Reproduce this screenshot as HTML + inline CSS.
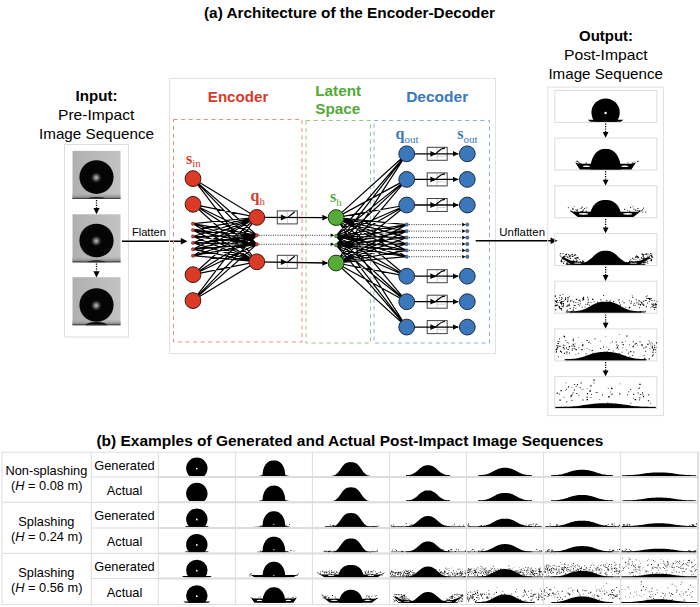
<!DOCTYPE html>
<html><head><meta charset="utf-8"><style>
html,body{margin:0;padding:0;background:#fff;}
svg{display:block;}
</style></head><body>
<svg width="700" height="607" viewBox="0 0 700 607">
<defs>
<linearGradient id="gbg" x1="0" y1="0" x2="1" y2="0"><stop offset="0" stop-color="#afafaf"/><stop offset="1" stop-color="#c3c3c3"/></linearGradient>
<radialGradient id="hl" cx="0.5" cy="0.5" r="0.5"><stop offset="0" stop-color="#c8c8c8"/><stop offset="0.35" stop-color="#707070"/><stop offset="0.7" stop-color="#202020"/><stop offset="1" stop-color="#050505" stop-opacity="0"/></radialGradient>
<linearGradient id="gfloor" x1="0" y1="0" x2="0" y2="1"><stop offset="0" stop-color="#b0b0b0" stop-opacity="0"/><stop offset="0.55" stop-color="#a0a0a0"/><stop offset="1" stop-color="#6a6a6a"/></linearGradient>
</defs>
<rect width="700" height="607" fill="#fff"/>
<text x="204" y="18.2" font-family='"Liberation Sans", sans-serif' font-size="14.6" font-weight="bold" fill="#000" text-anchor="start" textLength="291" lengthAdjust="spacingAndGlyphs">(a) Architecture of the Encoder-Decoder</text>
<text x="75.6" y="101" font-family='"Liberation Sans", sans-serif' font-size="14.6" font-weight="bold" fill="#000" text-anchor="start" textLength="42" lengthAdjust="spacingAndGlyphs">Input:</text>
<text x="58" y="119.6" font-family='"Liberation Sans", sans-serif' font-size="14.6" font-weight="normal" fill="#000" text-anchor="start" textLength="76.4" lengthAdjust="spacingAndGlyphs">Pre-Impact</text>
<text x="39" y="138.6" font-family='"Liberation Sans", sans-serif' font-size="14.6" font-weight="normal" fill="#000" text-anchor="start" textLength="115" lengthAdjust="spacingAndGlyphs">Image Sequence</text>
<rect x="64.5" y="144.5" width="64" height="192.5" fill="none" stroke="#dedede" stroke-width="1"/>
<rect x="72.5" y="150.9" width="48" height="48" fill="url(#gbg)"/>
<rect x="72.5" y="192.9" width="48" height="6" fill="url(#gfloor)"/>
<path d="M87.0,198.9 A9.5,2.0 0 0 1 106.0,198.9 Z" fill="#1e1e1e"/>
<rect x="72.5" y="198.1" width="48" height="0.8" fill="#3a3a3a"/>
<ellipse cx="96.5" cy="177.1" rx="17.1" ry="16.8" fill="#050505"/>
<circle cx="96.2" cy="177.6" r="6" fill="url(#hl)"/>
<rect x="72.5" y="214.3" width="48" height="48" fill="url(#gbg)"/>
<rect x="72.5" y="256.3" width="48" height="6" fill="url(#gfloor)"/>
<path d="M87.0,262.3 A9.5,2.0 0 0 1 106.0,262.3 Z" fill="#1e1e1e"/>
<rect x="72.5" y="261.5" width="48" height="0.8" fill="#3a3a3a"/>
<ellipse cx="96.5" cy="240.5" rx="17.1" ry="16.8" fill="#050505"/>
<circle cx="96.2" cy="241.0" r="6" fill="url(#hl)"/>
<rect x="72.5" y="277.2" width="48" height="48" fill="url(#gbg)"/>
<rect x="72.5" y="319.2" width="48" height="6" fill="url(#gfloor)"/>
<path d="M85.5,325.2 A11,3.2 0 0 1 107.5,325.2 Z" fill="#0a0a0a"/>
<rect x="72.5" y="324.4" width="48" height="0.8" fill="#3a3a3a"/>
<ellipse cx="96.5" cy="305.0" rx="17.1" ry="16.8" fill="#050505"/>
<circle cx="96.2" cy="305.5" r="6" fill="url(#hl)"/>
<line x1="96.5" y1="200.0" x2="96.5" y2="208.10000000000002" stroke="#000" stroke-width="1.3" stroke-dasharray="1.2 1.2"/>
<path d="M93.4,208.10000000000002 L99.6,208.10000000000002 L96.5,214.3 Z" fill="#000"/>
<line x1="96.5" y1="263.5" x2="96.5" y2="271.2" stroke="#000" stroke-width="1.3" stroke-dasharray="1.2 1.2"/>
<path d="M93.4,271.2 L99.6,271.2 L96.5,277.4 Z" fill="#000"/>
<text x="131.9" y="235.8" font-family='"Liberation Sans", sans-serif' font-size="11.2" font-weight="normal" fill="#000" text-anchor="start" textLength="34" lengthAdjust="spacingAndGlyphs">Flatten</text>
<line x1="122" y1="241.2" x2="182.5" y2="241.2" stroke="#000" stroke-width="1.5"/>
<path d="M180.8,238 L187.5,241.2 L180.8,244.4 Z" fill="#000"/>
<rect x="169.5" y="78.5" width="326" height="275" fill="none" stroke="#e2e2e2" stroke-width="1"/>
<text x="207.8" y="101.8" font-family='"Liberation Sans", sans-serif' font-size="15" font-weight="bold" fill="#d83a27" text-anchor="start" textLength="60.5" lengthAdjust="spacingAndGlyphs">Encoder</text>
<text x="315.2" y="95.8" font-family='"Liberation Sans", sans-serif' font-size="15" font-weight="bold" fill="#53aa39" text-anchor="start" textLength="46" lengthAdjust="spacingAndGlyphs">Latent</text>
<text x="315.2" y="114" font-family='"Liberation Sans", sans-serif' font-size="15" font-weight="bold" fill="#53aa39" text-anchor="start" textLength="45.2" lengthAdjust="spacingAndGlyphs">Space</text>
<text x="406.2" y="102" font-family='"Liberation Sans", sans-serif' font-size="15" font-weight="bold" fill="#3a78be" text-anchor="start" textLength="62" lengthAdjust="spacingAndGlyphs">Decoder</text>
<rect x="173.5" y="119.5" width="128.5" height="222.5" fill="none" stroke="#ec8c7e" stroke-width="1" stroke-dasharray="4 3.6"/>
<rect x="306" y="120.5" width="64.5" height="222.5" fill="none" stroke="#93ca80" stroke-width="1" stroke-dasharray="4 3.6"/>
<rect x="374" y="120.5" width="115.5" height="222.5" fill="none" stroke="#8ab0dc" stroke-width="1" stroke-dasharray="4 3.6"/>
<path d="M193.0,178.6L256.8,217.4M193.0,178.6L256.8,261.8M193.0,178.6L256.8,235.3M193.0,178.6L256.8,244.3M193.0,204.3L256.8,217.4M193.0,204.3L256.8,261.8M193.0,204.3L256.8,235.3M193.0,204.3L256.8,244.3M193.0,274.7L256.8,217.4M193.0,274.7L256.8,261.8M193.0,274.7L256.8,235.3M193.0,274.7L256.8,244.3M193.0,300.6L256.8,217.4M193.0,300.6L256.8,261.8M193.0,300.6L256.8,235.3M193.0,300.6L256.8,244.3M193.0,223.7L256.8,217.4M193.0,223.7L256.8,261.8M193.0,223.7L256.8,235.3M193.0,223.7L256.8,244.3M193.0,230.1L256.8,217.4M193.0,230.1L256.8,261.8M193.0,230.1L256.8,235.3M193.0,230.1L256.8,244.3M193.0,236.5L256.8,217.4M193.0,236.5L256.8,261.8M193.0,236.5L256.8,235.3M193.0,236.5L256.8,244.3M193.0,242.9L256.8,217.4M193.0,242.9L256.8,261.8M193.0,242.9L256.8,235.3M193.0,242.9L256.8,244.3M193.0,249.3L256.8,217.4M193.0,249.3L256.8,261.8M193.0,249.3L256.8,235.3M193.0,249.3L256.8,244.3M193.0,255.7L256.8,217.4M193.0,255.7L256.8,261.8M193.0,255.7L256.8,235.3M193.0,255.7L256.8,244.3M336.1,217.6L406.7,153.8M336.1,217.6L406.7,179.4M336.1,217.6L406.7,205.0M336.1,217.6L406.7,276.2M336.1,217.6L406.7,301.7M336.1,217.6L406.7,327.1M336.1,217.6L406.7,224.6M336.1,217.6L406.7,231.1M336.1,217.6L406.7,237.6M336.1,217.6L406.7,244.0M336.1,217.6L406.7,250.4M336.1,217.6L406.7,256.7M336.1,263.0L406.7,153.8M336.1,263.0L406.7,179.4M336.1,263.0L406.7,205.0M336.1,263.0L406.7,276.2M336.1,263.0L406.7,301.7M336.1,263.0L406.7,327.1M336.1,263.0L406.7,224.6M336.1,263.0L406.7,231.1M336.1,263.0L406.7,237.6M336.1,263.0L406.7,244.0M336.1,263.0L406.7,250.4M336.1,263.0L406.7,256.7M336.1,236.0L406.7,153.8M336.1,236.0L406.7,179.4M336.1,236.0L406.7,205.0M336.1,236.0L406.7,276.2M336.1,236.0L406.7,301.7M336.1,236.0L406.7,327.1M336.1,236.0L406.7,224.6M336.1,236.0L406.7,231.1M336.1,236.0L406.7,237.6M336.1,236.0L406.7,244.0M336.1,236.0L406.7,250.4M336.1,236.0L406.7,256.7M336.1,245.2L406.7,153.8M336.1,245.2L406.7,179.4M336.1,245.2L406.7,205.0M336.1,245.2L406.7,276.2M336.1,245.2L406.7,301.7M336.1,245.2L406.7,327.1M336.1,245.2L406.7,224.6M336.1,245.2L406.7,231.1M336.1,245.2L406.7,237.6M336.1,245.2L406.7,244.0M336.1,245.2L406.7,250.4M336.1,245.2L406.7,256.7" stroke="#000" stroke-width="1.2" fill="none"/>
<rect x="277.3" y="210.9" width="20" height="13" fill="#fff" stroke="#444" stroke-width="1"/>
<line x1="287.3" y1="211.4" x2="287.3" y2="223.4" stroke="#bbb" stroke-width="0.8"/>
<line x1="256.8" y1="217.4" x2="327.1" y2="217.6" stroke="#000" stroke-width="1.3"/>
<path d="M280.9,214.6 L287.2,217.6 L280.9,220.6 Z" fill="#000"/>
<line x1="287.8" y1="217.6" x2="294.7" y2="211.8" stroke="#000" stroke-width="1.2"/>
<path d="M322.3,214.79999999999998 L328.3,217.6 L322.3,220.4 Z" fill="#000"/>
<rect x="277.3" y="255.3" width="20" height="13" fill="#fff" stroke="#444" stroke-width="1"/>
<line x1="287.3" y1="255.8" x2="287.3" y2="267.8" stroke="#bbb" stroke-width="0.8"/>
<line x1="256.8" y1="261.8" x2="327.1" y2="263.0" stroke="#000" stroke-width="1.3"/>
<path d="M280.9,259.0 L287.2,262.0 L280.9,265.0 Z" fill="#000"/>
<line x1="287.8" y1="262.0" x2="294.7" y2="256.2" stroke="#000" stroke-width="1.2"/>
<path d="M322.3,260.2 L328.3,263.0 L322.3,265.8 Z" fill="#000"/>
<line x1="256.8" y1="235.3" x2="331" y2="235.3" stroke="#222" stroke-width="0.9" stroke-dasharray="1 1.3"/>
<path d="M330.7,233.5 L334.3,235.3 L330.7,237.10000000000002 Z" fill="#000"/>
<line x1="256.8" y1="244.3" x2="331" y2="244.3" stroke="#222" stroke-width="0.9" stroke-dasharray="1 1.3"/>
<path d="M330.7,242.5 L334.3,244.3 L330.7,246.10000000000002 Z" fill="#000"/>
<rect x="427.2" y="147.3" width="20" height="13" fill="#fff" stroke="#444" stroke-width="1"/>
<line x1="437.2" y1="147.8" x2="437.2" y2="159.8" stroke="#bbb" stroke-width="0.8"/>
<line x1="437.2" y1="156.3" x2="446.7" y2="156.3" stroke="#ccc" stroke-width="0.8"/>
<line x1="406.7" y1="153.8" x2="458.3" y2="153.8" stroke="#000" stroke-width="1.3"/>
<path d="M430.4,150.9 L436.2,153.8 L430.4,156.70000000000002 Z" fill="#000"/>
<path d="M433,154.60000000000002 C437.5,154.60000000000002 438.5,148.20000000000002 445,148.20000000000002" stroke="#000" stroke-width="1.2" fill="none"/>
<path d="M453.0,151.10000000000002 L458.5,153.8 L453.0,156.5 Z" fill="#000"/>
<rect x="427.2" y="172.9" width="20" height="13" fill="#fff" stroke="#444" stroke-width="1"/>
<line x1="437.2" y1="173.4" x2="437.2" y2="185.4" stroke="#bbb" stroke-width="0.8"/>
<line x1="437.2" y1="181.9" x2="446.7" y2="181.9" stroke="#ccc" stroke-width="0.8"/>
<line x1="406.7" y1="179.4" x2="458.3" y2="179.4" stroke="#000" stroke-width="1.3"/>
<path d="M430.4,176.5 L436.2,179.4 L430.4,182.3 Z" fill="#000"/>
<path d="M433,180.20000000000002 C437.5,180.20000000000002 438.5,173.8 445,173.8" stroke="#000" stroke-width="1.2" fill="none"/>
<path d="M453.0,176.70000000000002 L458.5,179.4 L453.0,182.1 Z" fill="#000"/>
<rect x="427.2" y="198.5" width="20" height="13" fill="#fff" stroke="#444" stroke-width="1"/>
<line x1="437.2" y1="199.0" x2="437.2" y2="211.0" stroke="#bbb" stroke-width="0.8"/>
<line x1="437.2" y1="207.5" x2="446.7" y2="207.5" stroke="#ccc" stroke-width="0.8"/>
<line x1="406.7" y1="205.0" x2="458.3" y2="205.0" stroke="#000" stroke-width="1.3"/>
<path d="M430.4,202.1 L436.2,205.0 L430.4,207.9 Z" fill="#000"/>
<path d="M433,205.8 C437.5,205.8 438.5,199.4 445,199.4" stroke="#000" stroke-width="1.2" fill="none"/>
<path d="M453.0,202.3 L458.5,205.0 L453.0,207.7 Z" fill="#000"/>
<rect x="427.2" y="269.7" width="20" height="13" fill="#fff" stroke="#444" stroke-width="1"/>
<line x1="437.2" y1="270.2" x2="437.2" y2="282.2" stroke="#bbb" stroke-width="0.8"/>
<line x1="437.2" y1="278.7" x2="446.7" y2="278.7" stroke="#ccc" stroke-width="0.8"/>
<line x1="406.7" y1="276.2" x2="458.3" y2="276.2" stroke="#000" stroke-width="1.3"/>
<path d="M430.4,273.3 L436.2,276.2 L430.4,279.09999999999997 Z" fill="#000"/>
<path d="M433,277.0 C437.5,277.0 438.5,270.59999999999997 445,270.59999999999997" stroke="#000" stroke-width="1.2" fill="none"/>
<path d="M453.0,273.5 L458.5,276.2 L453.0,278.9 Z" fill="#000"/>
<rect x="427.2" y="295.2" width="20" height="13" fill="#fff" stroke="#444" stroke-width="1"/>
<line x1="437.2" y1="295.7" x2="437.2" y2="307.7" stroke="#bbb" stroke-width="0.8"/>
<line x1="437.2" y1="304.2" x2="446.7" y2="304.2" stroke="#ccc" stroke-width="0.8"/>
<line x1="406.7" y1="301.7" x2="458.3" y2="301.7" stroke="#000" stroke-width="1.3"/>
<path d="M430.4,298.8 L436.2,301.7 L430.4,304.59999999999997 Z" fill="#000"/>
<path d="M433,302.5 C437.5,302.5 438.5,296.09999999999997 445,296.09999999999997" stroke="#000" stroke-width="1.2" fill="none"/>
<path d="M453.0,299.0 L458.5,301.7 L453.0,304.4 Z" fill="#000"/>
<rect x="427.2" y="320.6" width="20" height="13" fill="#fff" stroke="#444" stroke-width="1"/>
<line x1="437.2" y1="321.1" x2="437.2" y2="333.1" stroke="#bbb" stroke-width="0.8"/>
<line x1="437.2" y1="329.6" x2="446.7" y2="329.6" stroke="#ccc" stroke-width="0.8"/>
<line x1="406.7" y1="327.1" x2="458.3" y2="327.1" stroke="#000" stroke-width="1.3"/>
<path d="M430.4,324.20000000000005 L436.2,327.1 L430.4,330.0 Z" fill="#000"/>
<path d="M433,327.90000000000003 C437.5,327.90000000000003 438.5,321.5 445,321.5" stroke="#000" stroke-width="1.2" fill="none"/>
<path d="M453.0,324.40000000000003 L458.5,327.1 L453.0,329.8 Z" fill="#000"/>
<line x1="406.7" y1="224.6" x2="462" y2="224.6" stroke="#222" stroke-width="0.9" stroke-dasharray="1 1.3"/>
<path d="M462.20000000000005,222.79999999999998 L465.6,224.6 L462.20000000000005,226.4 Z" fill="#000"/>
<line x1="406.7" y1="231.1" x2="462" y2="231.1" stroke="#222" stroke-width="0.9" stroke-dasharray="1 1.3"/>
<path d="M462.20000000000005,229.29999999999998 L465.6,231.1 L462.20000000000005,232.9 Z" fill="#000"/>
<line x1="406.7" y1="237.6" x2="462" y2="237.6" stroke="#222" stroke-width="0.9" stroke-dasharray="1 1.3"/>
<path d="M462.20000000000005,235.79999999999998 L465.6,237.6 L462.20000000000005,239.4 Z" fill="#000"/>
<line x1="406.7" y1="244.0" x2="462" y2="244.0" stroke="#222" stroke-width="0.9" stroke-dasharray="1 1.3"/>
<path d="M462.20000000000005,242.2 L465.6,244.0 L462.20000000000005,245.8 Z" fill="#000"/>
<line x1="406.7" y1="250.4" x2="462" y2="250.4" stroke="#222" stroke-width="0.9" stroke-dasharray="1 1.3"/>
<path d="M462.20000000000005,248.6 L465.6,250.4 L462.20000000000005,252.20000000000002 Z" fill="#000"/>
<line x1="406.7" y1="256.7" x2="462" y2="256.7" stroke="#222" stroke-width="0.9" stroke-dasharray="1 1.3"/>
<path d="M462.20000000000005,254.89999999999998 L465.6,256.7 L462.20000000000005,258.5 Z" fill="#000"/>
<circle cx="193.0" cy="178.6" r="7.9" fill="#db3b26" stroke="#3d1c12" stroke-width="1"/>
<circle cx="193.0" cy="204.3" r="7.9" fill="#db3b26" stroke="#3d1c12" stroke-width="1"/>
<circle cx="193.0" cy="274.7" r="7.9" fill="#db3b26" stroke="#3d1c12" stroke-width="1"/>
<circle cx="193.0" cy="300.6" r="7.9" fill="#db3b26" stroke="#3d1c12" stroke-width="1"/>
<circle cx="193.0" cy="223.7" r="1.7" fill="#db3b26" stroke="#222" stroke-width="0.4"/>
<circle cx="193.0" cy="230.1" r="1.7" fill="#db3b26" stroke="#222" stroke-width="0.4"/>
<circle cx="193.0" cy="236.5" r="1.7" fill="#db3b26" stroke="#222" stroke-width="0.4"/>
<circle cx="193.0" cy="242.9" r="1.7" fill="#db3b26" stroke="#222" stroke-width="0.4"/>
<circle cx="193.0" cy="249.3" r="1.7" fill="#db3b26" stroke="#222" stroke-width="0.4"/>
<circle cx="193.0" cy="255.7" r="1.7" fill="#db3b26" stroke="#222" stroke-width="0.4"/>
<circle cx="256.8" cy="217.4" r="7.9" fill="#db3b26" stroke="#3d1c12" stroke-width="1"/>
<circle cx="256.8" cy="261.8" r="7.9" fill="#db3b26" stroke="#3d1c12" stroke-width="1"/>
<circle cx="256.8" cy="235.3" r="1.7" fill="#db3b26" stroke="#222" stroke-width="0.4"/>
<circle cx="256.8" cy="244.3" r="1.7" fill="#db3b26" stroke="#222" stroke-width="0.4"/>
<circle cx="336.1" cy="217.6" r="7.9" fill="#55ab37" stroke="#203b16" stroke-width="1"/>
<circle cx="336.1" cy="263.0" r="7.9" fill="#55ab37" stroke="#203b16" stroke-width="1"/>
<circle cx="336.1" cy="236.0" r="1.7" fill="#55ab37" stroke="#222" stroke-width="0.4"/>
<circle cx="336.1" cy="245.2" r="1.7" fill="#55ab37" stroke="#222" stroke-width="0.4"/>
<circle cx="406.7" cy="153.8" r="7.9" fill="#3a77bb" stroke="#1c2c44" stroke-width="1"/>
<circle cx="406.7" cy="179.4" r="7.9" fill="#3a77bb" stroke="#1c2c44" stroke-width="1"/>
<circle cx="406.7" cy="205.0" r="7.9" fill="#3a77bb" stroke="#1c2c44" stroke-width="1"/>
<circle cx="406.7" cy="276.2" r="7.9" fill="#3a77bb" stroke="#1c2c44" stroke-width="1"/>
<circle cx="406.7" cy="301.7" r="7.9" fill="#3a77bb" stroke="#1c2c44" stroke-width="1"/>
<circle cx="406.7" cy="327.1" r="7.9" fill="#3a77bb" stroke="#1c2c44" stroke-width="1"/>
<circle cx="406.7" cy="224.6" r="1.7" fill="#3a77bb" stroke="#222" stroke-width="0.4"/>
<circle cx="406.7" cy="231.1" r="1.7" fill="#3a77bb" stroke="#222" stroke-width="0.4"/>
<circle cx="406.7" cy="237.6" r="1.7" fill="#3a77bb" stroke="#222" stroke-width="0.4"/>
<circle cx="406.7" cy="244.0" r="1.7" fill="#3a77bb" stroke="#222" stroke-width="0.4"/>
<circle cx="406.7" cy="250.4" r="1.7" fill="#3a77bb" stroke="#222" stroke-width="0.4"/>
<circle cx="406.7" cy="256.7" r="1.7" fill="#3a77bb" stroke="#222" stroke-width="0.4"/>
<circle cx="467.3" cy="153.8" r="7.9" fill="#3a77bb" stroke="#1c2c44" stroke-width="1"/>
<circle cx="467.3" cy="179.4" r="7.9" fill="#3a77bb" stroke="#1c2c44" stroke-width="1"/>
<circle cx="467.3" cy="205.0" r="7.9" fill="#3a77bb" stroke="#1c2c44" stroke-width="1"/>
<circle cx="467.3" cy="276.2" r="7.9" fill="#3a77bb" stroke="#1c2c44" stroke-width="1"/>
<circle cx="467.3" cy="301.7" r="7.9" fill="#3a77bb" stroke="#1c2c44" stroke-width="1"/>
<circle cx="467.3" cy="327.1" r="7.9" fill="#3a77bb" stroke="#1c2c44" stroke-width="1"/>
<circle cx="467.3" cy="224.6" r="1.7" fill="#3a77bb" stroke="#222" stroke-width="0.4"/>
<circle cx="467.3" cy="231.1" r="1.7" fill="#3a77bb" stroke="#222" stroke-width="0.4"/>
<circle cx="467.3" cy="237.6" r="1.7" fill="#3a77bb" stroke="#222" stroke-width="0.4"/>
<circle cx="467.3" cy="244.0" r="1.7" fill="#3a77bb" stroke="#222" stroke-width="0.4"/>
<circle cx="467.3" cy="250.4" r="1.7" fill="#3a77bb" stroke="#222" stroke-width="0.4"/>
<circle cx="467.3" cy="256.7" r="1.7" fill="#3a77bb" stroke="#222" stroke-width="0.4"/>
<text x="186" y="163.6" font-family='"Liberation Serif", serif' font-weight="bold" font-size="16" fill="#d83a27">s<tspan font-size="11" font-weight="normal" dy="3.8">in</tspan></text>
<text x="250.5" y="200.7" font-family='"Liberation Serif", serif' font-weight="bold" font-size="16" fill="#d83a27">q<tspan font-size="11" font-weight="normal" dy="3.8">h</tspan></text>
<text x="330" y="202.4" font-family='"Liberation Serif", serif' font-weight="bold" font-size="16" fill="#53aa39">s<tspan font-size="11" font-weight="normal" dy="3.8">h</tspan></text>
<text x="395.6" y="139.4" font-family='"Liberation Serif", serif' font-weight="bold" font-size="16" fill="#3a78be">q<tspan font-size="11" font-weight="normal" dy="3.8">out</tspan></text>
<text x="457.2" y="139.4" font-family='"Liberation Serif", serif' font-weight="bold" font-size="16" fill="#3a78be">s<tspan font-size="11" font-weight="normal" dy="3.8">out</tspan></text>
<text x="499.3" y="235.7" font-family='"Liberation Sans", sans-serif' font-size="11.2" font-weight="normal" fill="#000" text-anchor="start" textLength="45.7" lengthAdjust="spacingAndGlyphs">Unflatten</text>
<line x1="475.7" y1="240.7" x2="552" y2="240.7" stroke="#000" stroke-width="1.5"/>
<path d="M550.6,237.5 L557.6,240.7 L550.6,243.9 Z" fill="#000"/>
<text x="579" y="41" font-family='"Liberation Sans", sans-serif' font-size="14.6" font-weight="bold" fill="#000" text-anchor="start" textLength="54" lengthAdjust="spacingAndGlyphs">Output:</text>
<text x="564" y="59.6" font-family='"Liberation Sans", sans-serif' font-size="14.6" font-weight="normal" fill="#000" text-anchor="start" textLength="83.6" lengthAdjust="spacingAndGlyphs">Post-Impact</text>
<text x="548.4" y="78.6" font-family='"Liberation Sans", sans-serif' font-size="14.6" font-weight="normal" fill="#000" text-anchor="start" textLength="114.6" lengthAdjust="spacingAndGlyphs">Image Sequence</text>
<rect x="547.8" y="87.1" width="115.7" height="328.5" fill="none" stroke="#e0e0e0" stroke-width="1"/>
<rect x="554.8" y="90.4" width="102" height="32" fill="none" stroke="#dcdcdc" stroke-width="1"/>
<path d="M594.77,121.7 A14.17,14.17 0 1 1 616.43,121.7 Z" fill="#000"/>
<path d="M587.72,119.85 L623.48,119.85 L620.83,121.7 L590.37,121.7 Z" fill="#000"/>
<circle cx="605.6" cy="112.96" r="1.19" fill="#fff"/>
<rect x="554.8" y="138.1" width="102" height="32" fill="none" stroke="#dcdcdc" stroke-width="1"/>
<path d="M590.37,169.4 L590.37,169.4 L591.13,162.55 L591.89,159.88 L592.65,157.93 L593.41,156.39 L594.17,155.12 L594.94,154.04 L595.7,153.12 L596.46,152.33 L597.22,151.65 L597.98,151.07 L598.74,150.57 L599.51,150.16 L600.27,149.81 L601.03,149.52 L601.79,149.3 L602.55,149.12 L603.31,149 L604.08,148.92 L604.84,148.88 L605.6,148.87 L606.36,148.88 L607.12,148.92 L607.89,149 L608.65,149.12 L609.41,149.3 L610.17,149.52 L610.93,149.81 L611.69,150.16 L612.46,150.57 L613.22,151.07 L613.98,151.65 L614.74,152.33 L615.5,153.12 L616.26,154.04 L617.03,155.12 L617.79,156.39 L618.55,157.93 L619.31,159.88 L620.07,162.55 L620.83,169.4 L620.83,169.4 Z" fill="#000"/>
<path d="M579.77,169.4 L631.43,169.4 L635.41,163.31 L636.07,162.25 L632.09,163.7 L579.11,163.7 L575.13,162.25 L575.79,163.31 Z" fill="#000"/>
<ellipse cx="586.39" cy="166.22" rx="3.71" ry="0.79" fill="#fff"/>
<ellipse cx="624.81" cy="166.22" rx="3.71" ry="0.79" fill="#fff"/>
<path d="M632.57,162.56h0.93v1h-0.93zM585.55,162.41h1.03v1.16h-1.03zM579.79,163.1h0.6v1.17h-0.6zM576.47,160.85h1.3v1.05h-1.3zM583.82,164.05h0.95v0.58h-0.95zM585.9,163.3h0.55v0.9h-0.55zM627.37,162.38h1.04v0.93h-1.04zM637.24,160.8h1.2v1.09h-1.2zM578.27,161.56h0.85v1.2h-0.85zM634.72,161.3h0.53v0.7h-0.53zM631.69,162.54h1.31v0.85h-1.31zM578.45,162.02h1.15v0.74h-1.15zM579.35,163h1.3v1.13h-1.3zM581.31,163.29h0.61v0.58h-0.61z" fill="#000"/>
<rect x="554.8" y="185.8" width="102" height="32" fill="none" stroke="#dcdcdc" stroke-width="1"/>
<path d="M589.97,217.1 L589.97,217.1 L590.75,211.47 L591.53,209.27 L592.31,207.66 L593.1,206.37 L593.88,205.31 L594.66,204.4 L595.44,203.62 L596.22,202.95 L597,202.37 L597.78,201.87 L598.57,201.44 L599.35,201.07 L600.13,200.76 L600.91,200.5 L601.69,200.29 L602.47,200.13 L603.26,200.01 L604.04,199.93 L604.82,199.89 L605.6,199.88 L606.38,199.89 L607.16,199.93 L607.94,200.01 L608.73,200.13 L609.51,200.29 L610.29,200.5 L611.07,200.76 L611.85,201.07 L612.63,201.44 L613.42,201.87 L614.2,202.37 L614.98,202.95 L615.76,203.62 L616.54,204.4 L617.32,205.31 L618.1,206.37 L618.89,207.66 L619.67,209.27 L620.45,211.47 L621.23,217.1 L621.23,217.1 Z" fill="#000"/>
<path d="M577.78,217.1 L633.42,217.1 L640.7,211.27 L641.37,210.21 L637.39,211.67 L573.81,211.67 L569.83,210.21 L570.5,211.27 Z" fill="#000"/>
<ellipse cx="583.48" cy="213.79" rx="4.64" ry="0.86" fill="#fff"/>
<ellipse cx="627.72" cy="213.79" rx="4.64" ry="0.86" fill="#fff"/>
<path d="M629.21,210.86h0.97v0.89h-0.97zM581.02,207.92h0.63v1.04h-0.63zM575.12,209.57h0.7v0.74h-0.7zM643.03,207.54h0.77v1.23h-0.77zM582.61,209.71h1.21v1.04h-1.21zM573.83,206.56h0.7v0.74h-0.7zM627.27,210.06h0.77v0.59h-0.77zM573.02,208.71h0.72v1.01h-0.72zM642.09,209.24h0.99v1.22h-0.99zM580.39,210.98h1.25v1.18h-1.25zM585.69,210.8h1.12v1.28h-1.12zM581.48,206.77h1.23v1.01h-1.23zM574.11,211.6h1.3v0.72h-1.3zM586.28,207.44h1v0.76h-1zM579.8,207.98h0.58v0.71h-0.58zM633.61,208.55h0.75v1.26h-0.75zM582.07,211.71h0.74v0.88h-0.74zM570.66,210.87h0.82v0.98h-0.82zM576.32,209.88h1.24v1.31h-1.24zM577.01,211.62h0.54v1.25h-0.54zM642.38,211.69h1.04v0.91h-1.04zM645.29,211.4h0.96v1.12h-0.96zM637.41,207.9h1.09v1.16h-1.09zM638.58,209.94h1.07v1.25h-1.07zM635.1,209.59h1.16v1.22h-1.16zM572.23,208.41h1.32v1.23h-1.32zM624.28,208.72h0.88v1.2h-0.88zM572.52,207.83h0.55v1.01h-0.55zM584.16,208.1h0.93v1.02h-0.93zM639.02,210.45h0.54v0.77h-0.54zM581.96,210.9h1.25v1.05h-1.25zM636.73,210.07h1.06v0.69h-1.06zM629.92,206.96h1.23v0.84h-1.23zM576.68,209.17h1.2v1.2h-1.2zM641.37,210.33h0.66v0.89h-0.66zM582.87,209.61h1.03v0.92h-1.03zM632.55,206.6h0.89v0.59h-0.89zM568.36,207.18h0.56v1.09h-0.56zM628.77,211.7h0.64v0.89h-0.64zM567.83,207.41h0.72v0.64h-0.72z" fill="#000"/>
<rect x="554.8" y="233.5" width="102" height="32" fill="none" stroke="#dcdcdc" stroke-width="1"/>
<path d="M576.46,264.8 L576.46,263.81 L577.62,263.77 L578.79,263.7 L579.95,263.6 L581.12,263.44 L582.29,263.23 L583.45,262.93 L584.62,262.54 L585.78,262.05 L586.95,261.43 L588.11,260.71 L589.28,259.87 L590.45,258.93 L591.61,257.93 L592.78,256.88 L593.94,255.83 L595.11,254.81 L596.27,253.85 L597.44,253 L598.61,252.27 L599.77,251.67 L600.94,251.22 L602.1,250.91 L603.27,250.73 L604.43,250.64 L605.6,250.63 L606.77,250.64 L607.93,250.73 L609.1,250.91 L610.26,251.22 L611.43,251.67 L612.59,252.27 L613.76,253 L614.93,253.85 L616.09,254.81 L617.26,255.83 L618.42,256.88 L619.59,257.93 L620.75,258.93 L621.92,259.87 L623.09,260.71 L624.25,261.43 L625.42,262.05 L626.58,262.54 L627.75,262.93 L628.91,263.23 L630.08,263.44 L631.25,263.6 L632.41,263.7 L633.58,263.77 L634.74,263.81 L634.74,264.8 Z" fill="#000"/>
<rect x="565.86" y="263.74" width="79.48" height="1.06" fill="#000"/>
<path d="M589.7,264.8 L571.82,264.8 L561.22,257.91 L563.21,257.12 L571.16,260.83 L581.76,261.89 L589.7,263.21 Z" fill="#000"/>
<path d="M621.5,264.8 L639.38,264.8 L649.98,257.91 L647.99,257.12 L640.04,260.83 L629.44,261.89 L621.5,263.21 Z" fill="#000"/>
<ellipse cx="577.78" cy="263.08" rx="3.97" ry="0.66" fill="#fff"/>
<ellipse cx="633.42" cy="263.08" rx="3.97" ry="0.66" fill="#fff"/>
<path d="M563.59,256.56h1.11v1.14h-1.11zM577.72,258.09h0.54v0.97h-0.54zM643.27,261.95h1.2v0.65h-1.2zM643.61,259.07h1.35v1.27h-1.35zM646.79,258.21h0.72v1.2h-0.72zM635.12,256.44h0.73v1.36h-0.73zM650.15,253.1h1.26v0.83h-1.26zM643.62,254.31h0.61v0.94h-0.61zM634.27,262.18h0.69v0.84h-0.69zM632.3,261.42h1.01v1.2h-1.01zM637.13,255.96h0.99v1.41h-0.99zM567.21,260.61h0.8v1.21h-0.8zM637.46,257.25h0.88v1.31h-0.88zM642.74,260.74h1.43v1.02h-1.43zM577.87,257.49h1.09v0.56h-1.09zM649.13,257.69h1.27v1.05h-1.27zM647.96,253.64h0.97v0.65h-0.97zM576.99,256.67h0.65v1.25h-0.65zM561.35,260.88h1.17v0.83h-1.17zM568.96,255.55h1v0.76h-1zM577.57,257.54h0.88v0.91h-0.88zM574.05,260.78h1.12v1.02h-1.12zM638.17,256.74h0.75v1.22h-0.75zM644.8,260.65h1.35v0.65h-1.35zM568.23,254.55h1.26v0.65h-1.26zM560.88,260.82h1.37v1.43h-1.37zM569.94,257.79h1v1.17h-1zM576.76,262.11h0.56v1.04h-0.56zM572.83,260.98h1.31v1.45h-1.31zM645.18,261.87h1.41v0.96h-1.41zM630.15,259.57h1.01v0.93h-1.01zM560.46,255.85h0.7v0.95h-0.7zM574.54,257.72h1.36v1.27h-1.36zM650.36,254.82h1.37v1.22h-1.37zM642.37,254.07h1.24v1.24h-1.24zM626.24,262.11h0.96v0.54h-0.96zM651.95,256.43h1.24v1.44h-1.24zM561.35,256.7h0.77v0.9h-0.77zM563.92,260.87h0.62v0.76h-0.62zM643.21,257.35h1.43v1.06h-1.43zM651.51,256.47h0.6v1.08h-0.6zM629.64,262.36h0.68v0.97h-0.68zM574.92,257.89h0.58v1.41h-0.58zM560.54,260.38h0.68v1.23h-0.68zM642.46,255.38h1.45v1.41h-1.45zM566.05,253.82h0.97v1.43h-0.97zM634.97,256.82h1.11v0.95h-1.11zM578.12,262.3h0.65v0.94h-0.65zM647.57,255.52h0.64v1.36h-0.64zM629.09,260.93h1.44v1.38h-1.44zM640.72,262.42h0.78v0.92h-0.78zM568.74,257.43h0.61v1.16h-0.61zM578.77,259.4h1.31v0.6h-1.31zM570.34,254.77h1.24v0.73h-1.24zM650.96,259.58h1.22v1.38h-1.22zM568.23,254.12h0.61v1.05h-0.61zM646.39,253.74h1.27v0.81h-1.27zM645.91,253.92h0.87v0.87h-0.87zM577.31,257.21h1.03v1.31h-1.03zM575.61,255.27h0.79v0.55h-0.79zM648.85,256.34h0.59v1.04h-0.59zM632.31,261.98h1.21v1.36h-1.21zM567.09,256.51h1.22v1.13h-1.22zM582,260.62h1.01v1.24h-1.01zM649.02,256.13h1.03v1.2h-1.03zM635.85,256.19h1.28v1.3h-1.28zM641.64,253.3h1.02v1.19h-1.02zM633.63,258.62h0.67v1.22h-0.67zM651.13,259.08h0.72v0.92h-0.72zM631.19,261.03h0.96v1.07h-0.96zM643.55,262.45h0.7v0.73h-0.7zM580,260.98h0.69v1.23h-0.69zM647.98,258.02h0.58v1.41h-0.58zM633.55,258.99h1.01v0.78h-1.01zM651.06,256.28h0.54v0.97h-0.54zM573.82,261.25h0.77v1.34h-0.77zM651.33,260.17h0.67v1.24h-0.67zM559.36,254.65h1.29v0.61h-1.29zM647.84,256.98h0.81v1.26h-0.81zM644.24,261.91h0.72v1.03h-0.72zM573.85,254.55h0.82v0.6h-0.82zM648.9,254.57h0.54v0.88h-0.54zM560.21,252.96h0.72v1.1h-0.72zM583.02,260.83h0.84v1.41h-0.84zM567.79,261.41h1.16v1.19h-1.16zM575.92,258.82h1.08v0.61h-1.08zM580.25,261.25h0.91v0.6h-0.91zM644.6,258.57h1.13v1.24h-1.13zM635.38,258.98h0.91v0.54h-0.91zM560.96,259.52h1.13v0.63h-1.13zM573.92,255.2h1.04v0.86h-1.04zM572.38,255.73h1.01v1.19h-1.01zM636.71,260.85h1.11v0.71h-1.11zM566.95,260.38h1.18v0.84h-1.18zM645.39,259.22h0.64v1.43h-0.64zM571.81,253.83h1.05v1.05h-1.05zM635.04,256.84h1.29v0.8h-1.29zM642.41,260.42h1.3v0.7h-1.3zM566.31,262.49h1.45v1.4h-1.45zM633.77,262.65h0.96v0.66h-0.96zM575.34,257.65h1.06v0.84h-1.06zM562.75,256.15h1.42v1.09h-1.42zM651.46,254.49h0.91v0.93h-0.91zM643.18,257.59h0.93v1.37h-0.93zM564.31,255.6h1.21v1.08h-1.21zM628.96,259.79h0.59v0.65h-0.59zM564.05,255.91h0.75v0.81h-0.75zM581.11,262.13h1.43v1.15h-1.43zM639.58,258.63h0.74v1.22h-0.74zM643.01,261.83h0.64v1.03h-0.64zM647.42,262.81h0.81v0.83h-0.81zM565.04,253.92h0.9v0.86h-0.9zM563.49,262.5h0.82v0.99h-0.82zM645.84,253.1h0.72v0.8h-0.72zM644.79,253.9h1.31v0.86h-1.31zM575.17,254.07h0.72v1.12h-0.72zM569.07,255.6h1.36v1.34h-1.36zM646.2,258.39h0.74v0.81h-0.74zM641.25,256.95h0.81v1.39h-0.81zM650.39,258.44h1.02v0.57h-1.02zM567.32,259.98h0.76v0.79h-0.76zM562.35,258.23h0.89v1.39h-0.89zM575.92,257.29h0.86v1.14h-0.86zM631.84,257.68h1.31v1.16h-1.31zM647.47,261.09h0.68v1.09h-0.68zM562.51,256.88h1.06v1.34h-1.06zM575.93,261.3h0.99v0.93h-0.99zM643.37,257.16h1.26v0.75h-1.26zM572.8,259.72h0.82v1.11h-0.82zM635.32,261.11h0.68v1.17h-0.68zM636.29,255h0.91v0.87h-0.91zM628.31,262.42h1.36v0.66h-1.36zM562.41,252.92h1.21v0.74h-1.21zM645.7,259.2h1.44v1.1h-1.44zM562.92,258.81h0.58v0.85h-0.58zM641.43,258.22h1.31v0.88h-1.31zM631.69,260.67h0.7v1.04h-0.7zM574.43,260.79h0.96v0.82h-0.96zM651.34,256.07h0.72v0.88h-0.72zM565.99,255.94h0.78v0.55h-0.78zM576.12,260.21h1.39v1.19h-1.39zM646.09,259.24h1.2v1.37h-1.2zM561.13,259.61h0.61v1.35h-0.61zM581.33,262.41h1.08v0.56h-1.08zM571.85,255.79h1.2v1.15h-1.2zM572.89,260.78h1.19v0.91h-1.19zM639.54,260.57h0.85v0.73h-0.85zM563.01,262.57h1.05v1.28h-1.05zM649.7,259.85h1.38v0.73h-1.38zM639.76,260.48h0.61v0.93h-0.61z" fill="#000"/>
<rect x="554.8" y="281.2" width="102" height="32" fill="none" stroke="#dcdcdc" stroke-width="1"/>
<path d="M569.83,312.5 L569.83,311.53 L571.26,311.5 L572.7,311.46 L574.13,311.38 L575.56,311.27 L576.99,311.12 L578.42,310.91 L579.85,310.62 L581.28,310.26 L582.71,309.81 L584.14,309.27 L585.57,308.64 L587,307.94 L588.43,307.19 L589.86,306.4 L591.29,305.6 L592.72,304.83 L594.15,304.1 L595.59,303.45 L597.02,302.89 L598.45,302.44 L599.88,302.09 L601.31,301.86 L602.74,301.71 L604.17,301.65 L605.6,301.64 L607.03,301.65 L608.46,301.71 L609.89,301.86 L611.32,302.09 L612.75,302.44 L614.18,302.89 L615.61,303.45 L617.05,304.1 L618.48,304.83 L619.91,305.6 L621.34,306.4 L622.77,307.19 L624.2,307.94 L625.63,308.64 L627.06,309.27 L628.49,309.81 L629.92,310.26 L631.35,310.62 L632.78,310.91 L634.21,311.12 L635.64,311.27 L637.07,311.38 L638.5,311.46 L639.94,311.5 L641.37,311.53 L641.37,312.5 Z" fill="#000"/>
<rect x="565.86" y="311.44" width="79.48" height="1.06" fill="#000"/>
<path d="M588.07,301.63h0.68v0.9h-0.68zM556.95,303.8h0.59v0.9h-0.59zM560.17,301.66h0.96v0.83h-0.96zM645.56,300.22h1.15v0.7h-1.15zM654.25,308.76h0.74v1.16h-0.74zM630.99,300.87h0.76v0.83h-0.76zM572.73,301.29h0.59v0.59h-0.59zM565.03,297.37h0.95v1.25h-0.95zM559.57,297.19h0.57v0.8h-0.57zM654.66,303.84h1.04v1.27h-1.04zM569.58,308.24h1.4v0.76h-1.4zM556.56,300.22h1.11v0.78h-1.11zM577.81,301.94h0.77v0.58h-0.77zM555.72,301.01h1.26v1.21h-1.26zM651.54,303.58h0.76v1.37h-0.76zM557,299.99h0.89v0.87h-0.89zM619.68,304.57h1.37v0.83h-1.37zM569.18,304.64h0.54v1h-0.54zM655.33,303.01h0.73v0.91h-0.73zM606.09,300.18h1.31v1.17h-1.31zM613.02,301.26h1.11v0.94h-1.11zM655.52,303.58h0.65v1.45h-0.65zM583.12,298.62h1.04v1.26h-1.04zM556.17,304.87h1.11v0.79h-1.11zM638.26,303.44h1v1.4h-1zM561.15,303.23h0.94v1.41h-0.94zM579.56,303.39h1.36v0.76h-1.36zM609.26,300.88h1.26v0.81h-1.26zM652.9,303.35h0.67v1.29h-0.67zM562.59,306.48h1.38v0.83h-1.38zM651.14,300.18h1.37v0.9h-1.37zM559.66,294.68h1.02v1.04h-1.02zM555.51,303.49h0.54v1.08h-0.54zM652.6,304.33h0.87v0.81h-0.87zM642.33,303.58h1.16v0.61h-1.16zM649.19,298.72h1.4v1.23h-1.4zM587.23,296.75h0.64v1.3h-0.64zM622.56,300.58h0.64v0.82h-0.64zM571.58,299.81h0.85v0.68h-0.85zM654.62,305.1h0.75v0.77h-0.75zM629.1,300.03h0.59v1.29h-0.59zM647.38,302.48h0.74v1.23h-0.74zM581.6,306.72h1.03v0.76h-1.03zM584.49,306.65h0.98v0.78h-0.98zM650.53,298.34h1.37v0.62h-1.37zM562.47,301.02h1.02v0.86h-1.02zM597.16,301.86h0.98v1.05h-0.98zM653.8,300.31h0.81v0.84h-0.81zM631.85,295.25h0.59v1.27h-0.59zM588.83,304.72h1.24v0.77h-1.24zM623.44,302.5h1.35v0.69h-1.35zM634.53,305h1.14v0.77h-1.14zM573.42,307.07h0.84v1.2h-0.84zM655.63,303.89h1.26v1.26h-1.26zM603.14,295.04h0.99v0.88h-0.99zM573.45,304.7h0.81v0.7h-0.81zM567.12,301.02h1.06v1.24h-1.06zM558.84,306.49h0.87v0.97h-0.87zM644.76,299.91h1.03v0.96h-1.03zM578.58,299.85h1.41v0.79h-1.41zM619.05,302.35h0.99v0.98h-0.99zM640.4,301.51h0.71v0.73h-0.71zM567.38,296.92h1.33v1.24h-1.33zM579.22,305.11h0.58v0.86h-0.58zM656.33,301h1.24v0.58h-1.24zM569.93,300.52h1.2v1.2h-1.2zM645.22,310.69h0.78v1.17h-0.78zM559.33,297.25h0.58v0.97h-0.58zM641.51,301.85h0.82v1.44h-0.82zM566.83,305.59h1.33v1h-1.33zM654.56,304.82h0.55v0.92h-0.55zM651.54,306.2h1.02v0.99h-1.02zM572.75,309.42h1.27v1.22h-1.27zM655.27,307.25h1.1v0.67h-1.1zM652.95,304.83h0.93v1.3h-0.93zM647.96,297.94h0.86v1.18h-0.86zM577.7,304.36h1.2v0.57h-1.2zM610.01,299.86h0.57v0.86h-0.57zM560.99,309.75h1.18v0.69h-1.18zM587.49,302.24h1.05v0.86h-1.05zM640.89,302.21h0.82v1.35h-0.82zM645.64,307.24h0.81v0.56h-0.81zM635.83,299.1h0.71v1.34h-0.71zM630.54,302.5h1.04v1.35h-1.04zM646.44,297.99h0.94v1.03h-0.94zM564.93,298.76h1.29v1.2h-1.29zM631.95,310.66h1.27v0.66h-1.27zM559.06,300.27h1.29v0.76h-1.29zM653.37,306.91h1.38v1.16h-1.38zM561.32,308.01h0.8v1.31h-0.8zM593.77,300.94h0.56v1.44h-0.56zM592.47,305.06h1.08v1.38h-1.08zM573,301.57h1.24v1.05h-1.24zM562.57,294.08h0.71v0.96h-0.71zM632.22,297.01h1.3v0.67h-1.3zM571.16,311.07h1.34v0.88h-1.34zM566.08,305.95h0.63v0.72h-0.63zM574.32,304.94h1.35v1.07h-1.35zM558.77,306h1.23v1.26h-1.23zM642.92,304.4h1.42v1.36h-1.42zM569.26,303.55h0.65v1.25h-0.65zM560.94,298.93h0.83v1.09h-0.83zM655.26,306.45h1.17v0.71h-1.17zM554.8,305.1h1.45v1.12h-1.45zM561.26,297.14h0.98v1.2h-0.98zM587.01,303.68h1.22v0.96h-1.22zM641.93,304.2h1.12v0.55h-1.12zM561.12,300.92h1.09v1.29h-1.09zM619.15,302.22h0.97v0.77h-0.97zM645.42,296.46h1.16v0.73h-1.16zM600.08,299.41h1.4v0.84h-1.4zM569.28,295.82h0.56v1.13h-0.56zM575.86,298.63h1.39v1.41h-1.39zM646.76,295.52h1v0.66h-1zM579.98,300.51h0.69v1.22h-0.69zM566.66,309.87h1.3v0.99h-1.3zM585.48,304.07h0.66v1.12h-0.66zM590.59,302.12h0.8v0.92h-0.8zM582.98,296.87h1.12v1.27h-1.12zM556.14,302.53h0.83v0.56h-0.83zM563.8,300.4h0.62v0.91h-0.62zM554.72,300.59h1.35v0.59h-1.35zM575.33,302.34h1.16v0.63h-1.16zM639.81,304.04h1.3v1.44h-1.3zM650.2,307.55h0.68v0.74h-0.68zM567.6,304.6h1.13v1.2h-1.13zM633.76,302.86h0.96v0.87h-0.96zM587.89,300.2h0.57v0.89h-0.57zM557.68,305.33h0.82v0.66h-0.82zM572.59,309.68h1.24v0.74h-1.24zM577.8,310.54h0.91v1.04h-0.91zM556.32,297.99h0.99v0.88h-0.99zM559.66,302.08h1.41v0.68h-1.41zM582.49,298.03h0.84v0.91h-0.84zM639.15,307.15h0.96v1.13h-0.96zM558.86,306.97h1.26v1.36h-1.26zM587.68,298.71h1.43v0.73h-1.43zM638.36,300.2h1.21v1.3h-1.21zM640.06,310.94h1.21v0.98h-1.21zM592.09,298.71h1.36v1.2h-1.36zM636.46,302.35h0.95v1.16h-0.95zM647.73,297.94h1.33v1.09h-1.33zM555.75,305.15h1.45v0.9h-1.45zM582.62,297.66h0.81v0.9h-0.81zM567.28,299.56h1.27v0.84h-1.27zM645.94,305.85h1.02v0.78h-1.02zM618.28,299.42h1.43v1h-1.43zM561.74,298.1h0.73v0.81h-0.73zM563.76,299.89h0.62v1.41h-0.62zM554.72,295.55h1.35v1.29h-1.35zM648.99,297.92h1.2v1.18h-1.2zM633.26,304.31h0.53v1.42h-0.53zM560.96,308.48h1.1v1.11h-1.1zM652.07,305.76h0.73v0.67h-0.73zM557.51,301.7h0.87v1.41h-0.87zM628.77,306.82h1.43v1.38h-1.43zM648.79,300.73h0.87v1.37h-0.87zM561.43,305.77h1.35v0.86h-1.35zM562.99,304.53h0.93v1.1h-0.93zM560.32,302.77h0.77v1.29h-0.77zM554.97,300.46h1.19v1.41h-1.19zM625.44,307.25h0.98v0.79h-0.98zM555.03,309.24h1.27v1.09h-1.27zM568.59,305.6h0.99v0.56h-0.99zM582.31,299.17h1.16v1.41h-1.16zM561.28,302.36h0.92v1.29h-0.92zM562.69,303.11h1.3v1.1h-1.3zM643.02,300.47h0.79v1.31h-0.79zM559.5,307.74h1.31v1.4h-1.31zM575.67,307.63h0.56v1.28h-0.56z" fill="#000"/>
<rect x="554.8" y="328.9" width="102" height="32" fill="none" stroke="#dcdcdc" stroke-width="1"/>
<path d="M564.54,360.2 L564.54,359.23 L566.18,359.2 L567.82,359.16 L569.46,359.09 L571.11,358.99 L572.75,358.86 L574.39,358.68 L576.03,358.45 L577.68,358.15 L579.32,357.8 L580.96,357.38 L582.6,356.9 L584.25,356.38 L585.89,355.82 L587.53,355.24 L589.17,354.66 L590.82,354.11 L592.46,353.59 L594.1,353.13 L595.74,352.73 L597.39,352.41 L599.03,352.17 L600.67,352.01 L602.31,351.91 L603.96,351.86 L605.6,351.85 L607.24,351.86 L608.89,351.91 L610.53,352.01 L612.17,352.17 L613.81,352.41 L615.46,352.73 L617.1,353.13 L618.74,353.59 L620.38,354.11 L622.03,354.66 L623.67,355.24 L625.31,355.82 L626.95,356.38 L628.6,356.9 L630.24,357.38 L631.88,357.8 L633.52,358.15 L635.17,358.45 L636.81,358.68 L638.45,358.86 L640.09,358.99 L641.74,359.09 L643.38,359.16 L645.02,359.2 L646.66,359.23 L646.66,360.2 Z" fill="#000"/>
<rect x="565.86" y="359.14" width="79.48" height="1.06" fill="#000"/>
<path d="M643.46,355.28h1.06v0.76h-1.06zM651.92,343.42h1.13v0.82h-1.13zM628.08,353.31h0.87v0.93h-0.87zM640.94,344.39h1.09v1.04h-1.09zM572.78,337.69h0.74v0.79h-0.74zM575.32,354.18h1.02v0.69h-1.02zM656.14,342.34h0.61v0.55h-0.61zM622.64,344.03h1.16v1.18h-1.16zM571.57,345.38h0.68v1.35h-0.68zM572.68,339.82h1.01v1.45h-1.01zM563.65,335.76h1.44v1.37h-1.44zM571.3,349.69h1.34v0.64h-1.34zM635.42,342.94h1.42v1.09h-1.42zM559.34,341.6h0.8v0.68h-0.8zM578.24,347.42h1.09v0.78h-1.09zM643.35,347.4h1.07v1.01h-1.07zM605.11,336.18h0.68v0.54h-0.68zM560.06,350.81h1.43v1.13h-1.43zM563.94,352.86h1v1.17h-1zM656.23,346.93h0.69v0.61h-0.69zM563.19,344.52h0.77v1.24h-0.77zM656.07,342.32h1.03v1.18h-1.03zM633,345.91h0.65v1.14h-0.65zM648.62,340.5h1.02v0.86h-1.02zM594.51,338.14h0.98v1h-0.98zM634.53,344.28h0.99v0.76h-0.99zM566.66,353.4h0.55v1.37h-0.55zM652.98,349.35h1.21v1.14h-1.21zM559.24,338.31h0.75v1.25h-0.75zM616.53,347.65h0.81v1.18h-0.81zM644.95,350.71h0.95v0.93h-0.95zM555.68,351.83h1.41v0.66h-1.41zM572.78,345.57h0.88v0.99h-0.88zM568.98,352.43h1.07v1.07h-1.07zM641.77,344.27h0.97v0.96h-0.97zM590.5,343.46h0.76v0.64h-0.76zM557.36,344.99h0.9v1.37h-0.9zM572.8,339.28h0.89v0.88h-0.89zM588.74,349.52h0.9v0.62h-0.9zM649.49,348.1h0.59v0.87h-0.59zM588.06,342.31h1.23v0.6h-1.23zM652.1,347.11h0.82v1.42h-0.82zM625.09,340.86h0.58v0.69h-0.58zM631.9,355.12h1.21v0.6h-1.21zM568.89,345.96h1.26v1h-1.26zM607.98,349.18h1.29v0.89h-1.29zM599.8,340.75h0.8v0.63h-0.8zM632.42,346.27h1.25v1.01h-1.25zM584.23,348.67h0.59v0.56h-0.59zM650.58,344.6h0.63v0.93h-0.63zM653.37,348.81h1.23v0.55h-1.23zM649.43,342.5h1v0.91h-1zM639.33,341.51h1.41v0.7h-1.41zM606.45,346.8h0.78v0.7h-0.78zM630.12,351.01h1.21v1.22h-1.21zM629.36,356.46h0.91v1.32h-0.91zM618.83,353.17h1.31v1.31h-1.31zM647.28,343.87h1.22v1.13h-1.22zM654.22,346.75h1.12v1.26h-1.12zM557.52,342.89h1.42v1.05h-1.42zM622.62,347.4h0.78v0.87h-0.78zM629.54,344.25h0.58v1.26h-0.58zM561.05,351.75h0.81v1.29h-0.81zM616.25,344.53h1.05v1.01h-1.05zM585.65,353.36h0.98v0.87h-0.98zM581.79,342.19h0.69v0.62h-0.69zM636.86,344.82h0.83v0.58h-0.83zM562.8,346.43h0.55v1.38h-0.55zM589.11,340.77h0.6v0.61h-0.6zM562.93,347.57h1.41v0.58h-1.41zM556.09,345.3h0.66v1h-0.66zM586.38,340.08h1.31v0.95h-1.31zM652.68,354.37h1.04v1.12h-1.04zM578.44,352.94h0.58v1.07h-0.58zM555.18,348.93h0.82v0.59h-0.82zM572.26,347.94h1.2v0.76h-1.2zM573.99,345.66h1.19v1.12h-1.19zM628.6,351.78h0.69v0.77h-0.69zM612.8,350.6h0.61v1.17h-0.61zM654.58,349.55h1.28v0.55h-1.28zM651.76,355.41h0.96v1.26h-0.96zM612.12,341.27h0.71v1.07h-0.71zM586.67,348.06h0.69v0.6h-0.69zM568.6,347.42h1.05v0.74h-1.05zM625.85,349.7h1.35v0.65h-1.35zM581.99,345.14h1.25v1.19h-1.25zM566.58,342.35h1.02v0.62h-1.02zM563.2,346.97h0.8v0.84h-0.8zM574.81,343.58h0.75v0.77h-0.75zM639.72,335.73h0.56v0.84h-0.56zM566.08,347.37h0.76v1.45h-0.76zM572.46,349.87h0.57v0.9h-0.57zM633.41,351.41h0.93v1.07h-0.93zM567.5,349.1h1.22v0.91h-1.22zM574.42,348.24h0.99v1.23h-0.99zM563.87,348.26h0.63v1.37h-0.63zM592.62,352.8h1.03v0.84h-1.03zM651.32,341.98h0.68v0.58h-0.68zM616.97,346.7h1.03v1.33h-1.03zM618.83,334.31h0.72v0.62h-0.72zM615.73,341.39h0.86v1.44h-0.86zM618.18,348.75h0.8v0.74h-0.8zM557.89,356.34h0.85v0.97h-0.85zM557.19,347.15h1.19v0.98h-1.19zM626.15,335.46h1.4v0.93h-1.4zM566.22,351.6h1.27v1.21h-1.27zM621.7,342.29h1.37v0.73h-1.37zM599.87,348.13h1.31v0.83h-1.31zM578.06,336.94h0.55v0.88h-0.55zM632.76,341.28h0.97v0.92h-0.97zM651.75,345.65h1.16v1.11h-1.16zM572.77,343.8h1.16v1.25h-1.16zM575.65,349.3h1.42v0.98h-1.42zM642.22,345.61h0.87v0.61h-0.87zM654.38,344.79h0.7v1.16h-0.7zM559.56,345.81h1.07v0.96h-1.07zM617.61,345.49h1.21v0.71h-1.21zM556.87,346.68h1.06v1.13h-1.06zM606.73,351.49h0.94v1.3h-0.94zM645.43,346.24h1.19v1.15h-1.19zM564.31,345.43h1.13v0.68h-1.13zM567.88,342.45h0.7v1.09h-0.7zM652.47,351.53h0.96v1.43h-0.96zM591.55,350.04h1.38v0.94h-1.38zM565.4,340.23h1.02v0.83h-1.02zM651.59,347.38h0.56v0.75h-0.56zM655.22,349.3h0.77v0.87h-0.77zM602.99,346.55h1.01v1.06h-1.01zM610.4,342.67h0.93v0.65h-0.93zM558.53,345.7h1v0.88h-1zM621.7,351.85h0.75v0.83h-0.75zM654.79,352.31h1.01v0.54h-1.01zM556.13,350.39h0.77v1.25h-0.77zM644.2,357.73h1.09v1.35h-1.09zM633.05,345.45h0.81v1.44h-0.81zM557.38,341.15h1.37v0.82h-1.37zM582.29,344.32h1.2v0.81h-1.2zM648.56,358.38h1.35v1.17h-1.35zM581.3,349.07h1.2v1.29h-1.2zM555.95,348.59h1.37v1.35h-1.37z" fill="#000"/>
<rect x="554.8" y="376.6" width="102" height="32" fill="none" stroke="#dcdcdc" stroke-width="1"/>
<path d="M556.59,407.9 L556.59,406.96 L558.55,406.95 L560.51,406.93 L562.47,406.91 L564.43,406.87 L566.39,406.82 L568.35,406.74 L570.31,406.64 L572.27,406.51 L574.23,406.34 L576.19,406.14 L578.15,405.91 L580.11,405.65 L582.07,405.37 L584.03,405.07 L585.99,404.77 L587.96,404.48 L589.92,404.2 L591.88,403.96 L593.84,403.74 L595.8,403.57 L597.76,403.44 L599.72,403.35 L601.68,403.29 L603.64,403.27 L605.6,403.26 L607.56,403.27 L609.52,403.29 L611.48,403.35 L613.44,403.44 L615.4,403.57 L617.36,403.74 L619.32,403.96 L621.28,404.2 L623.24,404.48 L625.21,404.77 L627.17,405.07 L629.13,405.37 L631.09,405.65 L633.05,405.91 L635.01,406.14 L636.97,406.34 L638.93,406.51 L640.89,406.64 L642.85,406.74 L644.81,406.82 L646.77,406.87 L648.73,406.91 L650.69,406.93 L652.65,406.95 L654.61,406.96 L654.61,407.9 Z" fill="#000"/>
<rect x="555.26" y="406.84" width="100.68" height="1.06" fill="#000"/>
<path d="M581.52,389.14h1.05v0.64h-1.05zM579.65,386.91h0.88v1.39h-0.88zM590.24,385.27h1.3v1.3h-1.3zM572.77,392.03h0.64v1.38h-0.64zM589.48,390.22h1.41v1.44h-1.41zM602.41,394.07h0.67v1.31h-0.67zM595.54,391.94h1.14v0.93h-1.14zM634.57,399.12h0.61v0.57h-0.61zM593.3,382.7h1.44v0.62h-1.44zM639.28,397.27h1.1v0.86h-1.1zM633.06,397.71h0.79v0.91h-0.79zM647.84,400.24h1.37v0.95h-1.37zM637.52,392.38h1.2v1.14h-1.2zM593.41,379.48h1.32v1.2h-1.32zM627.01,394.06h0.57v1.15h-0.57zM642.91,395.88h1.17v1h-1.17zM633.16,393.77h1.01v1.23h-1.01zM571.36,394.4h0.54v1.33h-0.54zM590.41,397.13h1.06v0.8h-1.06zM570.48,395.53h1.45v1.2h-1.45zM556.62,392.69h1.38v1.11h-1.38zM610.89,394.24h0.59v0.86h-0.59zM639.25,399.2h0.7v1.4h-0.7zM643.27,395.97h0.87v1.35h-0.87zM571.67,386.67h0.56v1.14h-0.56zM580.6,382.54h1.15v0.93h-1.15zM559.44,399.4h1.25v1.25h-1.25zM650.02,402.63h0.88v0.83h-0.88zM575.63,386.3h1.03v0.65h-1.03zM586.57,399.12h1.4v1.21h-1.4zM573.8,389.54h1.2v1h-1.2zM648.25,394.18h0.94v1.41h-0.94zM587,392.88h1.04v1.31h-1.04zM608.23,395.99h1.37v1.45h-1.37zM628.48,391.35h0.83v0.84h-0.83zM563.43,396.8h0.91v0.59h-0.91zM578.35,394.74h0.98v0.69h-0.98zM607.85,388.02h0.6v0.95h-0.6zM637.93,388.47h1.3v0.57h-1.3zM607.51,402.3h0.74v1.1h-0.74zM560.74,406.18h0.65v0.69h-0.65zM591.27,393.9h0.7v0.99h-0.7zM558.8,393.75h1.06v0.81h-1.06zM619.21,393.27h1.12v1.19h-1.12zM573.94,384.24h1.27v0.88h-1.27zM611.94,388.22h0.72v1.15h-0.72zM570.19,395.72h1.07v0.69h-1.07zM565.41,390h0.69v0.66h-0.69zM630.13,389.09h0.82v0.79h-0.82zM610.47,391.39h0.67v1.11h-0.67zM583.15,388.72h0.62v0.59h-0.62zM642.04,392.31h0.86v1.12h-0.86zM576.91,384.1h1.02v1.06h-1.02zM567.94,386.23h1.16v1.3h-1.16zM639.28,383.68h1.39v1.28h-1.39zM565.52,382.61h0.83v0.72h-0.83zM576.04,393.33h1.43v0.72h-1.43zM611.77,393.44h1.05v0.95h-1.05zM630.22,402.69h1.11v0.77h-1.11zM642.38,394.47h1.14v0.76h-1.14zM619.55,383.43h0.69v0.92h-0.69zM571.28,400.04h1.16v0.63h-1.16zM572.33,394.13h0.69v1.14h-0.69zM582.27,399.48h1.17v1.14h-1.17zM610.98,387.84h1.4v1.2h-1.4zM565.94,401.52h1.43v0.68h-1.43zM597.06,392.42h1.05v0.59h-1.05zM599.28,398.92h0.81v0.68h-0.81zM586.83,388h0.74v0.57h-0.74zM634.93,398.94h1.32v1.43h-1.32zM639.77,394h1.44v0.73h-1.44zM566.38,388.64h0.56v1.37h-0.56zM586.58,396.82h1.03v1.11h-1.03zM560.49,389.92h1.29v1.25h-1.29zM639.18,387.32h0.54v1.46h-0.54z" fill="#000"/>
<line x1="605.6" y1="123.60000000000001" x2="605.6" y2="132.0" stroke="#000" stroke-width="1.3" stroke-dasharray="1.2 1.2"/>
<path d="M602.7,132.0 L608.5,132.0 L605.6,137.8 Z" fill="#000"/>
<line x1="605.6" y1="171.3" x2="605.6" y2="179.7" stroke="#000" stroke-width="1.3" stroke-dasharray="1.2 1.2"/>
<path d="M602.7,179.7 L608.5,179.7 L605.6,185.5 Z" fill="#000"/>
<line x1="605.6" y1="219.0" x2="605.6" y2="227.4" stroke="#000" stroke-width="1.3" stroke-dasharray="1.2 1.2"/>
<path d="M602.7,227.4 L608.5,227.4 L605.6,233.20000000000002 Z" fill="#000"/>
<line x1="605.6" y1="266.70000000000005" x2="605.6" y2="275.1" stroke="#000" stroke-width="1.3" stroke-dasharray="1.2 1.2"/>
<path d="M602.7,275.1 L608.5,275.1 L605.6,280.90000000000003 Z" fill="#000"/>
<line x1="605.6" y1="314.40000000000003" x2="605.6" y2="322.79999999999995" stroke="#000" stroke-width="1.3" stroke-dasharray="1.2 1.2"/>
<path d="M602.7,322.79999999999995 L608.5,322.79999999999995 L605.6,328.59999999999997 Z" fill="#000"/>
<line x1="605.6" y1="362.09999999999997" x2="605.6" y2="370.5" stroke="#000" stroke-width="1.3" stroke-dasharray="1.2 1.2"/>
<path d="M602.7,370.5 L608.5,370.5 L605.6,376.3 Z" fill="#000"/>
<text x="96.4" y="445.8" font-family='"Liberation Sans", sans-serif' font-size="14.8" font-weight="bold" fill="#000" text-anchor="start" textLength="507" lengthAdjust="spacingAndGlyphs">(b) Examples of Generated and Actual Post-Impact Image Sequences</text>
<path d="M189.29,475.9 A10.7,10.7 0 1 1 204.36,475.9 Z" fill="#000"/>
<circle cx="196.83" cy="468.6" r="0.9" fill="#fff"/>
<path d="M262.38,475.9 L262.38,475.9 L262.95,470.73 L263.52,468.71 L264.1,467.24 L264.68,466.08 L265.25,465.12 L265.82,464.3 L266.4,463.61 L266.98,463.01 L267.55,462.5 L268.12,462.06 L268.7,461.69 L269.27,461.37 L269.85,461.11 L270.43,460.89 L271,460.72 L271.57,460.59 L272.15,460.5 L272.73,460.44 L273.3,460.41 L273.88,460.4 L274.45,460.41 L275.02,460.44 L275.6,460.5 L276.18,460.59 L276.75,460.72 L277.32,460.89 L277.9,461.11 L278.48,461.37 L279.05,461.69 L279.62,462.06 L280.2,462.5 L280.77,463.01 L281.35,463.61 L281.93,464.3 L282.5,465.12 L283.07,466.08 L283.65,467.24 L284.23,468.71 L284.8,470.73 L285.38,475.9 L285.38,475.9 Z" fill="#000"/>
<path d="M258.38,475.9 L262.88,474.9 L284.88,474.9 L289.38,475.9 Z" fill="#000"/>
<path d="M331.92,475.9 L331.92,475.82 L332.56,475.73 L333.19,475.6 L333.82,475.44 L334.46,475.21 L335.09,474.93 L335.72,474.56 L336.36,474.11 L336.99,473.56 L337.62,472.92 L338.26,472.19 L338.89,471.38 L339.52,470.52 L340.16,469.62 L340.79,468.7 L341.42,467.79 L342.06,466.91 L342.69,466.09 L343.32,465.34 L343.96,464.68 L344.59,464.1 L345.22,463.61 L345.86,463.21 L346.49,462.9 L347.12,462.65 L347.76,462.47 L348.39,462.34 L349.02,462.25 L349.66,462.19 L350.29,462.14 L350.92,462.1 L351.56,462.14 L352.19,462.19 L352.82,462.25 L353.46,462.34 L354.09,462.47 L354.72,462.65 L355.36,462.9 L355.99,463.21 L356.62,463.61 L357.26,464.1 L357.89,464.68 L358.52,465.34 L359.16,466.09 L359.79,466.91 L360.42,467.79 L361.06,468.7 L361.69,469.62 L362.32,470.52 L362.96,471.38 L363.59,472.19 L364.22,472.92 L364.86,473.56 L365.49,474.11 L366.12,474.56 L366.76,474.93 L367.39,475.21 L368.02,475.44 L368.66,475.6 L369.29,475.73 L369.92,475.82 L369.92,475.9 Z" fill="#000"/>
<path d="M405.98,475.9 L405.98,475.15 L406.86,475.12 L407.74,475.07 L408.62,474.99 L409.5,474.88 L410.38,474.71 L411.25,474.49 L412.14,474.2 L413.02,473.82 L413.9,473.36 L414.78,472.81 L415.66,472.18 L416.54,471.47 L417.42,470.71 L418.3,469.92 L419.18,469.13 L420.06,468.36 L420.94,467.64 L421.81,466.99 L422.7,466.44 L423.58,465.99 L424.46,465.65 L425.34,465.42 L426.22,465.28 L427.1,465.21 L427.98,465.2 L428.86,465.21 L429.74,465.28 L430.62,465.42 L431.5,465.65 L432.38,465.99 L433.25,466.44 L434.14,466.99 L435.02,467.64 L435.9,468.36 L436.78,469.13 L437.66,469.92 L438.54,470.71 L439.42,471.47 L440.3,472.18 L441.18,472.81 L442.06,473.36 L442.94,473.82 L443.82,474.2 L444.7,474.49 L445.58,474.71 L446.46,474.88 L447.34,474.99 L448.22,475.07 L449.1,475.12 L449.98,475.15 L449.98,475.9 Z" fill="#000"/>
<path d="M478.02,475.9 L478.02,475.17 L479.1,475.15 L480.19,475.11 L481.26,475.06 L482.34,474.98 L483.42,474.86 L484.5,474.7 L485.58,474.49 L486.66,474.22 L487.75,473.89 L488.82,473.48 L489.9,473.02 L490.98,472.5 L492.06,471.93 L493.14,471.35 L494.22,470.75 L495.3,470.18 L496.38,469.64 L497.46,469.15 L498.54,468.73 L499.62,468.4 L500.7,468.14 L501.78,467.96 L502.86,467.86 L503.94,467.81 L505.02,467.8 L506.1,467.81 L507.19,467.86 L508.26,467.96 L509.34,468.14 L510.42,468.4 L511.5,468.73 L512.59,469.15 L513.66,469.64 L514.75,470.18 L515.82,470.75 L516.9,471.35 L517.99,471.93 L519.06,472.5 L520.14,473.02 L521.23,473.48 L522.3,473.89 L523.38,474.22 L524.46,474.49 L525.54,474.7 L526.62,474.86 L527.7,474.98 L528.78,475.06 L529.87,475.11 L530.94,475.15 L532.02,475.17 L532.02,475.9 Z" fill="#000"/>
<path d="M551.07,475.9 L551.07,475.17 L552.31,475.15 L553.55,475.11 L554.79,475.07 L556.03,475 L557.27,474.9 L558.51,474.77 L559.75,474.6 L560.99,474.38 L562.23,474.13 L563.47,473.82 L564.71,473.48 L565.95,473.09 L567.19,472.69 L568.43,472.26 L569.67,471.84 L570.91,471.44 L572.15,471.06 L573.39,470.73 L574.63,470.44 L575.87,470.21 L577.11,470.03 L578.35,469.91 L579.59,469.84 L580.83,469.81 L582.07,469.8 L583.31,469.81 L584.55,469.84 L585.79,469.91 L587.03,470.03 L588.27,470.21 L589.51,470.44 L590.75,470.73 L591.99,471.06 L593.23,471.44 L594.47,471.84 L595.71,472.26 L596.95,472.69 L598.19,473.09 L599.43,473.48 L600.67,473.82 L601.91,474.13 L603.15,474.38 L604.39,474.6 L605.63,474.77 L606.87,474.9 L608.11,475 L609.35,475.07 L610.59,475.11 L611.83,475.15 L613.07,475.17 L613.07,475.9 Z" fill="#000"/>
<path d="M622.12,475.9 L622.12,475.19 L623.61,475.18 L625.09,475.17 L626.57,475.15 L628.04,475.12 L629.52,475.08 L631,475.02 L632.49,474.95 L633.97,474.85 L635.45,474.72 L636.92,474.57 L638.4,474.4 L639.88,474.2 L641.37,473.99 L642.85,473.77 L644.33,473.54 L645.8,473.32 L647.28,473.11 L648.76,472.92 L650.25,472.76 L651.73,472.63 L653.21,472.53 L654.68,472.46 L656.16,472.42 L657.64,472.4 L659.12,472.4 L660.61,472.4 L662.09,472.42 L663.57,472.46 L665.04,472.53 L666.52,472.63 L668,472.76 L669.49,472.92 L670.97,473.11 L672.45,473.32 L673.92,473.54 L675.4,473.77 L676.88,473.99 L678.37,474.2 L679.85,474.4 L681.33,474.57 L682.8,474.72 L684.28,474.85 L685.76,474.95 L687.25,475.02 L688.73,475.08 L690.21,475.12 L691.68,475.15 L693.16,475.17 L694.64,475.18 L696.12,475.19 L696.12,475.9 Z" fill="#000"/>
<path d="M189.29,501.1 A10.7,10.7 0 1 1 204.36,501.1 Z" fill="#000"/>
<path d="M262.38,501.1 L262.38,501.1 L262.95,495.93 L263.52,493.91 L264.1,492.44 L264.68,491.28 L265.25,490.32 L265.82,489.5 L266.4,488.81 L266.98,488.21 L267.55,487.7 L268.12,487.26 L268.7,486.89 L269.27,486.57 L269.85,486.31 L270.43,486.09 L271,485.92 L271.57,485.79 L272.15,485.7 L272.73,485.64 L273.3,485.61 L273.88,485.6 L274.45,485.61 L275.02,485.64 L275.6,485.7 L276.18,485.79 L276.75,485.92 L277.32,486.09 L277.9,486.31 L278.48,486.57 L279.05,486.89 L279.62,487.26 L280.2,487.7 L280.77,488.21 L281.35,488.81 L281.93,489.5 L282.5,490.32 L283.07,491.28 L283.65,492.44 L284.23,493.91 L284.8,495.93 L285.38,501.1 L285.38,501.1 Z" fill="#000"/>
<path d="M258.38,501.1 L262.88,500.1 L284.88,500.1 L289.38,501.1 Z" fill="#000"/>
<path d="M331.92,501.1 L331.92,501.02 L332.56,500.93 L333.19,500.8 L333.82,500.64 L334.46,500.41 L335.09,500.13 L335.72,499.76 L336.36,499.31 L336.99,498.76 L337.62,498.12 L338.26,497.39 L338.89,496.58 L339.52,495.72 L340.16,494.82 L340.79,493.9 L341.42,492.99 L342.06,492.11 L342.69,491.29 L343.32,490.54 L343.96,489.88 L344.59,489.3 L345.22,488.81 L345.86,488.41 L346.49,488.1 L347.12,487.85 L347.76,487.67 L348.39,487.54 L349.02,487.45 L349.66,487.39 L350.29,487.34 L350.92,487.3 L351.56,487.34 L352.19,487.39 L352.82,487.45 L353.46,487.54 L354.09,487.67 L354.72,487.85 L355.36,488.1 L355.99,488.41 L356.62,488.81 L357.26,489.3 L357.89,489.88 L358.52,490.54 L359.16,491.29 L359.79,492.11 L360.42,492.99 L361.06,493.9 L361.69,494.82 L362.32,495.72 L362.96,496.58 L363.59,497.39 L364.22,498.12 L364.86,498.76 L365.49,499.31 L366.12,499.76 L366.76,500.13 L367.39,500.41 L368.02,500.64 L368.66,500.8 L369.29,500.93 L369.92,501.02 L369.92,501.1 Z" fill="#000"/>
<path d="M405.98,501.1 L405.98,500.35 L406.86,500.32 L407.74,500.27 L408.62,500.19 L409.5,500.08 L410.38,499.91 L411.25,499.69 L412.14,499.4 L413.02,499.02 L413.9,498.56 L414.78,498.01 L415.66,497.38 L416.54,496.67 L417.42,495.91 L418.3,495.12 L419.18,494.33 L420.06,493.56 L420.94,492.84 L421.81,492.19 L422.7,491.64 L423.58,491.19 L424.46,490.85 L425.34,490.62 L426.22,490.48 L427.1,490.41 L427.98,490.4 L428.86,490.41 L429.74,490.48 L430.62,490.62 L431.5,490.85 L432.38,491.19 L433.25,491.64 L434.14,492.19 L435.02,492.84 L435.9,493.56 L436.78,494.33 L437.66,495.12 L438.54,495.91 L439.42,496.67 L440.3,497.38 L441.18,498.01 L442.06,498.56 L442.94,499.02 L443.82,499.4 L444.7,499.69 L445.58,499.91 L446.46,500.08 L447.34,500.19 L448.22,500.27 L449.1,500.32 L449.98,500.35 L449.98,501.1 Z" fill="#000"/>
<path d="M478.02,501.1 L478.02,500.37 L479.1,500.35 L480.19,500.31 L481.26,500.26 L482.34,500.18 L483.42,500.06 L484.5,499.9 L485.58,499.69 L486.66,499.42 L487.75,499.09 L488.82,498.68 L489.9,498.22 L490.98,497.7 L492.06,497.13 L493.14,496.55 L494.22,495.95 L495.3,495.38 L496.38,494.84 L497.46,494.35 L498.54,493.93 L499.62,493.6 L500.7,493.34 L501.78,493.16 L502.86,493.06 L503.94,493.01 L505.02,493 L506.1,493.01 L507.19,493.06 L508.26,493.16 L509.34,493.34 L510.42,493.6 L511.5,493.93 L512.59,494.35 L513.66,494.84 L514.75,495.38 L515.82,495.95 L516.9,496.55 L517.99,497.13 L519.06,497.7 L520.14,498.22 L521.23,498.68 L522.3,499.09 L523.38,499.42 L524.46,499.69 L525.54,499.9 L526.62,500.06 L527.7,500.18 L528.78,500.26 L529.87,500.31 L530.94,500.35 L532.02,500.37 L532.02,501.1 Z" fill="#000"/>
<path d="M551.07,501.1 L551.07,500.37 L552.31,500.35 L553.55,500.31 L554.79,500.27 L556.03,500.2 L557.27,500.1 L558.51,499.97 L559.75,499.8 L560.99,499.58 L562.23,499.33 L563.47,499.02 L564.71,498.68 L565.95,498.29 L567.19,497.89 L568.43,497.46 L569.67,497.04 L570.91,496.64 L572.15,496.26 L573.39,495.93 L574.63,495.64 L575.87,495.41 L577.11,495.23 L578.35,495.11 L579.59,495.04 L580.83,495.01 L582.07,495 L583.31,495.01 L584.55,495.04 L585.79,495.11 L587.03,495.23 L588.27,495.41 L589.51,495.64 L590.75,495.93 L591.99,496.26 L593.23,496.64 L594.47,497.04 L595.71,497.46 L596.95,497.89 L598.19,498.29 L599.43,498.68 L600.67,499.02 L601.91,499.33 L603.15,499.58 L604.39,499.8 L605.63,499.97 L606.87,500.1 L608.11,500.2 L609.35,500.27 L610.59,500.31 L611.83,500.35 L613.07,500.37 L613.07,501.1 Z" fill="#000"/>
<path d="M622.12,501.1 L622.12,500.39 L623.61,500.38 L625.09,500.37 L626.57,500.35 L628.04,500.32 L629.52,500.28 L631,500.22 L632.49,500.15 L633.97,500.05 L635.45,499.92 L636.92,499.77 L638.4,499.6 L639.88,499.4 L641.37,499.19 L642.85,498.97 L644.33,498.74 L645.8,498.52 L647.28,498.31 L648.76,498.12 L650.25,497.96 L651.73,497.83 L653.21,497.73 L654.68,497.66 L656.16,497.62 L657.64,497.6 L659.12,497.6 L660.61,497.6 L662.09,497.62 L663.57,497.66 L665.04,497.73 L666.52,497.83 L668,497.96 L669.49,498.12 L670.97,498.31 L672.45,498.52 L673.92,498.74 L675.4,498.97 L676.88,499.19 L678.37,499.4 L679.85,499.6 L681.33,499.77 L682.8,499.92 L684.28,500.05 L685.76,500.15 L687.25,500.22 L688.73,500.28 L690.21,500.32 L691.68,500.35 L693.16,500.37 L694.64,500.38 L696.12,500.39 L696.12,501.1 Z" fill="#000"/>
<path d="M189.29,526.8 A10.7,10.7 0 1 1 204.36,526.8 Z" fill="#000"/>
<rect x="185.33" y="526" width="23" height="0.8" fill="#000"/>
<circle cx="196.83" cy="519.5" r="0.9" fill="#fff"/>
<path d="M262.38,526.8 L262.38,526.8 L262.95,521.63 L263.52,519.61 L264.1,518.14 L264.68,516.98 L265.25,516.02 L265.82,515.2 L266.4,514.51 L266.98,513.91 L267.55,513.4 L268.12,512.96 L268.7,512.59 L269.27,512.27 L269.85,512.01 L270.43,511.79 L271,511.62 L271.57,511.49 L272.15,511.4 L272.73,511.34 L273.3,511.31 L273.88,511.3 L274.45,511.31 L275.02,511.34 L275.6,511.4 L276.18,511.49 L276.75,511.62 L277.32,511.79 L277.9,512.01 L278.48,512.27 L279.05,512.59 L279.62,512.96 L280.2,513.4 L280.77,513.91 L281.35,514.51 L281.93,515.2 L282.5,516.02 L283.07,516.98 L283.65,518.14 L284.23,519.61 L284.8,521.63 L285.38,526.8 L285.38,526.8 Z" fill="#000"/>
<path d="M256.88,526.8 L262.88,525.5 L284.88,525.5 L290.88,526.8 Z" fill="#000"/>
<path d="M256.44,526.41h0.8v1h-0.8zM254.64,526.15h0.68v0.67h-0.68zM289.03,524.3h0.99v0.6h-0.99zM260.43,525.48h0.75v0.66h-0.75zM285.98,524.81h0.81v0.54h-0.81z" fill="#000"/>
<circle cx="273.88" cy="524.3" r="0.6" fill="#fff"/>
<path d="M331.92,526.8 L331.92,526.72 L332.56,526.63 L333.19,526.5 L333.82,526.34 L334.46,526.11 L335.09,525.83 L335.72,525.46 L336.36,525.01 L336.99,524.46 L337.62,523.82 L338.26,523.09 L338.89,522.28 L339.52,521.42 L340.16,520.52 L340.79,519.6 L341.42,518.69 L342.06,517.81 L342.69,516.99 L343.32,516.24 L343.96,515.58 L344.59,515 L345.22,514.51 L345.86,514.11 L346.49,513.8 L347.12,513.55 L347.76,513.37 L348.39,513.24 L349.02,513.15 L349.66,513.09 L350.29,513.04 L350.92,513 L351.56,513.04 L352.19,513.09 L352.82,513.15 L353.46,513.24 L354.09,513.37 L354.72,513.55 L355.36,513.8 L355.99,514.11 L356.62,514.51 L357.26,515 L357.89,515.58 L358.52,516.24 L359.16,516.99 L359.79,517.81 L360.42,518.69 L361.06,519.6 L361.69,520.52 L362.32,521.42 L362.96,522.28 L363.59,523.09 L364.22,523.82 L364.86,524.46 L365.49,525.01 L366.12,525.46 L366.76,525.83 L367.39,526.11 L368.02,526.34 L368.66,526.5 L369.29,526.63 L369.92,526.72 L369.92,526.8 Z" fill="#000"/>
<rect x="324.92" y="526.1" width="52" height="0.7" fill="#000"/>
<path d="M329.73,524.78h1.17v0.67h-1.17zM371.59,526.46h0.64v0.54h-0.64zM332.15,525.2h0.69v0.81h-0.69zM376.16,526.32h1.05v0.54h-1.05zM332.84,525.06h0.56v1.09h-0.56zM372.69,526.25h0.99v0.95h-0.99zM377.68,525.56h0.76v1.11h-0.76zM374.07,525.89h0.79v1.08h-0.79zM333.24,525.15h1.19v0.78h-1.19zM332.84,525.23h0.73v1.05h-0.73z" fill="#000"/>
<path d="M405.98,526.8 L405.98,526.05 L406.86,526.02 L407.74,525.97 L408.62,525.89 L409.5,525.78 L410.38,525.61 L411.25,525.39 L412.14,525.1 L413.02,524.72 L413.9,524.26 L414.78,523.71 L415.66,523.08 L416.54,522.37 L417.42,521.61 L418.3,520.82 L419.18,520.03 L420.06,519.26 L420.94,518.54 L421.81,517.89 L422.7,517.34 L423.58,516.89 L424.46,516.55 L425.34,516.32 L426.22,516.18 L427.1,516.11 L427.98,516.1 L428.86,516.11 L429.74,516.18 L430.62,516.32 L431.5,516.55 L432.38,516.89 L433.25,517.34 L434.14,517.89 L435.02,518.54 L435.9,519.26 L436.78,520.03 L437.66,520.82 L438.54,521.61 L439.42,522.37 L440.3,523.08 L441.18,523.71 L442.06,524.26 L442.94,524.72 L443.82,525.1 L444.7,525.39 L445.58,525.61 L446.46,525.78 L447.34,525.89 L448.22,525.97 L449.1,526.02 L449.98,526.05 L449.98,526.8 Z" fill="#000"/>
<rect x="390.98" y="526.2" width="74" height="0.6" fill="#000"/>
<path d="M393.32,524.14h0.63v1.19h-0.63zM452.51,525.55h0.58v0.67h-0.58zM405.76,523.37h1.15v0.52h-1.15zM390.63,524.84h0.86v0.94h-0.86zM453.91,523.87h0.61v1.27h-0.61zM401.46,525.96h0.65v0.72h-0.65zM409.57,525.86h0.59v0.56h-0.59zM459.2,525.27h0.86v0.6h-0.86zM464.74,526.76h1.13v0.53h-1.13zM411.89,525.1h0.86v1.06h-0.86zM443.31,526.57h0.73v0.72h-0.73zM398.18,526.35h0.55v0.54h-0.55zM463.22,524.72h0.66v0.99h-0.66zM411.5,523.99h0.71v0.74h-0.71zM393.43,525.95h1.24v0.88h-1.24z" fill="#000"/>
<path d="M478.02,526.8 L478.02,526.07 L479.1,526.05 L480.19,526.01 L481.26,525.96 L482.34,525.88 L483.42,525.76 L484.5,525.6 L485.58,525.39 L486.66,525.12 L487.75,524.79 L488.82,524.38 L489.9,523.92 L490.98,523.4 L492.06,522.83 L493.14,522.25 L494.22,521.65 L495.3,521.08 L496.38,520.54 L497.46,520.05 L498.54,519.63 L499.62,519.3 L500.7,519.04 L501.78,518.86 L502.86,518.76 L503.94,518.71 L505.02,518.7 L506.1,518.71 L507.19,518.76 L508.26,518.86 L509.34,519.04 L510.42,519.3 L511.5,519.63 L512.59,520.05 L513.66,520.54 L514.75,521.08 L515.82,521.65 L516.9,522.25 L517.99,522.83 L519.06,523.4 L520.14,523.92 L521.23,524.38 L522.3,524.79 L523.38,525.12 L524.46,525.39 L525.54,525.6 L526.62,525.76 L527.7,525.88 L528.78,525.96 L529.87,526.01 L530.94,526.05 L532.02,526.07 L532.02,526.8 Z" fill="#000"/>
<rect x="468.02" y="526.2" width="74" height="0.6" fill="#000"/>
<path d="M468.93,525.44h0.59v0.88h-0.59zM536.26,523.75h1.21v0.86h-1.21zM531.43,526.38h0.8v0.55h-0.8zM528.79,524.19h1.24v0.65h-1.24zM530.61,524.36h0.94v0.85h-0.94zM528.25,525.15h1.26v1.24h-1.26zM535.53,523.81h0.82v0.79h-0.82zM467.49,525.13h1.05v1.08h-1.05zM528.96,526.01h1.24v1.28h-1.24zM529.41,526.11h0.65v0.67h-0.65zM534.92,525.57h1.25v1.16h-1.25zM470.4,526.7h1.3v0.9h-1.3zM526.22,523.78h0.74v0.51h-0.74zM532.89,523.54h0.82v1.03h-0.82zM467.9,523.51h0.99v1.28h-0.99zM480.66,525h1.19v0.93h-1.19zM483.74,526.29h0.69v0.74h-0.69zM538.62,525.85h0.68v1.09h-0.68z" fill="#000"/>
<path d="M551.07,526.8 L551.07,526.07 L552.31,526.05 L553.55,526.01 L554.79,525.97 L556.03,525.9 L557.27,525.8 L558.51,525.67 L559.75,525.5 L560.99,525.28 L562.23,525.03 L563.47,524.72 L564.71,524.38 L565.95,523.99 L567.19,523.59 L568.43,523.16 L569.67,522.74 L570.91,522.34 L572.15,521.96 L573.39,521.63 L574.63,521.34 L575.87,521.11 L577.11,520.93 L578.35,520.81 L579.59,520.74 L580.83,520.71 L582.07,520.7 L583.31,520.71 L584.55,520.74 L585.79,520.81 L587.03,520.93 L588.27,521.11 L589.51,521.34 L590.75,521.63 L591.99,521.96 L593.23,522.34 L594.47,522.74 L595.71,523.16 L596.95,523.59 L598.19,523.99 L599.43,524.38 L600.67,524.72 L601.91,525.03 L603.15,525.28 L604.39,525.5 L605.63,525.67 L606.87,525.8 L608.11,525.9 L609.35,525.97 L610.59,526.01 L611.83,526.05 L613.07,526.07 L613.07,526.8 Z" fill="#000"/>
<rect x="545.07" y="526.2" width="74" height="0.6" fill="#000"/>
<path d="M615.36,525.98h0.74v0.83h-0.74zM548.69,526.48h0.94v0.7h-0.94zM605.29,525.11h0.95v1.02h-0.95zM614.08,523.4h0.59v1.09h-0.59zM545.97,526.38h0.7v0.6h-0.7zM555.65,525.98h1.15v1.13h-1.15zM549.94,525.19h0.66v0.88h-0.66zM618.37,526.11h0.76v0.97h-0.76zM614.74,526.63h1.21v0.95h-1.21zM613.71,525.43h1.02v0.52h-1.02zM618.78,524.84h1.04v0.95h-1.04zM619.01,525.47h0.52v0.84h-0.52zM549.6,523.51h0.92v0.73h-0.92zM605.59,525.21h1.24v1.11h-1.24zM556.44,524.34h1.28v1.15h-1.28zM547.41,525.81h0.5v1.03h-0.5zM611.44,524.4h1.03v0.93h-1.03zM555.92,525.15h1v0.55h-1zM613.64,526.49h1.09v1.08h-1.09zM611.69,523.42h1.01v0.98h-1.01zM607.62,523.95h1.07v0.7h-1.07z" fill="#000"/>
<path d="M622.12,526.8 L622.12,526.09 L623.61,526.08 L625.09,526.07 L626.57,526.05 L628.04,526.02 L629.52,525.98 L631,525.92 L632.49,525.85 L633.97,525.75 L635.45,525.62 L636.92,525.47 L638.4,525.3 L639.88,525.1 L641.37,524.89 L642.85,524.67 L644.33,524.44 L645.8,524.22 L647.28,524.01 L648.76,523.82 L650.25,523.66 L651.73,523.53 L653.21,523.43 L654.68,523.36 L656.16,523.32 L657.64,523.3 L659.12,523.3 L660.61,523.3 L662.09,523.32 L663.57,523.36 L665.04,523.43 L666.52,523.53 L668,523.66 L669.49,523.82 L670.97,524.01 L672.45,524.22 L673.92,524.44 L675.4,524.67 L676.88,524.89 L678.37,525.1 L679.85,525.3 L681.33,525.47 L682.8,525.62 L684.28,525.75 L685.76,525.85 L687.25,525.92 L688.73,525.98 L690.21,526.02 L691.68,526.05 L693.16,526.07 L694.64,526.08 L696.12,526.09 L696.12,526.8 Z" fill="#000"/>
<rect x="622.12" y="526.2" width="74" height="0.6" fill="#000"/>
<path d="M621.15,526.38h0.57v0.91h-0.57zM626.99,525.14h1.1v0.85h-1.1zM695.52,526.04h0.69v1.28h-0.69zM697.06,524.49h0.7v1.29h-0.7zM688.95,526.79h1.27v1.02h-1.27zM627.64,523.69h0.76v0.64h-0.76zM693.69,524.37h0.54v1.22h-0.54zM693.13,524.79h1.03v1.28h-1.03zM696.06,526.37h0.65v1.18h-0.65zM623.17,526.11h0.92v0.69h-0.92zM623.05,524.46h0.56v0.73h-0.56zM628.86,524.36h0.67v0.94h-0.67zM623.65,524.82h0.77v1.23h-0.77zM625.77,525.08h0.89v0.73h-0.89zM623.36,526.77h0.73v0.8h-0.73zM691.95,524.84h1.06v0.95h-1.06zM626.91,523.88h0.92v0.53h-0.92zM693.12,525.34h0.88v1.22h-0.88zM691.67,524.1h0.86v0.85h-0.86zM689.32,525.2h1.06v0.95h-1.06zM695.92,526.71h0.68v0.66h-0.68zM629.23,524.44h1.1v1.01h-1.1zM623.38,524.02h1.2v0.63h-1.2zM695.88,523.38h1.15v1.17h-1.15z" fill="#000"/>
<path d="M189.29,552.2 A10.7,10.7 0 1 1 204.36,552.2 Z" fill="#000"/>
<rect x="185.33" y="551.4" width="23" height="0.8" fill="#000"/>
<circle cx="196.83" cy="544.9" r="0.9" fill="#fff"/>
<path d="M262.38,552.2 L262.38,552.2 L262.95,547.03 L263.52,545.01 L264.1,543.54 L264.68,542.38 L265.25,541.42 L265.82,540.6 L266.4,539.91 L266.98,539.31 L267.55,538.8 L268.12,538.36 L268.7,537.99 L269.27,537.67 L269.85,537.41 L270.43,537.19 L271,537.02 L271.57,536.89 L272.15,536.8 L272.73,536.74 L273.3,536.71 L273.88,536.7 L274.45,536.71 L275.02,536.74 L275.6,536.8 L276.18,536.89 L276.75,537.02 L277.32,537.19 L277.9,537.41 L278.48,537.67 L279.05,537.99 L279.62,538.36 L280.2,538.8 L280.77,539.31 L281.35,539.91 L281.93,540.6 L282.5,541.42 L283.07,542.38 L283.65,543.54 L284.23,545.01 L284.8,547.03 L285.38,552.2 L285.38,552.2 Z" fill="#000"/>
<path d="M256.88,552.2 L262.88,550.9 L284.88,550.9 L290.88,552.2 Z" fill="#000"/>
<path d="M260.16,549.97h0.91v0.6h-0.91zM290.36,550.11h0.96v0.95h-0.96zM257.59,551.53h0.9v0.59h-0.9zM287.09,551.02h0.71v0.85h-0.71zM293.7,550.52h0.67v0.62h-0.67z" fill="#000"/>
<circle cx="273.88" cy="549.7" r="0.6" fill="#fff"/>
<path d="M331.92,552.2 L331.92,552.12 L332.56,552.03 L333.19,551.9 L333.82,551.74 L334.46,551.51 L335.09,551.23 L335.72,550.86 L336.36,550.41 L336.99,549.86 L337.62,549.22 L338.26,548.49 L338.89,547.68 L339.52,546.82 L340.16,545.92 L340.79,545 L341.42,544.09 L342.06,543.21 L342.69,542.39 L343.32,541.64 L343.96,540.98 L344.59,540.4 L345.22,539.91 L345.86,539.51 L346.49,539.2 L347.12,538.95 L347.76,538.77 L348.39,538.64 L349.02,538.55 L349.66,538.49 L350.29,538.44 L350.92,538.4 L351.56,538.44 L352.19,538.49 L352.82,538.55 L353.46,538.64 L354.09,538.77 L354.72,538.95 L355.36,539.2 L355.99,539.51 L356.62,539.91 L357.26,540.4 L357.89,540.98 L358.52,541.64 L359.16,542.39 L359.79,543.21 L360.42,544.09 L361.06,545 L361.69,545.92 L362.32,546.82 L362.96,547.68 L363.59,548.49 L364.22,549.22 L364.86,549.86 L365.49,550.41 L366.12,550.86 L366.76,551.23 L367.39,551.51 L368.02,551.74 L368.66,551.9 L369.29,552.03 L369.92,552.12 L369.92,552.2 Z" fill="#000"/>
<rect x="324.92" y="551.5" width="52" height="0.7" fill="#000"/>
<path d="M333.41,550.67h1v0.66h-1zM323.77,550.86h0.96v1.12h-0.96zM377.41,550.58h0.61v1.1h-0.61zM376.87,549.84h0.56v0.54h-0.56zM325.68,550.51h0.84v0.94h-0.84zM328.25,551.68h1.01v0.66h-1.01zM329.3,550.58h1.19v1.15h-1.19zM372.3,550.42h0.51v0.61h-0.51zM369.8,552.12h0.94v0.55h-0.94zM327.93,550.98h1.04v1.19h-1.04z" fill="#000"/>
<path d="M405.98,552.2 L405.98,551.45 L406.86,551.42 L407.74,551.37 L408.62,551.29 L409.5,551.18 L410.38,551.01 L411.25,550.79 L412.14,550.5 L413.02,550.12 L413.9,549.66 L414.78,549.11 L415.66,548.48 L416.54,547.77 L417.42,547.01 L418.3,546.22 L419.18,545.43 L420.06,544.66 L420.94,543.94 L421.81,543.29 L422.7,542.74 L423.58,542.29 L424.46,541.95 L425.34,541.72 L426.22,541.58 L427.1,541.51 L427.98,541.5 L428.86,541.51 L429.74,541.58 L430.62,541.72 L431.5,541.95 L432.38,542.29 L433.25,542.74 L434.14,543.29 L435.02,543.94 L435.9,544.66 L436.78,545.43 L437.66,546.22 L438.54,547.01 L439.42,547.77 L440.3,548.48 L441.18,549.11 L442.06,549.66 L442.94,550.12 L443.82,550.5 L444.7,550.79 L445.58,551.01 L446.46,551.18 L447.34,551.29 L448.22,551.37 L449.1,551.42 L449.98,551.45 L449.98,552.2 Z" fill="#000"/>
<rect x="390.98" y="551.6" width="74" height="0.6" fill="#000"/>
<path d="M450.53,549.46h0.74v1.01h-0.74zM447.96,549.94h1.28v1.24h-1.28zM450.83,551.81h0.9v0.9h-0.9zM450.02,549.02h0.66v0.51h-0.66zM456.08,548.78h0.77v0.98h-0.77zM442.56,549.05h0.79v0.9h-0.79zM464.91,550.39h1.23v1.27h-1.23zM392.16,549.5h0.59v0.9h-0.59zM395.95,550.18h1.05v0.78h-1.05zM401.55,551.31h1.25v1.01h-1.25zM451.19,549.27h1.1v0.82h-1.1zM394.87,548.96h0.56v0.8h-0.56zM454.72,551.11h1.23v0.52h-1.23zM401.37,550.63h1.01v1.13h-1.01zM458.1,549.33h0.65v1.29h-0.65z" fill="#000"/>
<path d="M478.02,552.2 L478.02,551.47 L479.1,551.45 L480.19,551.41 L481.26,551.36 L482.34,551.28 L483.42,551.16 L484.5,551 L485.58,550.79 L486.66,550.52 L487.75,550.19 L488.82,549.78 L489.9,549.32 L490.98,548.8 L492.06,548.23 L493.14,547.65 L494.22,547.05 L495.3,546.48 L496.38,545.94 L497.46,545.45 L498.54,545.03 L499.62,544.7 L500.7,544.44 L501.78,544.26 L502.86,544.16 L503.94,544.11 L505.02,544.1 L506.1,544.11 L507.19,544.16 L508.26,544.26 L509.34,544.44 L510.42,544.7 L511.5,545.03 L512.59,545.45 L513.66,545.94 L514.75,546.48 L515.82,547.05 L516.9,547.65 L517.99,548.23 L519.06,548.8 L520.14,549.32 L521.23,549.78 L522.3,550.19 L523.38,550.52 L524.46,550.79 L525.54,551 L526.62,551.16 L527.7,551.28 L528.78,551.36 L529.87,551.41 L530.94,551.45 L532.02,551.47 L532.02,552.2 Z" fill="#000"/>
<rect x="468.02" y="551.6" width="74" height="0.6" fill="#000"/>
<path d="M470.54,550.57h0.78v0.52h-0.78zM482.47,548.72h1.28v0.78h-1.28zM543.02,549.62h0.53v0.98h-0.53zM482.6,551.23h1.07v0.67h-1.07zM467.46,551.08h0.74v0.59h-0.74zM474.41,550.78h0.57v1.25h-0.57zM471.87,549.36h0.65v0.56h-0.65zM536.38,548.99h0.87v0.96h-0.87zM472.59,549.04h1.1v0.7h-1.1zM530.86,551.64h0.89v0.73h-0.89zM468.21,551.8h1.13v0.86h-1.13zM481.33,550.77h1.1v1.09h-1.1zM539.08,549.96h1.14v0.8h-1.14zM524.84,551.25h1.13v0.75h-1.13zM477.93,550.79h1.21v0.52h-1.21zM481.33,550.3h1.03v1.05h-1.03zM478.7,550.3h0.72v0.5h-0.72zM541.11,550.57h1.11v1h-1.11z" fill="#000"/>
<path d="M551.07,552.2 L551.07,551.47 L552.31,551.45 L553.55,551.41 L554.79,551.37 L556.03,551.3 L557.27,551.2 L558.51,551.07 L559.75,550.9 L560.99,550.68 L562.23,550.43 L563.47,550.12 L564.71,549.78 L565.95,549.39 L567.19,548.99 L568.43,548.56 L569.67,548.14 L570.91,547.74 L572.15,547.36 L573.39,547.03 L574.63,546.74 L575.87,546.51 L577.11,546.33 L578.35,546.21 L579.59,546.14 L580.83,546.11 L582.07,546.1 L583.31,546.11 L584.55,546.14 L585.79,546.21 L587.03,546.33 L588.27,546.51 L589.51,546.74 L590.75,547.03 L591.99,547.36 L593.23,547.74 L594.47,548.14 L595.71,548.56 L596.95,548.99 L598.19,549.39 L599.43,549.78 L600.67,550.12 L601.91,550.43 L603.15,550.68 L604.39,550.9 L605.63,551.07 L606.87,551.2 L608.11,551.3 L609.35,551.37 L610.59,551.41 L611.83,551.45 L613.07,551.47 L613.07,552.2 Z" fill="#000"/>
<rect x="545.07" y="551.6" width="74" height="0.6" fill="#000"/>
<path d="M546.91,550.28h1.29v1.02h-1.29zM612.86,549.86h1.25v1.18h-1.25zM608.93,551.75h1.29v0.77h-1.29zM548.24,549.16h0.58v1.2h-0.58zM609.31,549.45h1.1v0.65h-1.1zM548.76,549.59h1.13v0.67h-1.13zM550.98,549.86h1.06v0.55h-1.06zM610.86,551.58h1.23v0.72h-1.23zM545.33,551.91h1.11v0.65h-1.11zM609.41,550.68h0.57v1.15h-0.57zM554.06,552.19h0.74v0.87h-0.74zM550.24,552.19h1.21v0.84h-1.21zM612.08,550.12h1.09v0.68h-1.09zM619.02,548.8h0.69v1.01h-0.69zM619.73,550.86h0.87v0.57h-0.87zM608.52,551.9h1.16v0.69h-1.16zM547.26,550.96h1.26v0.79h-1.26zM617.54,549.2h0.53v1.13h-0.53zM552.2,549.83h0.96v0.89h-0.96zM557.95,550.88h1.01v1.22h-1.01zM619.36,549.1h0.71v0.84h-0.71z" fill="#000"/>
<path d="M622.12,552.2 L622.12,551.49 L623.61,551.48 L625.09,551.47 L626.57,551.45 L628.04,551.42 L629.52,551.38 L631,551.32 L632.49,551.25 L633.97,551.15 L635.45,551.02 L636.92,550.87 L638.4,550.7 L639.88,550.5 L641.37,550.29 L642.85,550.07 L644.33,549.84 L645.8,549.62 L647.28,549.41 L648.76,549.22 L650.25,549.06 L651.73,548.93 L653.21,548.83 L654.68,548.76 L656.16,548.72 L657.64,548.7 L659.12,548.7 L660.61,548.7 L662.09,548.72 L663.57,548.76 L665.04,548.83 L666.52,548.93 L668,549.06 L669.49,549.22 L670.97,549.41 L672.45,549.62 L673.92,549.84 L675.4,550.07 L676.88,550.29 L678.37,550.5 L679.85,550.7 L681.33,550.87 L682.8,551.02 L684.28,551.15 L685.76,551.25 L687.25,551.32 L688.73,551.38 L690.21,551.42 L691.68,551.45 L693.16,551.47 L694.64,551.48 L696.12,551.49 L696.12,552.2 Z" fill="#000"/>
<rect x="622.12" y="551.6" width="74" height="0.6" fill="#000"/>
<path d="M627.13,550.92h1.24v0.8h-1.24zM688.88,550.4h1.23v1.28h-1.23zM621.85,550.13h1.26v0.75h-1.26zM688.14,550.23h0.97v0.98h-0.97zM689.32,550.39h0.94v0.86h-0.94zM694.78,549.94h0.9v0.57h-0.9zM624.47,550.55h0.67v0.81h-0.67zM628.85,549.24h0.83v0.67h-0.83zM621.2,551.58h1.25v0.9h-1.25zM627.93,551.67h1.19v1h-1.19zM695.77,551.46h0.71v0.91h-0.71zM688.82,551.31h0.78v0.88h-0.78zM692.57,551.38h1.16v1.21h-1.16zM630.09,550.28h1.18v0.81h-1.18zM689,550.66h0.55v0.56h-0.55zM624.83,550.32h0.76v0.53h-0.76zM690.17,551.97h0.78v1.12h-0.78zM694.25,550.63h1.16v0.84h-1.16zM693.78,551.99h0.95v0.97h-0.95zM694.65,550.1h0.71v0.61h-0.71zM693.99,551.56h0.66v1.04h-0.66zM690.16,551.05h1.11v0.83h-1.11zM696.69,548.98h0.66v0.8h-0.66zM625.72,548.71h0.87v1.17h-0.87z" fill="#000"/>
<path d="M188.65,577.3 A10.7,10.7 0 1 1 205,577.3 Z" fill="#000"/>
<path d="M181.83,575.9 L211.83,575.9 L209.83,577.3 L183.83,577.3 Z" fill="#000"/>
<circle cx="196.83" cy="570.7" r="0.9" fill="#fff"/>
<path d="M262.38,577.3 L262.38,577.3 L262.95,572.13 L263.52,570.11 L264.1,568.64 L264.68,567.48 L265.25,566.52 L265.82,565.7 L266.4,565.01 L266.98,564.41 L267.55,563.9 L268.12,563.46 L268.7,563.09 L269.27,562.77 L269.85,562.51 L270.43,562.29 L271,562.12 L271.57,561.99 L272.15,561.9 L272.73,561.84 L273.3,561.81 L273.88,561.8 L274.45,561.81 L275.02,561.84 L275.6,561.9 L276.18,561.99 L276.75,562.12 L277.32,562.29 L277.9,562.51 L278.48,562.77 L279.05,563.09 L279.62,563.46 L280.2,563.9 L280.77,564.41 L281.35,565.01 L281.93,565.7 L282.5,566.52 L283.07,567.48 L283.65,568.64 L284.23,570.11 L284.8,572.13 L285.38,577.3 L285.38,577.3 Z" fill="#000"/>
<path d="M254.47,577.3 L293.27,577.3 L298.27,574.6 L298.77,574 L295.77,574.9 L251.97,574.9 L248.97,574 L249.47,574.6 Z" fill="#000"/>
<path d="M261.18,575.11h0.49v0.63h-0.49zM255.3,575.12h0.86v0.51h-0.86zM298.46,573.71h0.5v0.4h-0.5zM290.1,575.69h0.8v0.7h-0.8zM249.75,573.92h0.9v0.42h-0.9zM290.87,575.31h0.49v0.88h-0.49zM298.37,573.33h0.52v0.48h-0.52zM249.39,575.5h0.6v0.98h-0.6zM286.65,575.35h0.64v0.73h-0.64zM256.77,575.66h0.51v0.58h-0.51zM250.75,573.36h0.98v0.68h-0.98zM290.59,574.77h0.95v0.97h-0.95zM296.67,575.04h1v0.7h-1zM253.65,574.81h0.79v0.52h-0.79z" fill="#000"/>
<circle cx="273.88" cy="575.3" r="0.6" fill="#fff"/>
<path d="M338.22,577.3 L338.22,577.3 L338.86,573.25 L339.49,571.66 L340.13,570.5 L340.76,569.58 L341.4,568.81 L342.03,568.16 L342.67,567.6 L343.3,567.11 L343.94,566.69 L344.57,566.33 L345.21,566.02 L345.84,565.76 L346.48,565.53 L347.11,565.35 L347.75,565.2 L348.38,565.08 L349.02,565 L349.65,564.94 L350.29,564.91 L350.92,564.9 L351.56,564.91 L352.19,564.94 L352.83,565 L353.46,565.08 L354.1,565.2 L354.73,565.35 L355.37,565.53 L356,565.76 L356.64,566.02 L357.27,566.33 L357.91,566.69 L358.54,567.11 L359.18,567.6 L359.81,568.16 L360.45,568.81 L361.08,569.58 L361.72,570.5 L362.35,571.66 L362.99,573.25 L363.62,577.3 L363.62,577.3 Z" fill="#000"/>
<path d="M324.32,577.3 L377.52,577.3 L382.92,574.1 L383.42,573.3 L380.42,574.4 L321.42,574.4 L318.42,573.3 L318.92,574.1 Z" fill="#000"/>
<ellipse cx="330.92" cy="575.5" rx="3.5" ry="0.5" fill="#fff"/>
<ellipse cx="370.92" cy="575.5" rx="3.5" ry="0.5" fill="#fff"/>
<path d="M382.92,573.01h0.74v0.87h-0.74zM364.65,571.5h0.87v0.59h-0.87zM368.5,574.16h0.53v0.48h-0.53zM330.95,570.61h0.52v0.67h-0.52zM369.13,573.53h0.45v0.54h-0.45zM364.86,573.23h0.97v0.49h-0.97zM337.54,572.57h0.6v0.58h-0.6zM323.95,572.52h0.85v0.62h-0.85zM383.85,572h0.62v0.62h-0.62zM335.84,574.37h0.68v0.72h-0.68zM371.02,574.45h0.42v0.94h-0.42zM366.21,570.85h0.57v0.51h-0.57zM370,573.44h0.7v0.4h-0.7zM331.16,573.93h0.96v0.94h-0.96zM382.21,574.73h0.62v0.73h-0.62zM365.96,572.87h0.49v0.95h-0.49zM331.02,571.63h0.96v0.5h-0.96zM368.34,571.3h0.61v0.95h-0.61zM326.34,572.47h0.99v0.72h-0.99zM376.49,572.99h0.79v0.69h-0.79zM365.2,571.49h0.83v0.86h-0.83zM331.45,571.86h0.88v0.85h-0.88zM329.04,572.33h0.41v0.98h-0.41zM333.63,572.09h0.59v0.73h-0.59zM370.42,570.94h0.99v0.8h-0.99zM327.23,574.65h0.93v0.98h-0.93zM373.34,573.95h0.78v0.52h-0.78zM370.7,570.61h0.41v0.87h-0.41zM365.24,571.66h0.49v0.61h-0.49zM367.57,573.88h0.5v0.69h-0.5zM328.49,573.62h0.49v0.53h-0.49zM323.86,572.94h0.6v0.48h-0.6zM329.03,572.98h0.44v0.58h-0.44zM319.96,571.47h0.47v0.68h-0.47zM326.2,571.73h0.98v0.82h-0.98zM322.75,573.92h0.5v0.93h-0.5zM322.6,571.37h0.86v0.9h-0.86zM364.92,572.83h0.91v0.76h-0.91zM335.31,572.9h0.54v0.95h-0.54zM320.12,572.99h0.66v0.76h-0.66zM323.95,571.78h0.48v0.57h-0.48zM321.94,570.31h0.44v0.94h-0.44zM380.14,572.13h0.73v0.67h-0.73zM328.93,572.17h0.88v0.99h-0.88zM378.67,572.08h0.52v0.74h-0.52zM327.97,570.93h0.85v0.63h-0.85zM377.4,572.84h0.45v0.8h-0.45zM324.91,570.95h0.53v0.51h-0.53zM333.87,573.3h0.67v0.96h-0.67zM373.46,570.63h0.95v0.42h-0.95zM371.68,571.31h0.83v0.84h-0.83zM331.01,570.61h0.88v0.54h-0.88zM329.71,573.74h0.78v0.48h-0.78zM317.49,572.02h0.77v0.94h-0.77zM318.78,573.4h0.47v0.95h-0.47zM371.71,574.11h0.68v0.81h-0.68zM331.23,574.52h0.49v0.7h-0.49zM326.67,570.82h0.58v0.41h-0.58zM367.52,572.79h0.95v0.81h-0.95zM380.42,571.22h0.56v0.66h-0.56zM330.97,571.96h0.63v0.68h-0.63zM328.92,572.15h0.84v0.61h-0.84zM325.7,572.03h0.77v0.73h-0.77zM373.27,570.56h0.86v0.76h-0.86zM380.77,572.26h0.71v0.52h-0.71zM335.01,573.57h0.51v0.46h-0.51zM371.56,571.54h0.96v0.95h-0.96zM324.4,571.84h0.96v0.45h-0.96zM326.31,574.71h0.51v0.97h-0.51zM376.72,574.16h0.4v0.46h-0.4zM375.77,573.35h0.74v0.62h-0.74zM380.88,574.51h0.65v0.83h-0.65zM370.45,571.98h0.57v0.42h-0.57zM332.5,572.28h0.94v0.75h-0.94zM367.94,570.43h0.68v0.79h-0.68zM334.19,570.72h0.44v0.65h-0.44zM379.77,572.22h0.63v0.53h-0.63zM367.78,571.73h0.77v0.97h-0.77zM336.26,572h0.96v0.82h-0.96zM375.23,571.07h0.41v0.78h-0.41zM333.65,571.74h0.87v0.88h-0.87zM329.9,573.13h0.49v0.9h-0.49zM364.85,572.28h0.73v0.84h-0.73zM329.16,570.51h0.86v0.7h-0.86zM331,573.75h0.43v0.8h-0.43zM372.22,573.62h0.52v0.66h-0.52zM336.22,571.39h0.55v0.56h-0.55zM375.35,571.59h0.47v0.48h-0.47zM320.43,571.79h0.79v0.5h-0.79zM336.13,570.97h0.43v0.84h-0.43z" fill="#000"/>
<path d="M405.98,577.3 L405.98,576.55 L406.86,576.52 L407.74,576.47 L408.62,576.39 L409.5,576.28 L410.38,576.11 L411.25,575.89 L412.14,575.6 L413.02,575.22 L413.9,574.76 L414.78,574.21 L415.66,573.58 L416.54,572.87 L417.42,572.11 L418.3,571.32 L419.18,570.53 L420.06,569.76 L420.94,569.04 L421.81,568.39 L422.7,567.84 L423.58,567.39 L424.46,567.05 L425.34,566.82 L426.22,566.68 L427.1,566.61 L427.98,566.6 L428.86,566.61 L429.74,566.68 L430.62,566.82 L431.5,567.05 L432.38,567.39 L433.25,567.84 L434.14,568.39 L435.02,569.04 L435.9,569.76 L436.78,570.53 L437.66,571.32 L438.54,572.11 L439.42,572.87 L440.3,573.58 L441.18,574.21 L442.06,574.76 L442.94,575.22 L443.82,575.6 L444.7,575.89 L445.58,576.11 L446.46,576.28 L447.34,576.39 L448.22,576.47 L449.1,576.52 L449.98,576.55 L449.98,577.3 Z" fill="#000"/>
<rect x="389.98" y="576.5" width="76" height="0.8" fill="#000"/>
<path d="M453.26,570.19h0.84v0.95h-0.84zM408.08,574.79h0.74v0.86h-0.74zM404.34,572.3h0.5v0.61h-0.5zM399.4,572.44h0.81v0.47h-0.81zM454.72,575.31h0.75v0.61h-0.75zM466.31,572.67h0.62v0.76h-0.62zM391.5,575.08h0.62v0.82h-0.62zM404.29,575.3h0.81v0.68h-0.81zM407.9,572.87h0.97v0.62h-0.97zM398.62,574.61h0.4v0.44h-0.4zM412.85,573.28h0.43v0.66h-0.43zM460.13,570.76h0.71v0.56h-0.71zM459.49,568.7h0.79v0.79h-0.79zM448.85,575.32h0.47v0.66h-0.47zM395.26,569.72h0.69v0.4h-0.69zM395.38,573.21h0.5v0.67h-0.5zM406.86,571.06h0.83v0.76h-0.83zM389.68,573.4h0.6v0.86h-0.6zM412.13,574.15h0.87v0.78h-0.87zM448.26,572.45h0.61v0.41h-0.61zM458.97,572.9h0.5v0.66h-0.5zM407.56,571.79h0.77v0.57h-0.77zM406.53,571.07h0.93v0.89h-0.93zM404.93,569.57h0.49v0.96h-0.49zM448.5,572.2h0.64v0.49h-0.64zM408.6,571.64h0.68v0.9h-0.68zM452.54,575.65h0.91v0.44h-0.91zM443.63,572.83h0.97v0.92h-0.97zM405.86,575.46h0.44v0.97h-0.44zM414.7,573.61h0.69v0.74h-0.69zM405.26,575.93h0.89v0.61h-0.89zM460.85,572.66h0.7v0.54h-0.7zM460.03,571.56h0.92v0.8h-0.92zM454.04,575.6h0.53v0.71h-0.53zM444.08,571.82h0.61v0.9h-0.61zM453.71,572.73h0.96v0.53h-0.96zM456.3,573.74h0.63v0.97h-0.63zM457.01,572.97h0.77v0.74h-0.77zM402.09,575.67h0.49v0.88h-0.49zM415.72,573.2h0.56v0.62h-0.56zM409.91,574.67h0.83v0.47h-0.83zM440.15,572.27h0.68v0.85h-0.68zM397.24,574.09h0.65v0.77h-0.65zM397.36,573.89h0.95v0.48h-0.95zM408.74,573.51h0.85v0.99h-0.85zM402.69,574.52h0.98v0.59h-0.98zM452.11,573.82h0.92v0.99h-0.92zM454.98,574.66h0.92v0.71h-0.92zM390.98,570.8h0.91v0.86h-0.91zM440.96,571h0.75v0.8h-0.75zM409.28,572.1h0.8v0.66h-0.8zM436.13,569.68h0.64v0.43h-0.64zM435.23,568.98h0.99v0.63h-0.99zM460.81,574.82h0.84v0.84h-0.84zM405.13,572.91h0.82v0.74h-0.82zM391.92,574.34h0.92v0.77h-0.92zM410.36,571.08h0.98v0.82h-0.98zM457.19,572.85h0.87v0.51h-0.87zM410.99,575.59h0.72v0.44h-0.72zM458.02,576.07h0.55v0.53h-0.55zM465.36,573.55h0.62v0.86h-0.62zM446.44,573.54h0.72v0.48h-0.72zM449.72,574.63h0.72v0.75h-0.72zM438.88,569.59h0.94v0.88h-0.94zM398.79,572.1h0.62v0.54h-0.62zM452.14,574.43h0.62v0.41h-0.62zM412.25,575.31h0.43v0.59h-0.43zM457.38,573.48h0.82v0.84h-0.82zM457.15,574.44h0.56v0.91h-0.56zM404.48,571.26h0.63v0.98h-0.63zM459.69,575.16h0.87v0.74h-0.87zM461.6,572.77h0.91v0.89h-0.91zM403.77,573.37h0.4v0.57h-0.4zM461.28,573.68h0.89v0.67h-0.89zM448.49,574.68h0.47v0.78h-0.47zM400.43,572.5h0.99v0.77h-0.99zM406.21,576.41h0.69v0.66h-0.69zM409.88,569.69h0.58v0.7h-0.58zM453.48,573.66h0.96v0.58h-0.96zM395.69,572.56h0.62v0.88h-0.62zM394.83,574.81h0.77v0.67h-0.77zM398.12,574.35h0.43v0.86h-0.43zM450.35,575.85h0.44v0.67h-0.44zM446.84,568.79h0.69v0.65h-0.69zM445.34,567.84h0.92v0.6h-0.92zM444.3,570.55h0.84v0.76h-0.84zM445.18,572.16h0.55v0.76h-0.55zM401.47,573.51h0.49v0.57h-0.49zM397.33,572.85h0.4v0.82h-0.4zM444.77,574.27h0.59v0.6h-0.59zM397.84,572.07h0.85v0.94h-0.85zM399.95,572.53h0.72v0.43h-0.72zM405.74,574.9h0.9v0.92h-0.9zM395.2,573.22h0.52v0.7h-0.52zM448.46,573.35h0.6v0.81h-0.6zM465.51,575h0.88v0.55h-0.88zM393.31,571.63h0.77v0.86h-0.77zM408.33,574.46h0.91v0.93h-0.91zM408.35,570.58h0.86v0.78h-0.86zM400.2,575.4h0.67v0.88h-0.67zM462.07,571.22h0.68v0.97h-0.68zM395.48,572.34h0.79v0.53h-0.79zM392.93,574.92h0.65v0.91h-0.65zM391.46,571.84h0.63v0.56h-0.63zM405.4,573.82h0.47v0.5h-0.47zM465.11,573.07h0.42v0.67h-0.42zM407.35,572.99h0.66v0.86h-0.66zM391.87,571.54h0.77v0.87h-0.77zM448.42,573.29h0.41v0.58h-0.41zM456.99,573.82h0.87v0.62h-0.87zM390.26,572.21h0.42v0.93h-0.42zM464.04,576.1h0.98v0.57h-0.98zM446.24,568.7h0.69v0.6h-0.69zM391.35,570.67h0.96v0.99h-0.96zM464.62,570.14h0.73v0.72h-0.73zM458.55,573.56h0.82v0.76h-0.82zM396.39,572.4h0.84v0.64h-0.84zM461.2,572.41h0.64v0.82h-0.64zM407.47,570.15h0.8v0.41h-0.8zM443.98,574.74h0.98v0.46h-0.98zM416.99,571.72h0.47v0.79h-0.47zM447.13,573.09h0.5v0.81h-0.5zM408.67,572.83h0.97v0.51h-0.97zM404.42,571.44h0.4v0.7h-0.4zM395.14,572.35h0.45v0.92h-0.45zM459.8,573.15h0.78v0.82h-0.78zM418.6,570.1h0.57v0.52h-0.57zM403.02,574.24h0.73v0.65h-0.73zM408.86,573.61h0.41v0.89h-0.41zM449.09,576.58h0.65v0.41h-0.65zM407.5,573.31h0.43v0.82h-0.43zM405.78,570.47h0.85v0.95h-0.85zM413.24,571.92h0.51v0.43h-0.51zM394.32,574.93h0.48v0.9h-0.48zM402.72,574.54h0.9v0.67h-0.9zM462.41,573.85h0.99v0.66h-0.99zM444.3,570.6h0.94v0.95h-0.94zM454.83,576.31h0.62v0.41h-0.62zM460.47,573.38h0.61v0.57h-0.61zM407.67,575.72h0.8v0.85h-0.8zM442.16,572.47h0.71v0.75h-0.71zM399.97,572.16h0.86v0.57h-0.86zM413.34,571.99h0.41v1h-0.41zM390.11,573.77h0.99v0.6h-0.99zM411.71,571.9h0.93v0.81h-0.93zM442.55,573.52h0.64v0.89h-0.64zM413.64,572.36h0.47v0.87h-0.47zM392.17,573.86h0.42v0.43h-0.42zM397.37,574.6h0.58v0.46h-0.58zM401.62,570.93h0.81v0.54h-0.81zM393.81,575.77h0.52v0.62h-0.52zM415.29,573.68h0.63v0.94h-0.63zM398.56,571.41h0.59v0.93h-0.59zM440.66,572.26h0.76v1h-0.76zM451.28,567.84h0.68v0.49h-0.68zM448.72,568.04h0.46v0.68h-0.46zM400.11,574.33h0.85v0.73h-0.85zM413.21,574.33h0.84v0.56h-0.84zM459.29,575.58h0.63v0.51h-0.63zM399.62,573.65h0.76v0.73h-0.76zM397.85,573.43h0.93v0.54h-0.93zM394.96,572.24h0.87v0.41h-0.87zM406.65,573.62h0.71v0.94h-0.71zM460.53,570.88h0.78v0.49h-0.78zM447.4,573.23h0.73v0.8h-0.73zM461.37,573.62h0.56v0.67h-0.56zM390.21,572.82h0.74v0.99h-0.74zM402.35,575.35h0.92v0.58h-0.92zM448.78,570.33h0.82v0.57h-0.82zM402.54,572.17h0.92v0.42h-0.92zM393.74,573.46h0.99v0.63h-0.99zM392.62,571.74h0.99v0.74h-0.99zM461.04,572.58h0.72v0.45h-0.72zM403.72,570.45h0.48v0.89h-0.48zM457.15,573.45h0.67v0.72h-0.67zM461.07,573.88h0.79v0.76h-0.79zM454.88,575.53h0.51v0.49h-0.51zM404.69,569.64h0.67v0.48h-0.67zM412.29,569.98h0.67v0.66h-0.67zM403.02,574.01h0.73v0.6h-0.73zM396.74,571.65h0.43v0.67h-0.43zM393.79,572.48h0.73v0.55h-0.73zM464.11,572.62h0.59v0.47h-0.59zM459.66,571.78h0.78v0.85h-0.78zM405.84,573.21h0.78v0.83h-0.78zM406.82,574.82h0.66v0.99h-0.66zM457.67,568.77h0.88v0.9h-0.88zM402.84,576.31h0.61v0.58h-0.61zM403.86,572.19h0.42v0.69h-0.42zM461.79,568.63h0.74v0.52h-0.74zM466.2,576.64h0.6v0.62h-0.6zM398.39,573.23h0.76v0.64h-0.76zM391.73,573.67h0.76v0.9h-0.76zM454.66,576.19h0.45v0.67h-0.45zM402.39,575.16h0.87v0.87h-0.87zM442.72,573.04h0.47v0.53h-0.47zM454.22,572.4h0.63v0.61h-0.63zM416.74,572.39h0.44v0.45h-0.44zM400.41,574.82h0.49v0.49h-0.49zM443.79,571.42h0.92v0.74h-0.92zM400.3,571.77h0.58v0.93h-0.58zM406.44,571.48h0.86v0.46h-0.86zM459.65,572.23h0.94v0.41h-0.94zM390.02,573.64h0.84v0.52h-0.84zM409.89,574.95h0.55v0.53h-0.55zM444.51,571.47h0.97v0.58h-0.97zM403.25,572.65h0.94v0.74h-0.94zM446.74,573.71h0.53v0.76h-0.53zM456.12,571.24h0.63v0.83h-0.63zM466.24,572.56h0.86v0.98h-0.86zM441.37,572.44h0.52v0.91h-0.52zM394.79,575.65h0.55v0.59h-0.55zM455.9,572.66h0.54v0.63h-0.54zM406.94,572.99h0.99v0.85h-0.99zM413.89,573.72h0.63v0.53h-0.63zM465.03,576.27h0.5v0.53h-0.5zM466.34,576.35h0.51v0.88h-0.51zM452.34,573.36h0.64v0.76h-0.64zM465.29,571.65h0.76v0.74h-0.76zM439.8,571.81h0.97v0.63h-0.97zM399.59,576.69h0.54v0.69h-0.54zM450.51,573.95h0.41v0.47h-0.41zM464.66,573.28h0.92v0.5h-0.92zM454.62,572.98h0.89v0.54h-0.89zM463.62,576.05h0.49v0.97h-0.49zM410.07,574.37h0.42v0.76h-0.42zM465.9,576.59h0.87v0.91h-0.87zM401.03,572.93h0.75v0.64h-0.75zM414.47,572.37h0.43v0.95h-0.43zM450.84,571.87h0.85v0.88h-0.85z" fill="#000"/>
<path d="M478.02,577.3 L478.02,576.57 L479.1,576.55 L480.19,576.51 L481.26,576.46 L482.34,576.37 L483.42,576.26 L484.5,576.1 L485.58,575.88 L486.66,575.61 L487.75,575.27 L488.82,574.86 L489.9,574.39 L490.98,573.86 L492.06,573.29 L493.14,572.69 L494.22,572.09 L495.3,571.51 L496.38,570.96 L497.46,570.47 L498.54,570.05 L499.62,569.7 L500.7,569.44 L501.78,569.27 L502.86,569.16 L503.94,569.11 L505.02,569.1 L506.1,569.11 L507.19,569.16 L508.26,569.27 L509.34,569.44 L510.42,569.7 L511.5,570.05 L512.59,570.47 L513.66,570.96 L514.75,571.51 L515.82,572.09 L516.9,572.69 L517.99,573.29 L519.06,573.86 L520.14,574.39 L521.23,574.86 L522.3,575.27 L523.38,575.61 L524.46,575.88 L525.54,576.1 L526.62,576.26 L527.7,576.37 L528.78,576.46 L529.87,576.51 L530.94,576.55 L532.02,576.57 L532.02,577.3 Z" fill="#000"/>
<rect x="467.02" y="576.5" width="76" height="0.8" fill="#000"/>
<path d="M490.3,571.14h0.51v0.97h-0.51zM516.74,572.36h0.47v0.45h-0.47zM476.56,576.41h0.65v0.76h-0.65zM468.88,569.33h0.73v0.6h-0.73zM533.21,571.13h0.88v0.69h-0.88zM493.02,572.56h0.42v0.62h-0.42zM533.54,574.43h0.75v0.98h-0.75zM469.24,571.26h0.87v0.88h-0.87zM525.29,567.13h0.82v0.91h-0.82zM519.72,571.74h0.95v0.89h-0.95zM467.26,570.57h0.42v0.97h-0.42zM468.64,568.72h0.74v0.64h-0.74zM530.4,571.34h0.44v0.65h-0.44zM543.01,572.41h0.83v0.52h-0.83zM488.46,570.55h0.8v0.9h-0.8zM535.07,570.51h0.5v0.5h-0.5zM496.52,570.99h0.48v0.53h-0.48zM529.38,574.65h0.48v0.42h-0.48zM515.74,570.67h0.94v0.68h-0.94zM466.53,573.69h0.68v0.68h-0.68zM468.02,572.07h0.71v0.62h-0.71zM521.72,571.98h0.86v0.57h-0.86zM477.67,571.69h0.73v0.41h-0.73zM486.65,573.56h0.63v0.42h-0.63zM530.37,574.58h0.54v0.61h-0.54zM488.56,574.07h0.76v0.62h-0.76zM509.16,568.46h0.58v0.65h-0.58zM478.5,567.63h0.65v0.51h-0.65zM468.54,572.2h0.66v0.6h-0.66zM485.72,567.67h0.86v0.57h-0.86zM525.75,574.69h0.92v0.74h-0.92zM488.51,571.89h0.9v0.86h-0.9zM487.73,574.46h0.43v0.84h-0.43zM493.07,571.75h0.54v0.47h-0.54zM487.07,572.49h0.45v0.61h-0.45zM537.99,570.89h0.42v1h-0.42zM532.66,570.51h0.63v0.92h-0.63zM473,573.05h0.97v0.68h-0.97zM538.91,573.19h0.99v0.59h-0.99zM515.04,566.13h0.52v0.41h-0.52zM480.57,570.46h0.47v0.8h-0.47zM533.99,573.52h0.45v0.4h-0.45zM493.84,571.53h0.64v0.45h-0.64zM468.5,571.67h0.5v0.61h-0.5zM524.16,575.05h0.65v0.69h-0.65zM508.45,565.61h0.88v0.65h-0.88zM482.35,567.04h0.53v0.67h-0.53zM490.64,567.64h0.71v0.46h-0.71zM468.58,574.19h0.47v0.62h-0.47zM485.08,572h0.85v0.69h-0.85zM477.19,574.84h0.69v0.42h-0.69zM538.76,571.53h0.74v0.75h-0.74zM484.85,572.37h0.44v0.81h-0.44zM479.83,573.34h0.86v0.65h-0.86zM539.69,575.53h0.74v0.43h-0.74zM501.38,568.67h0.9v0.91h-0.9zM504.57,568.76h0.57v0.64h-0.57zM539.3,568.61h0.87v0.58h-0.87zM469.14,571.85h0.94v0.52h-0.94zM537.98,574.87h0.52v0.65h-0.52zM536.43,569.83h0.7v0.72h-0.7zM477.24,573.78h0.78v0.63h-0.78zM531.79,570.48h0.48v0.69h-0.48zM518.61,572.14h0.83v0.43h-0.83zM476.33,568.84h0.97v0.73h-0.97zM491.07,573.55h0.46v0.99h-0.46zM530.29,568.78h0.97v0.71h-0.97zM469.38,571.79h0.97v0.74h-0.97zM486.2,573.77h0.75v0.73h-0.75zM473.65,570.11h0.97v0.91h-0.97zM484.79,568.84h0.48v0.78h-0.48zM513.6,567.33h0.44v0.48h-0.44zM470.64,569.59h0.75v0.73h-0.75zM527.66,567.31h0.94v0.69h-0.94zM526.09,574.17h0.66v1h-0.66zM468.04,572.51h0.63v0.59h-0.63zM493.1,566.26h0.6v0.74h-0.6zM494.02,568.32h0.66v0.89h-0.66zM474.68,570.17h0.86v0.54h-0.86zM490.95,572.68h0.48v0.92h-0.48zM475.72,571.59h0.79v0.88h-0.79zM533.48,569.99h0.59v0.64h-0.59zM531.93,569.82h0.97v0.92h-0.97zM517.6,572.69h0.76v0.96h-0.76zM482.17,575.1h0.93v0.91h-0.93zM467.67,569.79h0.64v0.8h-0.64zM540.05,571.25h0.74v0.62h-0.74zM519.07,566.91h0.57v0.56h-0.57zM490.87,569.13h0.76v0.79h-0.76zM479.11,570.54h0.45v0.47h-0.45zM486.31,572.65h0.84v0.95h-0.84zM536.38,573.07h0.98v0.98h-0.98zM539.66,568.47h0.66v0.41h-0.66zM530.96,567.6h0.68v0.87h-0.68zM493.54,570.22h0.72v0.42h-0.72zM516.74,571.46h0.92v0.85h-0.92zM487.88,571.84h0.68v0.66h-0.68zM491.22,571.02h0.94v0.53h-0.94zM481.05,568.63h0.52v0.96h-0.52zM532.34,574.09h0.98v0.76h-0.98zM521.11,569.33h0.91v0.91h-0.91zM477.14,575.06h0.97v0.57h-0.97zM533.16,573.8h0.59v0.42h-0.59zM527.18,569.08h0.64v0.78h-0.64zM532.32,573.17h0.52v0.96h-0.52zM485.66,569.96h0.72v0.96h-0.72zM485.46,572.03h0.62v0.65h-0.62zM522.95,573.54h0.77v0.93h-0.77zM534.19,575.29h0.73v0.81h-0.73zM480.99,572.7h0.88v0.76h-0.88zM480.58,566h0.9v0.72h-0.9zM475.55,575.47h0.44v0.57h-0.44zM473.63,570.37h0.71v0.51h-0.71zM534.17,572.92h0.89v0.8h-0.89zM483.94,568.76h0.51v0.94h-0.51zM512.02,568.48h0.42v0.88h-0.42zM539.18,574.55h0.85v0.81h-0.85zM480.42,570.14h0.48v0.86h-0.48zM535.04,572.81h0.42v0.75h-0.42zM521.24,570.9h0.58v0.49h-0.58zM481.62,570.99h0.91v0.98h-0.91zM522.98,568.62h0.74v0.46h-0.74zM478.34,571.88h0.75v0.43h-0.75zM541.91,574.53h0.91v0.83h-0.91zM479.93,568.08h0.47v0.58h-0.47zM515.35,571.41h0.49v0.87h-0.49zM515.58,569.98h0.59v0.99h-0.59zM475.23,571.86h0.62v0.62h-0.62zM490.63,573h0.62v0.9h-0.62zM539.4,573.89h0.5v0.75h-0.5zM540.43,572.17h0.86v0.51h-0.86zM519.77,571.18h0.9v0.46h-0.9zM526.5,570.14h0.6v0.89h-0.6zM474.61,575.47h0.4v0.67h-0.4zM510.49,568.8h0.8v0.64h-0.8zM467.33,572.1h0.71v0.82h-0.71zM527.02,573.57h0.98v0.45h-0.98zM528.05,576.22h0.77v0.89h-0.77zM484.44,571.25h0.64v0.54h-0.64zM524.48,569.57h0.52v0.84h-0.52zM520.43,572.23h0.56v0.47h-0.56zM528.35,573.81h0.53v0.56h-0.53zM474.79,569.52h0.64v0.75h-0.64zM537.46,574.74h0.62v0.72h-0.62zM470.86,573.51h0.93v0.8h-0.93zM519.61,569.43h0.87v0.9h-0.87zM495.52,570.52h0.45v0.82h-0.45zM536.03,573.39h0.84v0.44h-0.84zM538.68,569.3h0.76v0.97h-0.76zM468.11,568.23h0.9v0.91h-0.9zM476.05,571.46h0.43v0.9h-0.43zM474.32,572.54h0.79v0.49h-0.79zM517.44,570.02h0.71v0.74h-0.71zM522.85,572.64h0.72v0.68h-0.72zM518.01,571.85h0.7v1h-0.7zM479.63,571.94h0.87v0.41h-0.87zM508.49,568.26h0.89v0.56h-0.89zM533.37,571.06h0.42v0.49h-0.42zM474.69,570.88h0.57v0.97h-0.57zM522.24,574.05h0.42v0.55h-0.42zM492.4,568.1h0.68v0.59h-0.68zM493.73,571.53h0.53v0.59h-0.53zM497.95,569.61h0.9v0.61h-0.9zM488.88,574.46h0.99v0.76h-0.99zM539.99,567.37h0.44v0.94h-0.44zM477.46,566.83h0.54v0.55h-0.54zM483.03,572.19h0.98v0.5h-0.98zM526.18,571.7h0.82v0.71h-0.82zM535.25,571.33h0.63v0.78h-0.63zM495.77,569.28h0.43v0.9h-0.43zM490.6,573.25h0.68v0.59h-0.68zM475.19,570.85h0.59v0.78h-0.59zM492.6,565.03h0.55v0.49h-0.55zM523.75,574.28h0.95v0.85h-0.95zM470.76,571.07h0.76v0.53h-0.76zM476.26,572.34h0.81v0.53h-0.81zM530.52,576.01h0.65v0.97h-0.65zM522.46,570.46h0.97v0.43h-0.97zM489.07,570.68h0.64v0.61h-0.64zM529.32,574.6h0.56v0.66h-0.56zM500.02,569.21h0.97v0.76h-0.97zM534.63,573.72h0.66v0.77h-0.66zM528.52,571.71h0.78v0.55h-0.78zM475.29,572.25h0.93v0.99h-0.93zM486.07,575.02h0.65v0.41h-0.65zM469.92,569.81h0.53v0.69h-0.53zM516.17,570.97h0.77v0.52h-0.77zM496.99,568.07h0.65v0.41h-0.65zM531.75,572.29h0.98v0.88h-0.98zM478.3,572.18h0.91v0.82h-0.91zM533.58,569.9h0.77v0.51h-0.77zM488.66,572.64h0.62v0.42h-0.62zM493.53,572.46h0.76v0.43h-0.76zM527.14,568.7h0.84v0.58h-0.84zM503.35,568.68h0.67v0.74h-0.67zM533.4,573.82h0.56v0.6h-0.56zM484.37,573.9h1v0.83h-1zM469.07,571.49h0.61v0.82h-0.61zM468.04,574.48h0.91v0.75h-0.91zM513.61,570.65h0.78v0.88h-0.78zM495.41,569.86h0.94v0.92h-0.94zM471.35,573.51h0.72v0.47h-0.72zM475.3,572.38h0.71v0.99h-0.71zM539.4,573.91h0.81v0.5h-0.81zM473.85,571.93h0.72v0.84h-0.72zM538.31,568.6h0.56v0.66h-0.56zM488.86,570.02h0.92v0.87h-0.92zM538.75,568.8h0.85v0.93h-0.85zM530.19,570.11h0.55v0.51h-0.55zM475.04,572.25h0.8v0.88h-0.8zM488.51,572.95h0.47v0.94h-0.47zM529.81,572.84h0.97v0.75h-0.97zM522.46,573.83h0.52v0.56h-0.52zM528.17,569.77h0.63v0.78h-0.63zM491.32,572.72h0.7v0.96h-0.7zM530.08,570.93h0.75v0.5h-0.75zM528.79,567.97h0.45v0.83h-0.45zM469.97,569.23h0.7v0.79h-0.7zM539.13,570.92h0.91v0.73h-0.91zM533.37,572.63h0.69v0.68h-0.69zM482.8,570.4h0.65v0.61h-0.65zM537.3,576.34h0.41v0.49h-0.41zM480.95,572.43h0.7v0.62h-0.7zM492.86,572.65h0.64v0.44h-0.64zM490.73,568.01h0.74v0.46h-0.74zM500.17,568.72h0.75v0.54h-0.75zM500.24,568.5h0.67v0.73h-0.67zM477.85,573.39h0.44v0.66h-0.44zM481.92,575.13h0.7v0.58h-0.7zM486.61,570.65h0.93v0.84h-0.93zM521.27,568.66h0.82v0.41h-0.82zM467.98,573.95h0.86v0.82h-0.86zM485.44,571.18h0.8v0.63h-0.8zM468.16,575.02h0.64v0.68h-0.64zM490,569.98h0.68v0.75h-0.68zM541.56,571.04h0.61v0.93h-0.61zM540.65,572.86h0.64v0.54h-0.64zM501.77,568.92h0.74v0.62h-0.74zM520.47,571.87h0.66v0.7h-0.66zM526.29,570.81h0.48v0.64h-0.48zM531.23,571.43h0.99v0.83h-0.99zM491.36,572.65h0.49v0.91h-0.49zM487.33,574.1h0.54v0.5h-0.54zM486.72,572.05h0.57v0.57h-0.57zM468.12,569.77h0.93v0.79h-0.93zM483.01,572.93h0.83v0.73h-0.83zM469.55,569.86h0.73v0.97h-0.73zM539.03,572.11h0.83v0.58h-0.83zM483.98,569.45h0.71v0.85h-0.71zM474.66,568.52h0.46v0.84h-0.46zM539.73,568.85h0.59v0.58h-0.59zM519.58,572.56h0.74v0.44h-0.74zM471.35,568.31h0.93v0.48h-0.93zM470.27,568.67h0.48v0.89h-0.48zM523.75,572.2h0.54v0.92h-0.54zM539.19,570.14h0.51v0.75h-0.51zM530.88,568.85h0.4v0.97h-0.4zM521.78,572.17h0.62v0.8h-0.62zM542.19,573.81h0.51v0.86h-0.51zM518.93,573.4h0.88v1h-0.88zM528.27,572.42h0.43v0.68h-0.43zM532.07,569.73h0.57v0.8h-0.57zM532.94,571.94h0.62v0.4h-0.62zM530.94,574.43h0.62v0.78h-0.62zM539.78,570.74h0.76v0.96h-0.76zM525.64,570.45h0.4v0.66h-0.4zM485.26,567.63h0.48v0.89h-0.48zM527.39,570.6h0.62v0.63h-0.62zM482.61,568.4h0.99v0.85h-0.99zM540.19,571.49h0.98v0.57h-0.98zM474.45,574.22h0.75v1h-0.75zM524.28,570.46h0.72v0.43h-0.72zM531,572.21h0.79v0.87h-0.79zM538.69,569.05h0.75v0.6h-0.75zM471.89,571.38h0.69v0.86h-0.69zM486.94,574.44h0.66v0.43h-0.66zM539.73,570.35h0.44v0.55h-0.44zM485.12,571.81h0.94v0.89h-0.94zM513.65,570.72h0.96v0.83h-0.96zM534.88,568.45h0.84v0.48h-0.84z" fill="#000"/>
<path d="M551.07,577.3 L551.07,576.57 L552.31,576.55 L553.55,576.51 L554.79,576.46 L556.03,576.39 L557.27,576.29 L558.51,576.15 L559.75,575.98 L560.99,575.75 L562.23,575.49 L563.47,575.17 L564.71,574.81 L565.95,574.42 L567.19,573.99 L568.43,573.56 L569.67,573.12 L570.91,572.7 L572.15,572.31 L573.39,571.96 L574.63,571.66 L575.87,571.42 L577.11,571.24 L578.35,571.12 L579.59,571.04 L580.83,571.01 L582.07,571 L583.31,571.01 L584.55,571.04 L585.79,571.12 L587.03,571.24 L588.27,571.42 L589.51,571.66 L590.75,571.96 L591.99,572.31 L593.23,572.7 L594.47,573.12 L595.71,573.56 L596.95,573.99 L598.19,574.42 L599.43,574.81 L600.67,575.17 L601.91,575.49 L603.15,575.75 L604.39,575.98 L605.63,576.15 L606.87,576.29 L608.11,576.39 L609.35,576.46 L610.59,576.51 L611.83,576.55 L613.07,576.57 L613.07,577.3 Z" fill="#000"/>
<rect x="544.07" y="576.5" width="76" height="0.8" fill="#000"/>
<path d="M547.22,568.08h0.7v0.99h-0.7zM556.58,573.86h0.64v0.99h-0.64zM544.77,568.2h0.52v0.59h-0.52zM544.91,568.54h0.54v0.57h-0.54zM543.74,570.32h0.59v0.92h-0.59zM543.85,565.85h0.47v0.86h-0.47zM576.91,564.56h0.76v0.97h-0.76zM616.5,569.7h0.67v0.67h-0.67zM563.07,572.14h0.5v0.77h-0.5zM546.2,566.21h0.75v0.88h-0.75zM593.32,564.84h0.94v0.72h-0.94zM564.05,571.54h0.52v0.44h-0.52zM580.87,568.36h0.89v0.56h-0.89zM555.46,576h0.51v0.84h-0.51zM611.15,564.42h0.57v0.45h-0.57zM598.31,566.99h0.41v0.64h-0.41zM574.39,570.9h0.64v0.66h-0.64zM604.43,565.99h0.77v0.83h-0.77zM586.07,567.35h0.92v0.88h-0.92zM592.52,572.45h0.65v0.93h-0.65zM558.73,568.48h0.52v0.95h-0.52zM595.55,567.94h0.79v0.8h-0.79zM564.59,567.23h0.84v0.84h-0.84zM574.59,570.32h0.65v0.61h-0.65zM552.32,567.11h0.52v0.53h-0.52zM606.33,562.65h0.97v0.72h-0.97zM564.08,568.56h0.6v0.84h-0.6zM550.11,570.94h0.63v0.6h-0.63zM598.91,568.93h0.7v0.45h-0.7zM555.72,570.42h0.58v0.78h-0.58zM583.24,570.18h0.43v0.6h-0.43zM544.66,571.32h0.71v0.43h-0.71zM592.14,562.68h0.45v0.48h-0.45zM545.93,565.59h0.84v0.46h-0.84zM580.48,568.46h0.86v0.58h-0.86zM562.46,568.38h0.48v0.56h-0.48zM573.77,562.74h0.42v0.67h-0.42zM600.25,565.18h0.44v0.88h-0.44zM546.9,568.98h0.77v0.47h-0.77zM584.4,565.17h0.68v0.81h-0.68zM551.05,568.24h0.58v0.78h-0.58zM560.65,562.09h0.42v0.9h-0.42zM581.19,567.8h0.72v0.54h-0.72zM580.05,567.99h0.59v1h-0.59zM589.5,569.07h0.99v0.54h-0.99zM566.86,566.92h0.72v0.74h-0.72zM571.66,566.73h0.46v0.81h-0.46zM614.39,567.96h0.97v0.57h-0.97zM611.29,563.95h0.86v0.76h-0.86zM558.84,572.1h0.56v0.4h-0.56zM589.2,569.81h0.96v0.52h-0.96zM598.85,572.84h0.64v0.74h-0.64zM619.43,566.78h0.73v0.58h-0.73zM600.93,568.56h0.4v0.56h-0.4zM560.94,570.76h0.71v0.45h-0.71zM575.45,565.19h0.52v0.77h-0.52zM610.94,571.91h0.58v0.76h-0.58zM599.64,570.01h0.59v0.46h-0.59zM553.53,569.42h0.83v0.82h-0.83zM570.21,565.99h0.42v0.76h-0.42zM553.41,565.18h0.78v0.71h-0.78zM567.63,565.55h0.95v0.43h-0.95zM616.44,573.28h0.46v0.72h-0.46zM616.84,570.89h0.42v0.42h-0.42zM544.62,568.56h0.94v0.99h-0.94zM573.9,566.19h0.7v0.8h-0.7zM544.88,567.63h0.42v0.82h-0.42zM600.21,572.65h0.77v0.98h-0.77zM561.38,564.16h0.79v0.6h-0.79zM571.34,564.46h0.61v0.66h-0.61zM581.27,570.98h0.65v0.9h-0.65zM586.16,570.94h0.9v0.69h-0.9zM543.82,567.18h0.81v0.41h-0.81zM573.04,568.23h0.77v0.91h-0.77zM615.59,569.07h0.52v0.64h-0.52zM572.92,569.73h0.43v0.78h-0.43zM565.29,573.3h0.83v0.69h-0.83zM575.38,566.74h0.49v0.98h-0.49zM615.33,571.16h0.65v0.6h-0.65zM576.72,569.84h0.99v0.42h-0.99zM614.08,570.9h0.73v0.63h-0.73zM547.48,571.62h0.66v0.47h-0.66zM564.42,564.08h0.77v0.91h-0.77zM570.68,571.34h0.83v0.85h-0.83zM584.08,569.12h0.61v0.79h-0.61zM583.12,569.25h0.82v0.87h-0.82zM548.17,575.34h0.94v0.44h-0.94zM589.82,567.04h0.94v0.7h-0.94zM596.61,569.1h0.61v0.99h-0.61zM546.58,564.76h0.82v0.7h-0.82zM551.27,573.02h0.54v0.92h-0.54zM549.14,569.29h0.94v0.62h-0.94zM553.17,572.11h0.78v0.66h-0.78zM605.26,564.68h0.54v0.93h-0.54zM614.47,567.43h0.5v0.64h-0.5zM567.58,566.88h0.57v0.56h-0.57zM558.94,566.52h0.62v0.52h-0.62zM571.82,565.73h0.74v0.48h-0.74zM567.73,564.06h0.71v0.42h-0.71zM556.7,571.69h0.78v0.87h-0.78zM563.18,571.06h0.8v0.49h-0.8zM593.83,569.99h0.53v0.43h-0.53zM545.79,569.03h0.71v0.6h-0.71zM553.08,567.98h0.95v0.82h-0.95zM619.14,572.1h0.47v0.82h-0.47zM597.2,567.6h0.93v0.76h-0.93zM578.66,566.48h0.65v0.59h-0.65zM607.36,569.29h0.61v0.89h-0.61zM549.39,565.21h0.64v0.5h-0.64zM562.85,568.97h0.58v0.89h-0.58zM579.16,567.84h0.41v0.93h-0.41zM586.65,571.27h0.94v0.85h-0.94zM558.6,569.42h0.6v0.62h-0.6zM596.63,567.49h0.68v0.99h-0.68zM549.61,569.54h0.49v0.81h-0.49zM604.39,570.28h0.64v0.57h-0.64zM560.92,568.72h0.7v0.97h-0.7zM598.13,565.55h0.61v0.43h-0.61zM549.42,569.34h0.98v0.97h-0.98zM562.98,569.65h0.55v0.52h-0.55zM587.55,570.92h0.78v0.47h-0.78zM562.34,569.34h0.59v0.92h-0.59zM581,566.78h0.42v0.87h-0.42zM546.47,566.89h0.6v0.93h-0.6zM598.27,570.13h0.52v0.46h-0.52zM544.2,572.14h0.45v0.93h-0.45zM618.13,576.09h0.58v0.58h-0.58zM549.41,569.21h0.69v0.48h-0.69zM610.88,566.39h1v0.75h-1zM561.48,568.48h0.57v0.88h-0.57zM571.83,565.46h0.67v0.59h-0.67zM558.68,571.05h0.63v0.96h-0.63zM590.67,564.78h0.73v0.8h-0.73zM608.05,565.73h0.92v0.79h-0.92zM613.86,568.08h0.91v0.89h-0.91zM617.83,570.72h0.98v0.86h-0.98zM561.24,568.82h0.52v0.87h-0.52zM606.22,567.04h0.44v0.42h-0.44zM586.62,568.13h0.53v0.68h-0.53zM565.52,574.08h0.4v0.97h-0.4zM599.55,569.46h0.48v0.98h-0.48zM558.99,566.34h0.71v0.52h-0.71zM547.7,573.13h0.77v0.91h-0.77zM556.33,568.96h0.55v0.95h-0.55zM619.33,564.35h0.69v0.98h-0.69zM596.13,570.31h0.62v0.8h-0.62zM591.87,570.68h0.61v0.73h-0.61zM569.95,570.03h0.72v0.5h-0.72zM547.06,568.12h0.76v0.64h-0.76zM611.59,568.11h0.92v0.83h-0.92zM561.12,571.92h0.63v0.99h-0.63zM577.32,568.41h0.65v0.57h-0.65zM548.31,572h0.52v0.41h-0.52zM563.93,566.31h0.56v0.98h-0.56zM563.11,570.36h0.85v0.73h-0.85zM616.23,568.08h0.92v0.78h-0.92zM608.31,570.06h0.98v0.51h-0.98zM601.26,571.01h0.45v0.56h-0.45zM556.22,572.74h0.57v0.76h-0.57zM544.99,571.68h0.86v0.97h-0.86zM549.77,566.35h0.81v0.64h-0.81zM553.39,565.22h0.87v0.54h-0.87zM612.54,574.06h0.46v0.6h-0.46zM572.99,564.73h0.44v0.82h-0.44zM604.84,564.44h0.99v0.57h-0.99zM602.94,564.52h0.58v0.72h-0.58zM616.22,569.75h0.98v0.98h-0.98zM583.87,569.6h0.57v0.54h-0.57zM553.95,568.56h0.65v0.58h-0.65zM555.15,569.09h0.56v0.61h-0.56zM566.55,569.74h0.51v0.62h-0.51zM568.17,569.02h0.58v0.76h-0.58zM614.47,562.05h0.81v0.8h-0.81zM608.85,563.92h0.96v0.72h-0.96zM569.99,572.66h0.52v0.78h-0.52zM557.25,572.43h0.67v0.74h-0.67zM578.47,568.88h0.44v0.84h-0.44zM611.11,569.53h0.93v0.42h-0.93zM558.57,565.96h0.8v0.51h-0.8zM550.27,571.81h0.82v0.83h-0.82zM586.6,568.01h0.67v0.52h-0.67zM545.73,571.47h0.43v0.6h-0.43zM619.9,569.86h0.73v0.42h-0.73zM555.93,568.01h0.62v0.64h-0.62zM597.99,569.4h0.78v0.44h-0.78zM580.61,569.92h0.48v1h-0.48zM607.79,570.8h0.69v0.4h-0.69zM566.37,569.51h0.95v1h-0.95zM589.01,571.6h0.71v0.72h-0.71zM547.15,569.57h0.95v0.97h-0.95zM615.47,570.97h0.69v0.78h-0.69zM595.96,572.73h0.73v0.76h-0.73zM605.5,572.42h0.79v0.44h-0.79zM564.15,566.61h0.91v0.65h-0.91zM586.13,570.75h0.48v0.74h-0.48zM584.56,565.4h0.45v0.87h-0.45zM608.61,569h0.5v0.89h-0.5zM615.58,564.32h0.83v0.78h-0.83zM605.61,574.12h0.67v0.76h-0.67zM572.43,571.38h0.9v0.87h-0.9zM565.05,567.09h0.95v0.77h-0.95zM611.65,569.98h0.85v0.49h-0.85zM551.39,568.23h0.87v0.9h-0.87zM573.8,571.93h0.65v0.61h-0.65zM606.42,574.73h0.82v0.8h-0.82zM556.1,566.14h0.81v0.5h-0.81zM552.45,571.82h0.82v0.9h-0.82zM606.78,567.46h0.51v0.59h-0.51zM547.84,564.59h0.57v0.97h-0.57zM571.31,569.5h0.5v0.6h-0.5zM547.91,565.8h0.44v0.41h-0.44zM592.24,570.18h0.66v0.45h-0.66zM585.9,568.9h0.57v0.46h-0.57zM546.44,574.54h0.44v0.72h-0.44zM591.65,564.88h0.45v0.68h-0.45zM560.81,567.03h0.55v0.54h-0.55zM603.56,565.27h0.57v1h-0.57zM569.68,568.64h0.51v0.58h-0.51zM617.77,573.26h0.88v0.92h-0.88zM607.79,568.7h0.69v0.96h-0.69zM554.65,564.98h0.61v0.43h-0.61zM562.62,567.6h0.9v0.79h-0.9zM619.14,570.78h0.92v0.41h-0.92zM598.81,570.17h0.6v0.67h-0.6zM619.05,566.84h0.59v0.76h-0.59zM566.13,568.54h0.71v0.45h-0.71zM618.98,570.49h0.93v0.9h-0.93zM605.6,567.02h0.82v0.94h-0.82zM543.66,571.11h0.69v0.93h-0.69zM555.72,570.84h0.63v0.46h-0.63zM607.41,574.43h0.48v0.6h-0.48zM578.8,565.86h0.68v0.88h-0.68zM585.8,570.25h0.82v0.94h-0.82zM593.81,567.69h0.79v0.41h-0.79zM548.72,569.94h0.94v0.94h-0.94zM592.66,569.13h0.5v0.73h-0.5zM577.83,569.72h0.86v0.99h-0.86zM607.27,567.8h0.98v0.6h-0.98zM551.07,570.27h0.81v0.88h-0.81zM566.83,568.82h0.62v0.4h-0.62zM560.33,572.55h0.84v0.79h-0.84zM561.85,566.94h0.94v0.54h-0.94zM611.68,569.84h0.46v0.72h-0.46zM600.74,564.98h0.71v0.73h-0.71zM601.53,569.55h0.66v0.98h-0.66zM570.58,571.17h0.57v0.87h-0.57zM570.3,569.34h0.4v0.48h-0.4zM573.48,571.37h0.43v0.79h-0.43zM572.87,563.3h0.9v0.58h-0.9zM620.32,564.09h0.69v0.99h-0.69zM619.65,571.46h0.45v0.58h-0.45zM558.5,566.19h0.85v0.71h-0.85zM614.75,566.89h0.57v0.93h-0.57zM606.05,567.71h0.62v0.4h-0.62zM605.69,572.27h0.72v0.97h-0.72zM567.84,569.02h0.5v0.89h-0.5zM588.56,569.7h0.49v0.69h-0.49zM600.48,572.45h0.99v0.7h-0.99zM568.65,567.54h0.99v0.42h-0.99zM562,569.02h0.93v0.41h-0.93zM614.58,564.93h0.82v0.71h-0.82zM549.64,568.15h0.57v0.5h-0.57zM553.56,575.93h0.94v0.74h-0.94zM616.47,571.36h0.74v0.52h-0.74zM551.53,568.98h0.47v0.96h-0.47zM601.4,564.66h0.71v0.4h-0.71zM546.76,567.55h0.48v0.96h-0.48zM564.64,567.29h0.45v0.95h-0.45zM595.71,573.26h0.45v0.84h-0.45zM581.57,571.05h0.61v0.96h-0.61zM564.14,563.43h0.66v0.74h-0.66zM551.97,565h0.49v0.48h-0.49zM593.52,571.24h0.47v0.9h-0.47zM596.64,566.06h0.51v0.55h-0.51zM559.03,572.66h0.85v0.74h-0.85zM590.47,570.89h0.57v0.5h-0.57zM577.51,569.3h0.96v0.8h-0.96zM563.3,570.15h0.61v0.97h-0.61zM595.87,570.61h0.68v0.49h-0.68zM575.85,569.83h0.7v0.82h-0.7zM568.81,570.24h0.67v0.99h-0.67zM567.64,571.09h0.52v0.95h-0.52zM580.15,570.08h0.84v0.99h-0.84zM558.24,570.44h0.88v0.42h-0.88zM604.58,572.97h0.5v0.75h-0.5zM557.34,572.15h0.74v0.47h-0.74zM614.24,571.52h0.68v0.96h-0.68zM598.73,569.1h0.75v0.64h-0.75zM571.53,566.23h0.49v0.41h-0.49zM558.54,570.13h0.76v0.96h-0.76zM599.78,568.08h0.56v0.78h-0.56zM573.04,567.77h0.53v0.63h-0.53zM595.08,569.72h0.61v0.46h-0.61zM581.21,567.24h0.64v0.94h-0.64zM605.23,572.77h0.51v0.89h-0.51zM548.27,566.77h0.86v0.68h-0.86zM591.39,571.54h0.93v0.95h-0.93zM559.75,576.03h0.82v0.42h-0.82zM585.39,569.01h0.73v0.57h-0.73zM581,569.55h0.41v0.85h-0.41z" fill="#000"/>
<path d="M622.12,577.3 L622.12,576.59 L623.61,576.58 L625.09,576.57 L626.57,576.55 L628.04,576.52 L629.52,576.48 L631,576.42 L632.49,576.35 L633.97,576.25 L635.45,576.12 L636.92,575.97 L638.4,575.8 L639.88,575.6 L641.37,575.39 L642.85,575.17 L644.33,574.94 L645.8,574.72 L647.28,574.51 L648.76,574.32 L650.25,574.16 L651.73,574.03 L653.21,573.93 L654.68,573.86 L656.16,573.82 L657.64,573.8 L659.12,573.8 L660.61,573.8 L662.09,573.82 L663.57,573.86 L665.04,573.93 L666.52,574.03 L668,574.16 L669.49,574.32 L670.97,574.51 L672.45,574.72 L673.92,574.94 L675.4,575.17 L676.88,575.39 L678.37,575.6 L679.85,575.8 L681.33,575.97 L682.8,576.12 L684.28,576.25 L685.76,576.35 L687.25,576.42 L688.73,576.48 L690.21,576.52 L691.68,576.55 L693.16,576.57 L694.64,576.58 L696.12,576.59 L696.12,577.3 Z" fill="#000"/>
<rect x="621.12" y="576.5" width="76" height="0.8" fill="#000"/>
<path d="M644.6,573.78h0.42v0.81h-0.42zM695.56,564.14h0.77v0.57h-0.77zM633.17,565.37h0.82v0.74h-0.82zM639.56,567.78h0.67v0.78h-0.67zM691.36,570.89h0.89v0.89h-0.89zM655.79,566.91h0.59v0.66h-0.59zM638.5,567.02h0.94v0.67h-0.94zM632.25,571.87h0.65v0.56h-0.65zM679.25,560.73h0.89v0.94h-0.89zM628.67,556.94h0.67v0.49h-0.67zM625.65,562.51h0.48v0.67h-0.48zM653.24,560.22h0.79v0.93h-0.79zM686.26,564.32h0.95v0.88h-0.95zM656.66,567.63h0.88v0.89h-0.88zM687.9,560.1h0.85v0.78h-0.85zM623.31,568.46h0.71v0.61h-0.71zM628.64,563.79h0.87v0.65h-0.87zM631.57,572.37h0.87v0.91h-0.87zM635.63,569.1h0.76v0.93h-0.76zM627.88,562.87h0.85v0.55h-0.85zM634.95,575.5h0.93v0.84h-0.93zM625.65,565.62h0.6v0.78h-0.6zM686.42,568.17h0.55v0.94h-0.55zM679.07,567.05h0.79v0.48h-0.79zM675.82,561.47h0.66v0.92h-0.66zM683.18,563.22h0.82v0.97h-0.82zM652.8,566.18h0.52v0.9h-0.52zM674.84,560.44h0.45v0.78h-0.45zM628.16,560.64h0.44v0.97h-0.44zM622.93,570.53h0.82v0.45h-0.82zM631.23,571.9h0.97v0.96h-0.97zM623.29,567.79h0.52v0.95h-0.52zM696.76,556.4h0.79v0.83h-0.79zM647.71,571.54h0.94v0.51h-0.94zM643.88,569.15h0.54v0.42h-0.54zM628.26,567.77h0.91v0.63h-0.91zM629.37,558.83h1v0.86h-1zM639.42,573.29h0.92v0.57h-0.92zM645.41,570.49h0.91v0.5h-0.91zM645.84,571.21h0.84v0.97h-0.84zM633.56,571.99h0.45v0.78h-0.45zM689.6,570.18h0.64v0.73h-0.64zM676.55,566.12h0.78v0.76h-0.78zM659.75,566.92h0.65v0.48h-0.65zM673.64,569.56h0.61v0.84h-0.61zM625.14,562.61h0.94v0.57h-0.94zM659.58,571.99h0.49v0.46h-0.49zM635.38,563.95h0.53v0.5h-0.53zM657.72,565.62h0.89v0.71h-0.89zM637.86,565.9h0.68v0.6h-0.68zM685.54,563.33h0.46v0.89h-0.46zM656.72,571.95h0.88v0.58h-0.88zM635.25,567.18h0.82v0.84h-0.82zM654.76,561.18h0.89v0.65h-0.89zM652.3,572.36h0.79v0.89h-0.79zM639.13,560.71h0.48v0.66h-0.48zM671.07,566.76h0.43v0.92h-0.43zM623.95,567.37h0.63v0.65h-0.63zM682.07,564.06h0.6v0.92h-0.6zM625.37,561.76h0.59v0.77h-0.59zM633.47,565.62h0.72v0.9h-0.72zM651.01,564.09h0.91v0.93h-0.91zM672.64,562.65h0.69v0.68h-0.69zM695.68,569.01h0.9v0.97h-0.9zM668.35,559.15h0.76v0.44h-0.76zM674.14,567.28h0.63v0.87h-0.63zM682.34,571.51h0.53v0.68h-0.53zM667.68,563.94h0.91v0.87h-0.91zM662.76,567.2h0.77v0.9h-0.77zM638.66,569.41h0.84v0.89h-0.84zM651.47,569.84h0.57v0.75h-0.57zM681.47,568.37h0.76v0.54h-0.76zM634.9,564.77h0.65v0.82h-0.65zM651.06,559.69h0.71v0.66h-0.71zM690.77,571.55h0.51v0.62h-0.51zM676.91,561.09h0.54v0.83h-0.54zM632.6,562.72h0.41v0.99h-0.41zM671.03,571.63h0.56v0.98h-0.56zM681.63,574.8h0.83v0.43h-0.83zM691.53,567.14h0.78v0.48h-0.78zM687.77,564.98h0.59v0.96h-0.59zM639.98,563.25h0.49v0.68h-0.49zM631.87,564.24h0.75v0.41h-0.75zM634.79,570.75h0.52v0.8h-0.52zM684.13,571.29h0.66v0.71h-0.66zM646.87,570.38h0.48v0.73h-0.48zM689.43,559.71h0.74v0.54h-0.74zM631.07,564.99h0.76v0.64h-0.76zM635.94,571.25h0.94v0.55h-0.94zM671.76,565.47h0.84v0.78h-0.84zM667.52,562.3h0.87v0.7h-0.87zM666.72,570.1h0.57v0.91h-0.57zM668.91,566.25h0.52v0.55h-0.52zM639.83,566.41h0.66v0.72h-0.66zM657.8,564.18h0.59v0.9h-0.59zM662.96,562.72h0.47v0.92h-0.47zM683.3,560.05h0.6v0.4h-0.6zM666.63,565.3h0.99v0.6h-0.99zM679.22,563.21h0.65v0.83h-0.65zM691.43,574.45h0.79v0.74h-0.79zM635.61,572.41h0.48v0.6h-0.48zM691.61,566.15h0.74v0.77h-0.74zM655.52,567.13h0.84v0.56h-0.84zM652.73,567.25h0.42v0.76h-0.42zM638.6,566.54h0.86v0.98h-0.86zM693.3,565.94h0.54v0.58h-0.54zM647.19,565.02h0.56v0.73h-0.56zM638.09,564.69h0.56v0.47h-0.56zM695.01,569.9h0.72v0.9h-0.72zM691.46,561.62h0.61v0.65h-0.61zM635.78,559.53h0.89v0.63h-0.89zM680.29,568h0.73v0.6h-0.73zM660.43,563.31h0.46v0.41h-0.46zM647.76,564.57h0.77v0.96h-0.77zM645.6,570.91h0.53v0.97h-0.53zM634.98,568.64h0.52v0.54h-0.52zM659.68,567.32h0.58v0.5h-0.58zM651.84,567.41h0.54v0.77h-0.54zM660.84,559.29h0.76v0.43h-0.76zM622.25,570.14h0.49v0.64h-0.49zM685.41,568.92h0.83v0.91h-0.83zM691.41,562.29h0.95v0.86h-0.95zM678.69,572.36h0.63v0.62h-0.63zM667.81,563.15h0.57v0.88h-0.57zM628.82,565.27h0.41v0.8h-0.41zM695.18,564.19h0.63v0.59h-0.63zM669.85,564.2h0.41v0.54h-0.41zM695.36,570.97h0.41v0.45h-0.41zM673.75,569.71h0.51v0.5h-0.51zM640.47,570.46h0.58v0.82h-0.58zM628.84,572.53h0.9v0.58h-0.9zM632.19,560.94h0.6v0.88h-0.6zM683.5,567.88h0.56v0.69h-0.56zM665.95,572.83h0.91v0.63h-0.91zM642.02,568.75h0.57v0.43h-0.57zM689.12,560.33h0.73v1h-0.73zM633.53,569.43h0.91v0.83h-0.91zM632.88,574.84h0.67v0.89h-0.67zM670.61,566.19h0.47v0.53h-0.47zM679.23,560.73h0.71v0.95h-0.71zM688.67,562.58h0.8v0.68h-0.8zM694.17,571.08h0.66v0.44h-0.66zM667.11,560.89h0.99v0.78h-0.99zM672.38,566.99h0.88v0.92h-0.88zM667.61,561.08h0.52v0.7h-0.52zM682.84,571.12h0.69v0.6h-0.69zM627.25,564.4h0.44v0.94h-0.44zM691.86,567.35h0.44v0.7h-0.44zM629.84,573.4h0.71v0.76h-0.71zM680.19,566.41h0.75v0.93h-0.75zM659.91,568.59h0.9v0.44h-0.9zM662.78,560.84h0.98v0.57h-0.98zM664.33,562.71h0.54v0.42h-0.54zM663.57,566.64h0.53v0.94h-0.53zM622.42,566.7h0.54v0.54h-0.54zM673.48,562.89h0.61v0.88h-0.61zM681.36,565.35h0.95v0.49h-0.95zM694.35,559.72h0.78v0.42h-0.78zM628.56,559.62h0.43v0.74h-0.43zM696.85,566.65h0.48v0.49h-0.48zM620.76,575.73h0.47v0.95h-0.47zM676.06,571.2h0.66v0.5h-0.66zM664.99,570.84h0.67v0.46h-0.67zM695.38,575.87h0.83v0.97h-0.83zM652.12,573.58h0.83v0.57h-0.83zM656.48,572.7h0.48v0.73h-0.48zM682.64,567.81h0.97v0.59h-0.97zM620.63,571.07h0.73v0.67h-0.73zM658.09,570.09h0.93v0.43h-0.93zM664.44,568.06h0.7v0.96h-0.7zM688.42,566.13h0.59v0.44h-0.59zM690.63,569.94h0.91v0.66h-0.91zM693.98,567.65h0.47v0.97h-0.47zM643.37,567.38h0.43v0.7h-0.43zM646.82,560.39h0.89v0.9h-0.89zM656.97,566.72h0.53v0.57h-0.53zM681.03,561.7h0.48v0.82h-0.48zM676.08,571.86h0.84v0.41h-0.84zM664.36,564.23h0.78v0.95h-0.78zM665.26,566.07h0.86v0.43h-0.86zM622.54,557.59h0.55v0.92h-0.55zM678.27,567.18h0.7v0.91h-0.7zM638.94,569.96h0.54v0.82h-0.54zM679.23,571.66h0.5v0.52h-0.5zM693.23,573.74h0.66v0.87h-0.66zM665.59,564.71h0.65v0.83h-0.65zM692.64,566.17h0.68v0.47h-0.68zM686.8,562.15h0.75v0.76h-0.75zM648.21,559.4h0.58v0.71h-0.58zM694,565.19h0.84v0.53h-0.84zM652.51,567.95h0.91v0.71h-0.91zM654.53,567.23h0.72v0.83h-0.72zM658.28,564.62h0.67v0.95h-0.67zM667.62,563.62h0.59v0.93h-0.59zM672.67,563.39h0.96v0.86h-0.96zM675.35,563.03h0.54v0.74h-0.54zM672.48,571.99h0.77v0.78h-0.77zM634.1,566.23h0.68v0.6h-0.68zM666.55,566.85h0.89v0.56h-0.89zM678.31,562.15h0.66v0.83h-0.66z" fill="#000"/>
<path d="M188.65,602.8 A10.7,10.7 0 1 1 205,602.8 Z" fill="#000"/>
<path d="M183.33,601.4 L210.33,601.4 L208.33,602.8 L185.33,602.8 Z" fill="#000"/>
<circle cx="196.83" cy="596.2" r="0.9" fill="#fff"/>
<path d="M262.38,602.8 L262.38,602.8 L262.95,597.63 L263.52,595.61 L264.1,594.14 L264.68,592.98 L265.25,592.02 L265.82,591.2 L266.4,590.51 L266.98,589.91 L267.55,589.4 L268.12,588.96 L268.7,588.59 L269.27,588.27 L269.85,588.01 L270.43,587.79 L271,587.62 L271.57,587.49 L272.15,587.4 L272.73,587.34 L273.3,587.31 L273.88,587.3 L274.45,587.31 L275.02,587.34 L275.6,587.4 L276.18,587.49 L276.75,587.62 L277.32,587.79 L277.9,588.01 L278.48,588.27 L279.05,588.59 L279.62,588.96 L280.2,589.4 L280.77,589.91 L281.35,590.51 L281.93,591.2 L282.5,592.02 L283.07,592.98 L283.65,594.14 L284.23,595.61 L284.8,597.63 L285.38,602.8 L285.38,602.8 Z" fill="#000"/>
<path d="M254.38,602.8 L293.38,602.8 L296.38,598.2 L296.88,597.4 L293.88,598.5 L253.88,598.5 L250.88,597.4 L251.38,598.2 Z" fill="#000"/>
<ellipse cx="259.38" cy="600.4" rx="2.8" ry="0.6" fill="#fff"/>
<ellipse cx="288.38" cy="600.4" rx="2.8" ry="0.6" fill="#fff"/>
<path d="M291.81,597.03h0.91v0.64h-0.91zM293.34,596.7h0.69v0.74h-0.69zM287.68,597.43h0.85v0.83h-0.85zM295.57,596.64h0.51v0.79h-0.51zM289.95,598.03h0.94v0.56h-0.94zM260.21,596.37h0.51v0.68h-0.51zM259.62,597.69h0.89v0.93h-0.89zM294.42,598.28h0.59v0.53h-0.59zM293.28,598.78h0.94v0.82h-0.94zM254.43,598.71h0.99v0.69h-0.99zM252.11,598.57h0.49v0.46h-0.49zM258,597.22h0.45v0.94h-0.45zM294.46,598.42h0.81v0.76h-0.81zM250.53,597.05h0.52v0.64h-0.52z" fill="#000"/>
<path d="M339.12,602.8 L339.12,602.8 L339.71,598.55 L340.3,596.89 L340.89,595.67 L341.48,594.7 L342.07,593.9 L342.66,593.21 L343.25,592.63 L343.84,592.12 L344.43,591.68 L345.02,591.3 L345.61,590.98 L346.2,590.7 L346.79,590.46 L347.38,590.27 L347.97,590.11 L348.56,589.99 L349.15,589.9 L349.74,589.84 L350.33,589.81 L350.92,589.8 L351.51,589.81 L352.1,589.84 L352.69,589.9 L353.28,589.99 L353.87,590.11 L354.46,590.27 L355.05,590.46 L355.64,590.7 L356.23,590.98 L356.82,591.3 L357.41,591.68 L358,592.12 L358.59,592.63 L359.18,593.21 L359.77,593.9 L360.36,594.7 L360.95,595.67 L361.54,596.89 L362.13,598.55 L362.72,602.8 L362.72,602.8 Z" fill="#000"/>
<path d="M329.92,602.8 L371.92,602.8 L377.42,598.4 L377.92,597.6 L374.92,598.7 L326.92,598.7 L323.92,597.6 L324.42,598.4 Z" fill="#000"/>
<ellipse cx="334.22" cy="600.3" rx="3.5" ry="0.65" fill="#fff"/>
<ellipse cx="367.62" cy="600.3" rx="3.5" ry="0.65" fill="#fff"/>
<path d="M335.27,596.46h0.55v0.98h-0.55zM369.76,598.6h0.71v0.43h-0.71zM366.14,595.86h0.87v0.71h-0.87zM322.8,596.58h0.9v0.98h-0.9zM327.86,597.34h0.54v0.58h-0.54zM324.51,597.06h0.64v0.52h-0.64zM368.48,595.67h0.99v0.8h-0.99zM325.67,596.2h0.87v0.92h-0.87zM329.1,598.75h0.87v0.96h-0.87zM323.57,597.81h0.9v0.61h-0.9zM370.38,598.75h0.53v0.69h-0.53zM325.91,597.35h0.52v0.77h-0.52zM334.78,597.93h0.96v0.53h-0.96zM377.27,598.01h0.43v0.62h-0.43zM322.77,594.95h0.53v0.68h-0.53zM376.31,595.13h0.63v0.89h-0.63zM371.53,595.74h0.63v0.9h-0.63zM328.87,596.91h0.62v0.64h-0.62zM367.06,595.18h0.51v0.94h-0.51zM328.17,598.18h0.59v0.96h-0.59zM374.52,595.48h0.43v0.51h-0.43zM327.03,594.94h0.58v0.5h-0.58zM324.32,596.65h0.94v0.84h-0.94zM365.61,597.69h0.93v0.4h-0.93zM336.56,598.34h0.65v0.62h-0.65zM324.49,596.07h0.85v0.93h-0.85zM366.83,597.93h0.91v0.49h-0.91zM370.65,598.33h0.52v0.55h-0.52zM373.94,598.45h0.57v0.96h-0.57zM324,596.87h0.65v0.62h-0.65zM321.79,594.87h0.88v0.91h-0.88zM368.69,597.28h0.9v0.64h-0.9zM328.48,597.29h0.63v0.78h-0.63zM332.02,595.08h0.99v0.93h-0.99zM368.58,596.4h0.92v0.69h-0.92zM324.87,596.79h0.88v0.89h-0.88zM369.61,598.1h0.77v0.74h-0.77zM365.48,598.56h0.51v0.69h-0.51zM375.26,595.84h0.87v0.62h-0.87zM368.58,596.23h0.77v0.57h-0.77z" fill="#000"/>
<path d="M405.98,602.8 L405.98,602.05 L406.86,602.02 L407.74,601.97 L408.62,601.89 L409.5,601.78 L410.38,601.61 L411.25,601.39 L412.14,601.1 L413.02,600.72 L413.9,600.26 L414.78,599.71 L415.66,599.08 L416.54,598.37 L417.42,597.61 L418.3,596.82 L419.18,596.03 L420.06,595.26 L420.94,594.54 L421.81,593.89 L422.7,593.34 L423.58,592.89 L424.46,592.55 L425.34,592.32 L426.22,592.18 L427.1,592.11 L427.98,592.1 L428.86,592.11 L429.74,592.18 L430.62,592.32 L431.5,592.55 L432.38,592.89 L433.25,593.34 L434.14,593.89 L435.02,594.54 L435.9,595.26 L436.78,596.03 L437.66,596.82 L438.54,597.61 L439.42,598.37 L440.3,599.08 L441.18,599.71 L442.06,600.26 L442.94,600.72 L443.82,601.1 L444.7,601.39 L445.58,601.61 L446.46,601.78 L447.34,601.89 L448.22,601.97 L449.1,602.02 L449.98,602.05 L449.98,602.8 Z" fill="#000"/>
<rect x="397.98" y="602" width="60" height="0.8" fill="#000"/>
<path d="M415.98,602.8 L402.48,602.8 L394.48,597.6 L395.98,597 L401.98,599.8 L409.98,600.6 L415.98,601.6 Z" fill="#000"/>
<path d="M439.98,602.8 L453.48,602.8 L461.48,597.6 L459.98,597 L453.98,599.8 L445.98,600.6 L439.98,601.6 Z" fill="#000"/>
<ellipse cx="406.98" cy="601.5" rx="3" ry="0.5" fill="#fff"/>
<ellipse cx="448.98" cy="601.5" rx="3" ry="0.5" fill="#fff"/>
<path d="M400.84,596.95h1.07v0.55h-1.07zM405.53,601.04h0.71v1.09h-0.71zM403.85,595.06h0.99v1.08h-0.99zM462.24,595.94h0.67v0.72h-0.67zM401.15,598.47h0.66v0.78h-0.66zM393.28,595.84h0.53v0.8h-0.53zM394.56,600.3h0.41v0.4h-0.41zM403.27,598.94h1.03v1.08h-1.03zM448.3,597.9h0.42v0.47h-0.42zM462.12,598.23h0.64v0.97h-0.64zM402.12,596.85h0.84v0.6h-0.84zM399.13,600.91h0.92v0.46h-0.92zM408.75,598.16h0.56v0.69h-0.56zM460.1,596.5h0.44v0.82h-0.44zM454.49,594.95h0.43v0.51h-0.43zM457.98,596.09h0.94v0.51h-0.94zM405.9,601.3h0.46v1.05h-0.46zM395.57,600.33h0.76v0.94h-0.76zM462.28,601.25h0.51v0.87h-0.51zM395.19,598.4h0.99v0.82h-0.99zM396.95,597.15h0.87v0.77h-0.87zM398.47,594.61h0.9v0.58h-0.9zM461.38,596.98h0.75v0.41h-0.75zM396.33,598.28h0.91v0.5h-0.91zM447.62,600.46h0.84v0.67h-0.84zM404.57,599.44h0.45v0.97h-0.45zM400.07,597.1h0.42v1.09h-0.42zM394.49,597.02h0.67v1.03h-0.67zM459.56,598.57h0.51v0.65h-0.51zM397.83,594.17h0.53v0.79h-0.53zM405.6,599.05h0.44v0.97h-0.44zM462.46,599.49h0.72v0.79h-0.72zM462.31,595.28h1.03v0.82h-1.03zM396.01,597.85h0.95v0.55h-0.95zM396.01,599.86h1.09v0.93h-1.09zM401.97,597.74h0.9v1.09h-0.9zM396.94,601.07h1.09v0.8h-1.09zM397.02,598.5h1.01v0.42h-1.01zM397.17,597.62h1.03v1.02h-1.03zM396.52,594.42h0.81v0.51h-0.81zM453.63,599.63h0.6v0.77h-0.6zM451.37,596.62h1.07v0.95h-1.07zM403.92,598.23h0.82v0.41h-0.82zM446.57,599.44h1.04v1.06h-1.04zM448.7,600.16h1v0.42h-1zM449.47,599.18h0.58v0.6h-0.58zM455.04,594.17h0.76v0.45h-0.76zM397.92,599.97h0.83v0.63h-0.83zM400.81,596.23h0.66v0.72h-0.66zM408.48,599.1h0.53v0.65h-0.53zM461.57,594.67h0.86v0.56h-0.86zM449.37,596.8h1.03v0.71h-1.03zM399.45,596.79h1.06v0.61h-1.06zM461.32,600.61h0.51v1.07h-0.51zM461.49,598.33h0.93v1.04h-0.93zM450.08,601.18h0.76v0.72h-0.76zM458.44,594.1h0.81v0.63h-0.81zM453.89,599.31h1.08v0.59h-1.08zM403.39,597.2h0.99v0.61h-0.99zM451.09,597.65h0.6v0.76h-0.6zM446.44,598.27h0.45v0.54h-0.45zM402.12,596.66h0.46v0.46h-0.46zM447.56,599.06h0.64v0.73h-0.64zM462.7,595.64h0.48v0.75h-0.48zM393.79,601.11h0.62v1.09h-0.62zM448.7,599.29h1.1v1.02h-1.1zM452.28,598.06h0.55v0.88h-0.55zM395.86,594.32h1.02v0.51h-1.02zM395.7,595.64h0.84v0.53h-0.84zM401.36,596.53h0.65v1.04h-0.65zM451.92,598.02h0.85v0.41h-0.85zM452.53,596.28h1.08v0.53h-1.08zM398.72,600.27h0.89v0.81h-0.89zM456.8,593.86h0.98v0.48h-0.98zM459.49,594.34h0.43v0.5h-0.43zM394.7,596.05h0.84v1.02h-0.84zM407.36,600.28h0.47v0.56h-0.47zM446.77,600.24h1.04v0.59h-1.04zM394.44,600.06h0.7v0.94h-0.7zM403.66,596.46h0.65v0.51h-0.65zM458.75,599.61h0.59v0.62h-0.59zM406.95,600.36h0.55v0.82h-0.55zM408.89,599.47h0.7v0.98h-0.7zM410.41,601.18h0.7v0.63h-0.7zM402.45,601.1h0.95v0.88h-0.95zM404.57,594.54h0.63v0.8h-0.63zM399.72,598.09h0.48v0.47h-0.48zM460.2,600.65h1.01v0.65h-1.01zM458.03,600.21h0.51v0.85h-0.51zM452.01,597.35h0.7v0.56h-0.7zM454.39,594.57h0.89v0.45h-0.89zM407.65,599.49h0.62v0.82h-0.62zM458.57,599.25h0.77v0.6h-0.77zM455.02,598.6h0.41v0.62h-0.41zM404.56,595.69h0.61v1.1h-0.61zM450.37,598.28h1.02v0.43h-1.02zM393.97,601.05h0.42v0.41h-0.42zM400.99,600.03h0.96v0.68h-0.96zM409.39,600.26h0.7v1.07h-0.7zM404.6,598.48h1.09v0.51h-1.09zM462.17,594.79h0.6v0.81h-0.6zM451.63,595.79h0.69v0.59h-0.69zM455.16,600.68h0.9v1.1h-0.9zM402.74,594.71h0.92v1.04h-0.92zM408.95,600.38h0.74v0.56h-0.74zM452.17,594.96h0.8v0.43h-0.8zM405.6,597.27h0.57v0.63h-0.57zM462.66,594.85h0.44v0.98h-0.44zM452.28,594.16h0.56v0.41h-0.56zM455.59,600.67h0.56v0.96h-0.56zM406.22,599.56h0.68v0.52h-0.68zM394.35,594.25h0.92v0.63h-0.92zM404.25,594.82h0.9v0.53h-0.9zM402.52,598.8h1.1v0.61h-1.1zM405.71,596.27h0.79v0.57h-0.79zM400.71,594.15h1.01v0.75h-1.01zM456.17,594.51h1v0.66h-1zM406.67,598.32h0.82v0.69h-0.82zM401.22,594.48h0.8v0.74h-0.8zM460.34,594.95h0.55v0.64h-0.55zM400.15,599.33h1.03v0.88h-1.03zM457.52,595.46h0.48v0.48h-0.48zM450.66,596.36h0.94v0.87h-0.94zM460.75,595.12h1.06v1.08h-1.06zM447.51,598.45h0.47v0.4h-0.47zM462,594.42h1.07v0.72h-1.07zM461.57,601.17h0.45v0.93h-0.45zM458.09,598.3h0.81v0.53h-0.81zM395.15,594.38h0.67v0.67h-0.67zM401.76,595.76h1.04v1.07h-1.04zM393.3,599.31h0.54v0.7h-0.54zM403.75,597.13h0.74v1.08h-0.74zM460.87,596.08h0.81v0.64h-0.81zM406.68,600.83h0.95v0.76h-0.95zM453.64,600.69h0.43v0.73h-0.43zM408.65,600.84h0.75v0.55h-0.75zM447.96,600.37h0.62v1.07h-0.62zM458.42,600.98h0.94v0.71h-0.94zM453.96,596.97h1.05v0.56h-1.05zM454.42,594.09h0.98v0.75h-0.98zM446.44,599.66h1.09v0.49h-1.09zM410.45,600.67h0.72v0.98h-0.72zM461.33,601.24h0.61v0.88h-0.61zM451.64,596.39h0.57v0.63h-0.57zM406.82,597.78h0.41v0.68h-0.41zM395.8,597.18h0.71v0.83h-0.71zM453.53,601.03h0.69v0.95h-0.69zM398.71,594.09h0.77v0.64h-0.77zM460.43,594.61h1.01v0.62h-1.01zM452.02,595.75h0.51v0.81h-0.51z" fill="#000"/>
<path d="M478.02,602.8 L478.02,602.07 L479.1,602.05 L480.19,602.01 L481.26,601.96 L482.34,601.87 L483.42,601.76 L484.5,601.6 L485.58,601.38 L486.66,601.11 L487.75,600.77 L488.82,600.36 L489.9,599.89 L490.98,599.36 L492.06,598.79 L493.14,598.19 L494.22,597.59 L495.3,597.01 L496.38,596.46 L497.46,595.97 L498.54,595.55 L499.62,595.2 L500.7,594.94 L501.78,594.77 L502.86,594.66 L503.94,594.61 L505.02,594.6 L506.1,594.61 L507.19,594.66 L508.26,594.77 L509.34,594.94 L510.42,595.2 L511.5,595.55 L512.59,595.97 L513.66,596.46 L514.75,597.01 L515.82,597.59 L516.9,598.19 L517.99,598.79 L519.06,599.36 L520.14,599.89 L521.23,600.36 L522.3,600.77 L523.38,601.11 L524.46,601.38 L525.54,601.6 L526.62,601.76 L527.7,601.87 L528.78,601.96 L529.87,602.01 L530.94,602.05 L532.02,602.07 L532.02,602.8 Z" fill="#000"/>
<rect x="475.02" y="602" width="60" height="0.8" fill="#000"/>
<path d="M478.99,598.43h0.72v0.58h-0.72zM542.86,593.99h0.81v0.75h-0.81zM541.73,599.54h0.97v0.69h-0.97zM476.41,593.98h0.41v0.89h-0.41zM477.02,592.1h0.99v0.55h-0.99zM491.01,597.55h0.76v0.68h-0.76zM532.49,598.37h0.46v1.07h-0.46zM467.58,596.85h0.76v1.02h-0.76zM472.68,593.91h0.71v1h-0.71zM533.24,594.29h0.87v0.91h-0.87zM488.6,597.92h0.6v0.59h-0.6zM469.75,597h0.98v0.51h-0.98zM536.05,597.17h0.99v0.6h-0.99zM488.68,597.7h1.02v0.41h-1.02zM537.53,598.98h1.03v0.71h-1.03zM540.91,593.34h0.62v0.82h-0.62zM472.74,596.15h1.06v0.47h-1.06zM481.42,596.21h0.83v0.41h-0.83zM474.84,593h0.85v0.52h-0.85zM471.48,596.17h0.87v0.67h-0.87zM539.92,588.4h0.44v0.98h-0.44zM541.72,596.86h0.85v0.68h-0.85zM478.62,595.04h0.45v0.55h-0.45zM468.45,599.48h1.01v0.66h-1.01zM530.79,595.79h1.01v0.6h-1.01zM469.99,595.49h0.77v0.49h-0.77zM541.09,593.98h0.52v0.61h-0.52zM486.86,596.54h1v0.96h-1zM531.58,595.93h0.74v0.53h-0.74zM476.55,597.33h1.04v0.44h-1.04zM542.7,596.89h0.83v0.86h-0.83zM481.55,594.69h0.65v0.57h-0.65zM531.26,599.27h0.46v0.55h-0.46zM511.43,593.44h0.72v1.07h-0.72zM510,594.54h0.51v0.85h-0.51zM488.64,593.74h1.03v0.98h-1.03zM478.24,598.9h1.07v0.55h-1.07zM469.49,597.98h0.93v0.53h-0.93zM470.15,595.35h0.65v0.4h-0.65zM534.65,593.67h0.8v0.99h-0.8zM482.74,601h0.6v0.99h-0.6zM481.5,593.85h1.03v0.82h-1.03zM482.36,597.69h0.84v0.79h-0.84zM472.3,596.54h0.67v1.03h-0.67zM475.89,600.39h0.82v0.87h-0.82zM541.6,597.08h0.8v0.52h-0.8zM524.39,590.09h0.6v0.84h-0.6zM469.07,598.15h0.79v1.07h-0.79zM517.73,597.93h0.92v0.48h-0.92zM538.23,598.72h1.05v0.52h-1.05zM535.16,593.77h0.52v1.07h-0.52zM468.17,592.33h0.62v0.59h-0.62zM470.13,591.44h0.79v1.09h-0.79zM534.36,596.88h0.76v0.41h-0.76zM467.22,598.21h0.88v0.71h-0.88zM476.04,597.15h0.89v0.77h-0.89zM472.23,598.37h0.43v0.77h-0.43zM539.83,595.13h0.55v0.59h-0.55zM495.96,592.26h1.05v0.73h-1.05zM527.55,595.35h0.46v0.75h-0.46zM538.24,596.83h0.9v0.8h-0.9zM467.28,596.87h1.07v0.59h-1.07zM471.86,595.27h0.74v0.84h-0.74zM478.42,596.93h0.77v0.55h-0.77zM476.63,590.68h0.99v0.49h-0.99zM535.97,593.19h0.41v0.56h-0.41zM477.1,590.44h1.03v0.7h-1.03zM502.42,591.04h0.82v0.6h-0.82zM486.07,594.16h0.68v0.71h-0.68zM516.84,591.69h0.45v0.64h-0.45zM504.34,594.14h0.96v0.67h-0.96zM539.57,597.48h0.5v0.55h-0.5zM533.91,593.85h1.07v0.7h-1.07zM538.41,594.24h1.07v0.63h-1.07zM471.8,592.57h0.52v0.74h-0.52zM533.34,601.04h0.92v0.48h-0.92zM482.08,597.76h0.53v0.95h-0.53zM480.79,595.3h1.01v0.6h-1.01zM522.79,595.74h0.86v0.89h-0.86zM486.38,592.22h0.46v0.65h-0.46zM487.85,590.54h1.05v0.47h-1.05zM477.18,595.31h0.75v0.62h-0.75zM481.28,596.5h0.81v0.42h-0.81zM485.97,598.08h0.73v0.47h-0.73zM543.35,591.14h0.98v0.55h-0.98zM473.28,594.12h0.98v0.7h-0.98zM515.1,591.39h0.99v0.89h-0.99zM543.52,598.15h1.03v1.06h-1.03zM467.3,596.51h0.87v0.75h-0.87zM540.95,590.66h1v1h-1zM488.4,593.2h0.67v0.63h-0.67zM525.17,592.2h0.63v0.72h-0.63zM543.13,597.93h1.05v0.71h-1.05zM538.5,597.64h0.52v0.7h-0.52zM470.01,596.48h0.83v0.88h-0.83zM526.13,593.91h0.82v0.73h-0.82zM522.38,595.76h0.57v0.41h-0.57zM474.76,601.21h1.08v1.07h-1.08zM467.5,599.08h0.57v0.56h-0.57zM472.64,596.19h0.79v0.51h-0.79zM494.65,592.83h0.56v0.64h-0.56zM530.94,590.44h0.92v0.52h-0.92zM530.4,600h0.84v0.51h-0.84zM539.65,596.74h0.51v0.55h-0.51zM524.59,591.03h1.02v1.08h-1.02zM531.5,592.39h0.49v0.46h-0.49zM474.82,595.07h0.54v0.47h-0.54zM477.13,592.57h0.92v0.83h-0.92zM486.23,597.12h1.02v0.63h-1.02zM496.06,591.67h0.56v1.08h-0.56zM483.94,593.82h0.97v1.01h-0.97zM471.11,597.32h0.68v0.45h-0.68zM532.61,595.6h0.8v1.03h-0.8zM474.03,599.07h0.85v1.02h-0.85zM500.88,594.11h1.06v0.56h-1.06zM487.66,597.97h0.7v0.51h-0.7zM470.02,595.02h0.72v0.74h-0.72zM533.12,594.48h1.07v0.69h-1.07zM475.69,592.21h0.46v1.05h-0.46zM538.48,593.79h0.63v0.81h-0.63zM523.19,591.94h1.01v0.49h-1.01zM493.67,596.68h0.51v0.69h-0.51zM472.28,597.39h1.07v1h-1.07zM524.56,600.01h0.92v0.65h-0.92zM477.31,597.55h0.47v0.65h-0.47zM541.44,596.53h0.51v1h-0.51zM539.45,594.98h0.43v0.44h-0.43zM474.21,591.25h0.98v0.57h-0.98zM472.67,596.68h0.88v0.72h-0.88zM543.34,592.77h0.71v0.78h-0.71zM537.97,595.59h0.75v0.79h-0.75zM532.07,595.42h0.77v0.83h-0.77zM475.1,593.37h0.97v0.55h-0.97zM517.47,596.19h0.81v0.99h-0.81zM541.13,596.67h0.71v0.95h-0.71zM530.11,596.32h0.78v0.72h-0.78zM531.32,600.56h0.76v0.66h-0.76zM530.11,599.7h0.93v0.57h-0.93zM472.19,597.4h0.56v0.72h-0.56zM471.08,596.7h0.71v0.91h-0.71zM467.19,593.68h1.02v0.98h-1.02zM478.38,594.74h0.71v1.1h-0.71zM496.6,587.15h0.68v0.7h-0.68zM473.36,599.8h0.64v0.78h-0.64zM516.47,589.27h0.54v0.79h-0.54zM474.12,594.14h0.69v0.88h-0.69zM487.14,597.77h1.04v0.65h-1.04zM475.85,600.06h0.67v1.09h-0.67zM530.75,593.31h0.67v0.7h-0.67zM528.25,597.02h0.93v0.82h-0.93zM468.62,598.56h0.94v0.57h-0.94zM540.03,596.24h0.49v0.61h-0.49zM540.44,595.48h0.48v0.48h-0.48zM538.28,592.69h0.62v0.62h-0.62zM523.8,589.79h1v0.67h-1zM472.33,594.01h0.76v0.81h-0.76zM482.6,593.4h0.48v0.93h-0.48zM538.6,599.84h0.46v0.44h-0.46zM537.61,599.53h0.77v0.83h-0.77zM480.23,593.53h0.85v0.94h-0.85zM528.09,590.68h0.68v1.07h-0.68zM493.53,594.33h1.1v0.53h-1.1zM504.02,593.64h0.98v0.53h-0.98zM519.79,599.36h1.05v1.05h-1.05zM524.26,594.61h0.78v0.9h-0.78zM479.98,594.17h0.76v0.58h-0.76zM486.89,596.72h1.08v0.73h-1.08zM488.71,595.81h0.48v0.61h-0.48zM468.08,600.4h1.01v1.1h-1.01zM471.55,598.15h0.54v0.96h-0.54z" fill="#000"/>
<path d="M551.07,602.8 L551.07,602.07 L552.31,602.05 L553.55,602.01 L554.79,601.96 L556.03,601.89 L557.27,601.79 L558.51,601.65 L559.75,601.48 L560.99,601.25 L562.23,600.99 L563.47,600.67 L564.71,600.31 L565.95,599.92 L567.19,599.49 L568.43,599.06 L569.67,598.62 L570.91,598.2 L572.15,597.81 L573.39,597.46 L574.63,597.16 L575.87,596.92 L577.11,596.74 L578.35,596.62 L579.59,596.54 L580.83,596.51 L582.07,596.5 L583.31,596.51 L584.55,596.54 L585.79,596.62 L587.03,596.74 L588.27,596.92 L589.51,597.16 L590.75,597.46 L591.99,597.81 L593.23,598.2 L594.47,598.62 L595.71,599.06 L596.95,599.49 L598.19,599.92 L599.43,600.31 L600.67,600.67 L601.91,600.99 L603.15,601.25 L604.39,601.48 L605.63,601.65 L606.87,601.79 L608.11,601.89 L609.35,601.96 L610.59,602.01 L611.83,602.05 L613.07,602.07 L613.07,602.8 Z" fill="#000"/>
<rect x="552.07" y="602" width="60" height="0.8" fill="#000"/>
<path d="M614.43,596.38h0.48v1.05h-0.48zM551.32,595.6h0.55v0.4h-0.55zM608.6,595.26h0.42v0.75h-0.42zM587.95,596.15h0.42v0.84h-0.42zM611.86,594.27h0.87v0.43h-0.87zM596.99,595.83h0.49v0.84h-0.49zM602.04,590.85h0.44v0.89h-0.44zM548.26,595.08h1.06v0.46h-1.06zM605.92,591.42h0.47v1.02h-0.47zM589.88,592.04h0.6v0.75h-0.6zM609.45,594.29h0.95v0.75h-0.95zM550.55,589.54h0.64v0.84h-0.64zM612.42,597.51h0.88v0.89h-0.88zM613.56,589.78h1.04v1h-1.04zM549.04,589.08h0.9v0.69h-0.9zM569.64,593.81h0.76v1.01h-0.76zM613.53,593.9h0.71v0.64h-0.71zM553.4,594.85h0.46v0.73h-0.46zM585.98,590.42h0.95v0.57h-0.95zM544.35,595.09h1.06v0.77h-1.06zM620.51,598.39h0.79v0.75h-0.79zM619.02,591.28h0.58v0.55h-0.58zM611,590.35h1.02v1.01h-1.02zM573.62,589.7h0.84v0.43h-0.84zM546.27,586.91h1v0.89h-1zM612.01,589.11h0.63v0.98h-0.63zM561.87,598.84h0.97v0.84h-0.97zM557.47,590.68h0.58v1.05h-0.58zM545.01,595.03h0.91v0.76h-0.91zM545.88,592.12h0.47v0.93h-0.47zM559.9,597.31h0.97v0.9h-0.97zM608.24,601.41h0.42v0.89h-0.42zM577.89,591.73h0.97v0.55h-0.97zM596.05,590.38h0.57v1.04h-0.57zM619.14,598.25h0.43v0.91h-0.43zM606.71,591.93h0.86v0.58h-0.86zM569.2,594.12h0.74v1.06h-0.74zM593.81,595.38h0.58v0.67h-0.58zM616.09,587.11h0.99v0.56h-0.99zM558.61,599.03h1.01v0.61h-1.01zM584.8,590.45h1.01v0.81h-1.01zM544.13,589.29h0.64v1.05h-0.64zM576.91,589.48h1v0.74h-1zM561.54,590.51h0.57v0.71h-0.57zM615.36,596.39h0.96v0.51h-0.96zM554.59,596.53h0.56v1.01h-0.56zM576.87,591.18h0.88v0.66h-0.88zM547.17,595.88h0.56v0.6h-0.56zM577.9,591.66h0.91v0.91h-0.91zM599.92,591.33h0.47v0.51h-0.47zM620.55,592.8h0.69v0.63h-0.69zM619.36,590.54h0.7v0.42h-0.7zM543.88,598.96h0.53v1.04h-0.53zM582.42,589.78h0.8v0.87h-0.8zM558.07,593.57h0.82v0.69h-0.82zM548.43,594.29h1.07v0.67h-1.07zM619.67,598.27h0.56v1.05h-0.56zM593.65,596.49h0.78v1.02h-0.78zM619.34,591.99h0.76v0.5h-0.76zM620.56,595.11h0.5v0.77h-0.5zM596.56,589.65h0.69v0.6h-0.69zM611.72,592.04h0.95v0.87h-0.95zM611.04,594.58h0.76v0.94h-0.76zM577.3,590.12h0.85v1.07h-0.85zM570.46,587.77h1.02v0.51h-1.02zM609.61,596.78h0.88v0.49h-0.88zM616.79,596.1h0.62v0.74h-0.62zM575.02,597.17h0.79v0.8h-0.79zM547.78,594.51h0.95v0.41h-0.95zM557.16,597.53h1.03v0.42h-1.03zM554.6,587.07h0.56v0.57h-0.56zM594.53,593.9h0.4v1.07h-0.4zM553.75,593.73h0.75v0.97h-0.75zM607.87,594.75h0.99v0.77h-0.99zM584.08,590.06h0.69v0.53h-0.69zM587.89,592.57h0.57v0.51h-0.57zM572.8,592.23h0.58v0.54h-0.58zM588.57,592.9h0.81v0.82h-0.81zM603.37,585.43h0.5v0.93h-0.5zM600.95,588.09h0.56v0.74h-0.56zM601.32,593.49h0.48v0.57h-0.48zM579.54,593.03h0.54v0.44h-0.54zM604.42,593.76h0.79v1.04h-0.79zM558.55,591.66h0.82v0.42h-0.82zM580.27,595.89h0.83v0.96h-0.83zM616.1,595.67h0.67v0.93h-0.67zM590.23,591.73h1.06v0.93h-1.06zM562.15,591.22h0.82v0.66h-0.82zM613.16,594.86h0.78v0.62h-0.78zM544.02,591.65h0.99v0.69h-0.99zM547.75,595.97h0.98v0.64h-0.98zM557.44,596.7h0.46v0.68h-0.46zM616.46,595.48h1.1v0.75h-1.1zM596.34,588.38h0.5v0.41h-0.5zM549.46,594.85h0.66v0.65h-0.66zM577.41,591.36h0.48v0.66h-0.48zM551.9,592.72h0.96v0.91h-0.96zM543.81,591.31h0.47v1.02h-0.47zM568.67,593.57h0.89v0.98h-0.89zM603.8,592.88h1.09v0.56h-1.09zM612.89,598.61h0.59v0.45h-0.59zM548.33,594.04h0.41v0.87h-0.41zM555.17,593.75h1.02v0.75h-1.02zM598.65,595.45h0.66v0.88h-0.66zM556.33,592.31h0.48v0.44h-0.48zM603.84,590.5h0.79v0.73h-0.79zM598.75,598.73h0.64v0.97h-0.64zM596.71,595.06h1.02v1h-1.02zM568.45,588.07h0.71v0.49h-0.71zM610.5,594h0.43v0.64h-0.43zM564.85,596.03h0.72v0.92h-0.72zM546.75,596.05h0.88v0.54h-0.88zM595.02,586.1h0.52v0.52h-0.52zM546.9,593.51h0.91v0.6h-0.91zM609.81,593.81h0.87v0.74h-0.87zM614.89,595.81h1.05v0.79h-1.05zM619.65,593.88h0.71v0.75h-0.71zM557.23,600.01h0.54v0.75h-0.54zM549.87,589.4h0.65v0.93h-0.65zM606.37,583.36h0.57v0.58h-0.57zM559.33,595.64h0.76v0.46h-0.76zM601.32,598.04h0.81v0.5h-0.81zM598.72,588.91h0.63v0.85h-0.63zM579.6,594.52h0.92v0.96h-0.92zM612.29,594.32h0.84v0.76h-0.84zM613.63,595.31h0.77v0.68h-0.77zM543.72,590.27h0.75v0.84h-0.75zM568.07,592.87h0.75v0.97h-0.75zM616.7,594.05h0.79v0.99h-0.79zM582.76,593.81h0.74v0.65h-0.74zM592.21,595.59h0.52v0.68h-0.52zM598.02,595.73h1.08v0.96h-1.08zM618.32,591.7h0.53v0.63h-0.53zM557.72,593.7h0.41v0.61h-0.41zM599.49,590.48h1.04v1.02h-1.04zM572.21,590.34h0.75v0.91h-0.75zM615.07,596.3h0.51v0.43h-0.51zM548.96,593.08h0.97v0.43h-0.97zM566.85,592.57h0.6v0.89h-0.6zM552.78,592.61h1.03v0.98h-1.03z" fill="#000"/>
<path d="M622.12,602.8 L622.12,602.09 L623.61,602.08 L625.09,602.07 L626.57,602.05 L628.04,602.02 L629.52,601.98 L631,601.92 L632.49,601.85 L633.97,601.75 L635.45,601.62 L636.92,601.47 L638.4,601.3 L639.88,601.1 L641.37,600.89 L642.85,600.67 L644.33,600.44 L645.8,600.22 L647.28,600.01 L648.76,599.82 L650.25,599.66 L651.73,599.53 L653.21,599.43 L654.68,599.36 L656.16,599.32 L657.64,599.3 L659.12,599.3 L660.61,599.3 L662.09,599.32 L663.57,599.36 L665.04,599.43 L666.52,599.53 L668,599.66 L669.49,599.82 L670.97,600.01 L672.45,600.22 L673.92,600.44 L675.4,600.67 L676.88,600.89 L678.37,601.1 L679.85,601.3 L681.33,601.47 L682.8,601.62 L684.28,601.75 L685.76,601.85 L687.25,601.92 L688.73,601.98 L690.21,602.02 L691.68,602.05 L693.16,602.07 L694.64,602.08 L696.12,602.09 L696.12,602.8 Z" fill="#000"/>
<rect x="621.12" y="602" width="76" height="0.8" fill="#000"/>
<path d="M676.43,589.59h0.95v0.5h-0.95zM628.72,588.77h0.66v0.49h-0.66zM690.41,592.1h0.96v0.46h-0.96zM634.06,591.72h0.67v0.45h-0.67zM645.92,587.25h0.88v0.49h-0.88zM676.04,592.4h0.81v0.71h-0.81zM651.84,587.71h0.7v0.8h-0.7zM651.73,590.84h0.54v0.49h-0.54zM652.9,595.52h0.41v0.93h-0.41zM641.15,595.65h0.48v0.87h-0.48zM650.37,596.46h0.87v0.96h-0.87zM687.85,588.88h0.96v0.8h-0.96zM663.25,597.43h0.85v1.05h-0.85zM660.67,596.46h1.07v0.5h-1.07zM670.25,595.37h0.58v1.02h-0.58zM639.18,595.23h0.52v0.53h-0.52zM653.14,598.04h0.98v0.73h-0.98zM672.29,593.88h0.89v1h-0.89zM686.74,595.22h1.08v0.48h-1.08zM656.91,592.26h0.46v1.1h-0.46zM636.45,591.58h0.45v0.44h-0.45zM636.47,594.58h0.7v0.69h-0.7zM689.99,584.73h0.63v0.99h-0.63zM621.59,589.52h0.72v0.46h-0.72zM692.39,590.99h0.7v0.65h-0.7zM663.29,592.96h0.46v0.52h-0.46zM671.03,593.34h1.03v1.02h-1.03zM680.52,595.74h0.83v0.53h-0.83zM651.5,591h0.75v0.77h-0.75zM656.81,589.47h0.6v1.01h-0.6zM640.73,584.44h0.69v0.82h-0.69zM665.01,593.49h0.45v1.08h-0.45zM679.19,593.86h1.09v0.55h-1.09zM627.48,586.69h1.06v0.69h-1.06zM676.33,590.41h1.08v0.86h-1.08zM622.63,601.77h0.82v0.51h-0.82zM646.64,598.57h0.69v0.64h-0.69zM671.77,599.07h0.76v0.83h-0.76zM662.52,593.52h1v0.59h-1zM650.26,594.11h0.85v0.44h-0.85zM692.58,586.92h1.02v0.4h-1.02zM620.76,585.19h0.47v1.02h-0.47zM633.63,596.34h0.49v0.97h-0.49zM661.8,599.34h1.05v0.92h-1.05zM689.41,594.45h0.76v0.74h-0.76zM674.03,585.18h0.53v0.65h-0.53zM683.1,593.05h0.49v0.98h-0.49zM629.02,597.34h0.42v0.63h-0.42zM636.35,591.8h0.41v0.8h-0.41zM664.54,595.21h0.77v1.05h-0.77zM680.57,584.16h0.63v0.86h-0.63zM648.99,596.31h0.92v0.8h-0.92zM667.69,587.47h0.56v1.01h-0.56zM651.88,593.94h0.57v0.5h-0.57zM630.29,592.73h0.72v0.93h-0.72zM643.52,594.45h0.76v0.59h-0.76zM642.84,586.1h0.95v1.08h-0.95zM671.63,583.74h1.05v0.81h-1.05zM681.46,581.85h0.65v0.98h-0.65zM680.99,591.49h0.66v0.4h-0.66zM683.73,599.56h1.04v1.03h-1.04zM625.06,596.26h0.45v0.9h-0.45zM683.5,594.79h0.49v0.61h-0.49zM675.87,586.23h0.46v1.08h-0.46zM644.99,589.29h0.71v0.87h-0.71zM691.29,596.44h1.08v0.84h-1.08zM651.28,588.26h0.59v0.52h-0.59zM655.05,594.11h0.81v0.7h-0.81zM640.89,589.63h1.1v1.04h-1.1zM624.84,589.57h0.64v0.53h-0.64zM669.03,592.57h0.75v0.84h-0.75zM640.82,581.36h0.96v0.86h-0.96zM648.81,591.55h1v0.67h-1zM661.95,592.83h0.81v0.41h-0.81zM685.49,591.41h1.04v1.09h-1.04z" fill="#000"/>
<g stroke="#dddddd" stroke-width="1" fill="none">
<rect x="2" y="452.2" width="696.5" height="152.3"/>
<line x1="91.3" y1="452.2" x2="91.3" y2="604.5"/>
<line x1="158.3" y1="452.2" x2="158.3" y2="604.5"/>
<line x1="235.35000000000002" y1="452.2" x2="235.35000000000002" y2="604.5"/>
<line x1="312.4" y1="452.2" x2="312.4" y2="604.5"/>
<line x1="389.45" y1="452.2" x2="389.45" y2="604.5"/>
<line x1="466.5" y1="452.2" x2="466.5" y2="604.5"/>
<line x1="543.55" y1="452.2" x2="543.55" y2="604.5"/>
<line x1="620.5999999999999" y1="452.2" x2="620.5999999999999" y2="604.5"/>
<line x1="697.6500000000001" y1="452.2" x2="697.6500000000001" y2="604.5"/>
<line x1="2" y1="502.3" x2="698.5" y2="502.3"/>
<line x1="2" y1="553.4" x2="698.5" y2="553.4"/>
<line x1="91.3" y1="477.1" x2="158.3" y2="477.1"/>
<line x1="91.3" y1="528.0" x2="158.3" y2="528.0"/>
<line x1="91.3" y1="578.5" x2="158.3" y2="578.5"/>
</g>
<g stroke="#dcdcdc" stroke-width="2" fill="none">
<line x1="158.3" y1="477.1" x2="698.5" y2="477.1"/>
<line x1="158.3" y1="502.3" x2="698.5" y2="502.3"/>
<line x1="158.3" y1="528.0" x2="698.5" y2="528.0"/>
<line x1="158.3" y1="553.4" x2="698.5" y2="553.4"/>
<line x1="158.3" y1="578.5" x2="698.5" y2="578.5"/>
</g>
<text x="46.4" y="474.6" font-family='"Liberation Sans", sans-serif' font-size="12.8" font-weight="normal" fill="#000" text-anchor="middle">Non-splashing</text>
<text x="46.7" y="490.0" font-family='"Liberation Sans", sans-serif' font-size="12.8" text-anchor="middle">(<tspan font-style="italic">H</tspan> = 0.08 m)</text>
<text x="46.4" y="525.6" font-family='"Liberation Sans", sans-serif' font-size="12.8" font-weight="normal" fill="#000" text-anchor="middle">Splashing</text>
<text x="46.7" y="541.3" font-family='"Liberation Sans", sans-serif' font-size="12.8" text-anchor="middle">(<tspan font-style="italic">H</tspan> = 0.24 m)</text>
<text x="46.4" y="576.6" font-family='"Liberation Sans", sans-serif' font-size="12.8" font-weight="normal" fill="#000" text-anchor="middle">Splashing</text>
<text x="46.7" y="592.2" font-family='"Liberation Sans", sans-serif' font-size="12.8" text-anchor="middle">(<tspan font-style="italic">H</tspan> = 0.56 m)</text>
<text x="124.5" y="469.5" font-family='"Liberation Sans", sans-serif' font-size="12.8" font-weight="normal" fill="#000" text-anchor="middle">Generated</text>
<text x="124.5" y="495.1" font-family='"Liberation Sans", sans-serif' font-size="12.8" font-weight="normal" fill="#000" text-anchor="middle">Actual</text>
<text x="124.5" y="519.6" font-family='"Liberation Sans", sans-serif' font-size="12.8" font-weight="normal" fill="#000" text-anchor="middle">Generated</text>
<text x="124.5" y="546.0" font-family='"Liberation Sans", sans-serif' font-size="12.8" font-weight="normal" fill="#000" text-anchor="middle">Actual</text>
<text x="124.5" y="570.6999999999999" font-family='"Liberation Sans", sans-serif' font-size="12.8" font-weight="normal" fill="#000" text-anchor="middle">Generated</text>
<text x="124.5" y="596.5" font-family='"Liberation Sans", sans-serif' font-size="12.8" font-weight="normal" fill="#000" text-anchor="middle">Actual</text>
</svg>
</body></html>
